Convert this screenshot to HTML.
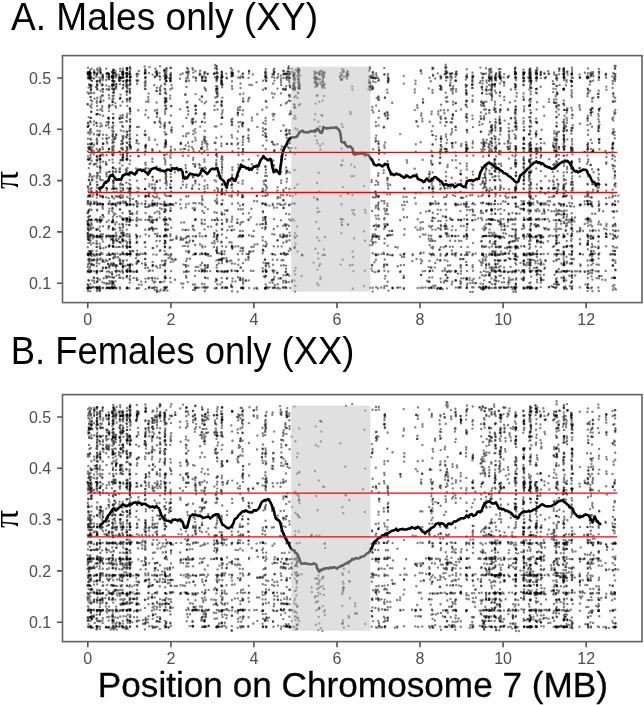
<!DOCTYPE html><html><head><meta charset="utf-8"><title>Pi along chromosome 7</title><style>html,body{margin:0;padding:0;background:#fff;width:644px;height:705px;overflow:hidden}
svg{display:block;filter:blur(.3px)}
.d{filter:blur(0.35px)}
.d path{stroke:#000;stroke-opacity:0.5;stroke-width:2.4;stroke-linecap:round;fill:none}
.ln{fill:none;stroke:#000;stroke-width:2.6;stroke-linejoin:round}
.red{stroke:#f00;stroke-width:1.3;fill:none}
.bd{fill:none;stroke:#636363;stroke-width:1.6}
.tk{stroke:#555;stroke-width:1.6;fill:none}
.tl{font-family:"Liberation Sans",sans-serif;font-size:16px;fill:#4d4d4d}
.tt{font-family:"Liberation Sans",sans-serif;font-size:38px;fill:#000}
.xt{font-family:"Liberation Sans",sans-serif;font-size:35.8px;fill:#000;stroke:#000;stroke-width:.3px}
.pi{font-family:"Liberation Serif",serif;font-size:36px;fill:#000}
</style></head><body><svg width="644" height="705" viewBox="0 0 644 705"><g class="d"><path d="M88.1 67.7h0m3.5 1h0m-1.5 3.8h0m-1.6 1.6h0m1.2 2h0m-1.8 1.6h0m2.1 1.9h0m2 1.4h0m-2.9 3.8h0m2 1.9h0m-2.6 .9h0m2.4 1.3h0m-3.2 3.6h0m3.9 .6h0m-1.3 4h0m1.8 4h0m-.4 3.1h0m-3.9 .1h0m2.5 1.7h0m.9 5.5h0m-.6 6.5h0m-.5 3.3h0m-2 1.9h0m.3 2.9h0m1.7 3.8h0m1.3 2.3h0m-3.3 .5h0m1.6 1.6h0m-1.7 4.4h0m3 .9h0m.7 3.5h0m-3.8 1.2h0m4.6 2.9h0m-3.6 1.4h0m2.5 .9h0m-3.6 1.8h0m3.9 1h0m-1.2 2.6h0m-2.4 1.5h0m1.2 2.3h0m2.3 2h0m-2.1 3.4h0m-.7 4h0m1.5 6.8h0m1.3 2h0m-2.8 3.1h0m3.4 0h0m-1.8 2.1h0m-.3 2.6h0m-2 2h0m3.6 1.4h0m-3.2 .7h0m0 2.2h0m3 .3h0m-.1 2.3h0m-1.4 2.2h0m2.5 .7h0m-4.5 .3h0m-.3 4.5h0m3.1 .3h0m-3.1 2.5h0m2.5 1.3h0m1.3 4.4h0m-2.9 2h0m1.6 4.1h0m-2.2 1.2h0m3.4 3h0m-3.6 .9h0m3.3 1.7h0m-2.9 2h0m2.6 1h0m.5 2.2h0m-3.6 .2h0m1.2 2.4h0m-1.1 2.8h0m2 1.1h0m2.7 .7h0m-4 1.5h0m1.9 1.4h0m-1.2 2h0m.8 2.5h0m-2.2 4.7h0m4.6 3.6h0m-3.6 .2h0m2.4 2.3h0m-3.1 1h0m3.4 1.7h0m-3.3 3.3h0m3.6 1.1h0m-2 2.4h0m-1.8 1.8h0m3.2 .5h0m-1.2 1.9h0m-2.3 0h0m2.8 3.7h0m-2.8 1h0m4.3 8.7h0m-3.1 .1h0m1.5 3.6h0m-2.8 .3h0m1.3 2h0m2.4 1.1h0m-3.9 1h0m.6 2.4h0m2.2 .4h0m7.3-221.2h0m-3.3 .4h0m3.6 2h0m-3.6 .2h0m.1 2.4h0m2 1.8h0m-2.3 1.6h0m3 2.5h0m0 3.2h0m-.8 2.7h0m1.1 2.4h0m-3.2 3.6h0m3.1 4.8h0m-2.7 .9h0m2.3 4.2h0m.2 3.1h0m.3 4.1h0m-.5 4.1h0m-2.8 7.3h0m2.5 1.6h0m-2.7 1.6h0m3.1 1.3h0m.5 4.8h0m-3.5 3.5h0m3.3 .6h0m-.2 3.6h0m.3 3.1h0m-.1 2.4h0m-3.1 .8h0m2.7 4.3h0m-3.1 1.9h0m4.3 .4h0m-4.3 3h0m3.6 2.7h0m0 3.8h0m-1 2.7h0m-2 1h0m2.9 2h0m.5 6.7h0m.1 2.3h0m-4.1 .7h0m3.2 1.8h0m-.1 3.8h0m.5 3.1h0m-.5 2.6h0m.2 4.5h0m-3.4 2.6h0m3.5 .2h0m-.4 2.8h0m-2.7 4.1h0m2.5 0h0m.7 2.1h0m-3.3 .3h0m3 5.5h0m-.8 9.4h0m1.3 2.8h0m-.6 7.9h0m-2.6 7.1h0m2.2 .1h0m.2 4h0m-3.2 2.1h0m3.6 .5h0m.1 3.5h0m-.5 3.9h0m-3 3h0m3.1 .4h0m.6 4.5h0m-3 .7h0m2.5 3.7h0m-3 2h0m3 .9h0m-2.8 5.1h0m3.3 .4h0m-3.5 5.9h0m4 1.1h0m-.4 2.2h0m-3.2 1.9h0m-.4 4.7h0m3.7 .3h0m-.6 3.4h0m2.7-223.4h0m.8 2.8h0m-.1 2.3h0m2.2 2.9h0m-3 1.7h0m3.2 2.7h0m-3.1 1.1h0m2.4 4.2h0m.7 3.5h0m-2.1 1.8h0m2.3 1h0m-.5 3.7h0m-1.7 1.4h0m0 2.4h0m2.7 1.5h0m-3.2 1.3h0m2.1 3.9h0m-.3 2.3h0m-1.8 1.6h0m2.1 1.1h0m-2.2 3.8h0m3 1h0m-2.5 7.8h0m-.3 3.1h0m-.4 4.3h0m-.4 2.9h0m3.5 1h0m-.3 3.8h0m.1 5.3h0m-.2 3.4h0m-2.8 2.2h0m2.6 4.5h0m-1.8 1.5h0m-.6 3.1h0m3 3.1h0m-2.8 .8h0m0 3.1h0m.2 2.3h0m-.2 4.3h0m-.2 4.2h0m0 2.3h0m2.6 1.5h0m-2.2 8h0m-.5 3h0m0 4.3h0m2.5 .9h0m-2.2 6.8h0m2.7 .7h0m-.4 3h0m.2 8.1h0m-2.3 2.2h0m.2 3.2h0m2.4 5.9h0m-3.2 .3h0m.2 4.5h0m3 3.2h0m-.5 2.3h0m-2.2 .6h0m1.8 1.8h0m.7 2.4h0m-3.1 2.2h0m.1 2.6h0m.6 2.1h0m3 0h0m-.9 5.5h0m-3.4 .7h0m1.5 3.9h0m2.3 2.6h0m-3.6 2.6h0m3.7 4.6h0m-2.8 3.1h0m3.5 6.9h0m-3.9 1.6h0m2.6 2.4h0m2.1 .9h0m-1.6 4.5h0m-2.8 .1h0m-.4 3.3h0m6.5-222.4h0m2.1 4.9h0m.9 3.2h0m-2.4 .1h0m1.7 2.3h0m-2.4 .9h0m.2 5.5h0m2.9 1h0m-2.6 2.7h0m2.2 .6h0m.1 5.4h0m.3 3h0m.1 7.8h0m-.4 5.1h0m-.2 8.1h0m-.2 2.9h0m-.4 2.6h0m-2.1 1.1h0m3 1.8h0m-2.5 7.3h0m2.5 2.7h0m-2.2 1.1h0m.5 4.7h0m1.7 5.6h0m-2.2 3.3h0m-.1 2.9h0m2.6 4.9h0m-3.3 3.9h0m2.9 8.1h0m-2.4 .6h0m.1 3.7h0m-.7 4.5h0m2.8 .2h0m-1.6 7.7h0m-.8 8.4h0m2.5 .9h0m.8 3.1h0m-.9 2.5h0m.8 4.9h0m-.5 2.5h0m-.2 2.2h0m-.1 7.1h0m-2.1 1.5h0m2.5 4.2h0m-.6 2.4h0m-.2 7.8h0m2.4 .5h0m-4.4 .5h0m2.7 8.6h0m-3.1 1.3h0m3.3 7.5h0m-2.3 .2h0m3 4.2h0m-2.7 1.9h0m1 3h0m2.6 .4h0m-1.6 1.8h0m-3 1.6h0m.6 3.7h0m3 .9h0m0 4.6h0m-2.8 .1h0m2.5 3.9h0m-.4 2.7h0m-2.5 .6h0m0 3.6h0m3.4 .4h0m3.5-218.9h0m1.8 1.5h0m-.1 2.4h0m-2.2 .6h0m-1.1 2.6h0m3.7 1.1h0m-2.5 .8h0m-.3 2.5h0m-.5 3.2h0m3.9 .1h0m-3.5 2.3h0m3.2 .5h0m-1.8 1.8h0m-.2 3.3h0m-1.3 3.9h0m-.1 3.2h0m.1 2.3h0m2.7 1.6h0m-2.9 1.8h0m3 1.3h0m-2.1 7.7h0m-.2 4.3h0m-.1 4.6h0m-.7 4.2h0m1.3 4.5h0m-.8 2.2h0m3.3 1h0m-3.6 1.3h0m2.8 .9h0m-.2 2.2h0m-2.6 .6h0m0 3.4h0m-.4 4.1h0m.1 2.3h0m-.4 2.7h0m1.4 3.2h0m-.6 4h0m.2 3.2h0m.5 5.1h0m2.2 1.2h0m-2.6 2.1h0m2.7 .9h0m-3.1 3.6h0m1 5h0m.1 2.4h0m-.2 2.3h0m.4 3.2h0m2.9 .6h0m-3.1 2.9h0m3 0h0m-4.6 4.1h0m4.9 .9h0m-3 1.5h0m1.3 5.3h0m-2.4 .3h0m3.4 2h0m-3.7 2.3h0m-.5 2.5h0m1.5 1.8h0m1.8 1.3h0m-2.4 3.2h0m.2 2.9h0m.5 2.2h0m2.9 0h0m-1.3 2.2h0m-.2 4.8h0m-2.2 .2h0m3.3 3.4h0m-.3 2.5h0m-2.2 .9h0m-1.2 2.8h0m3.2 1.3h0m-2.7 2.8h0m.5 3.7h0m2.8 .3h0m-3.1 6.6h0m1.8 2.1h0m-1.4 1.6h0m-.2 5.9h0m2.7 1.9h0m-.1 2.2h0m.8 3h0m-4.5 3.8h0m4.2 1.4h0m-4.3 1.7h0m3.3 4h0m-2.7 .2h0m.1 2.5h0m2.2 3h0m-2.6 1.3h0m7.7-219.7h0m2.7 .1h0m-2.7 2.4h0m2.5 .9h0m-.1 2.6h0m-3.3 0h0m.2 2.3h0m2.9 .9h0m-2.8 3h0m.4 3.4h0m.7 10.4h0m0 3h0m1.9 4.1h0m-2 4.1h0m2.3 9.1h0m-2.3 .8h0m2.2 2.1h0m-3.2 .8h0m2.8 3.5h0m.6 4.7h0m-2.1 3.7h0m1.6 5.8h0m-.2 5h0m.3 2.4h0m-1.4 4.6h0m1.8 1.4h0m-3.1 1.9h0m.7 2.9h0m2.5 .1h0m-.3 5.6h0m-2.3 0h0m-.8 2.9h0m2.8 2.3h0m-2.9 4h0m.1 2.6h0m1.1 11.2h0m1.9 1.4h0m-2.1 3.2h0m2.4 .6h0m-2.4 2.2h0m2.3 5.1h0m-3.3 1.2h0m3.5 4.5h0m-5.2 2h0m2.4 0h0m-.2 6.1h0m2.5 3.5h0m-2.6 3.2h0m-2.9 .4h0m5.8 2.7h0m-3.3 5h0m-.1 3.3h0m3.1 2.8h0m-2.4 0h0m2.6 2.4h0m-2.6 4.3h0m-1.5 1.8h0m3.9 0h0m.3 2.5h0m-3.1 .5h0m0 5h0m2.9 5.3h0m-5 1.4h0m3.2 .7h0m-2.8 2.9h0m4.6 3.6h0m-2.5 0h0m2.8 2.4h0m-2.7 .6h0m2.7 4h0m-.7 2.7h0m-3.2 .4h0m.1 4.1h0m1.3 2.8h0m-.3 10.9h0m6.9-218.8h0m-.4 2.8h0m.4 3.2h0m.2 4.8h0m-3.9 .6h0m2.9 1.7h0m-2.7 1.6h0m2.8 1.6h0m-3.1 1.4h0m3.9 1h0m-.4 3.5h0m.1 2.7h0m.1 4.7h0m.4 6.4h0m-.4 9.8h0m-.3 5.9h0m-3.1 9.7h0m3.6 .4h0m.3 2.8h0m-1.2 2.4h0m-3.1 1.6h0m3.8 3.9h0m.3 5.1h0m-.1 2.3h0m.5 2.6h0m-.5 4h0m-3.8 .5h0m3.1 2h0m-.4 10.7h0m0 2.9h0m-2.9 3.9h0m3.3 6.3h0m.9 5.5h0m0 8.8h0m-1.9 4.6h0m1.7 2.4h0m0 14.4h0m-2.3 .1h0m1.8 3.3h0m-.1 2.8h0m-3.3 1.3h0m3.6 3.7h0m.3 4.4h0m-4.1 2.2h0m3.9 .2h0m.2 5.5h0m-4.1 3.7h0m3.6 .7h0m-1.4 8h0m2.1 0h0m-.5 5.9h0m1 4.5h0m-2.7 1.3h0m2.5 3.1h0m0 2.3h0m-4.6 1.3h0m3.9 3.5h0m-3.7 2.1h0m3.7 10h0m3.2-220.4h0m-.1 3.3h0m0 3.4h0m0 2.7h0m0 2.9h0m.3 2.6h0m-1 2.4h0m.2 4h0m.4 4.1h0m.4 4.3h0m-.8 2h0m.6 9.1h0m.3 2.9h0m-.4 2.2h0m.2 5.1h0m0 3.1h0m0 4.5h0m-.2 4.5h0m-.3 5.1h0m-.3 3h0m.4 2.5h0m-.1 3h0m.7 2.7h0m0 8.8h0m-.2 4.4h0m-.6 3.6h0m.2 8.6h0m0 2.8h0m0 4.5h0m-.6 3.6h0m.3 5.5h0m.7 3h0m.1 3.4h0m-.7 2.6h0m3.3 .8h0m-2.9 2.4h0m0 2.7h0m3.9 1h0m-4.6 6.3h0m.9 2.3h0m2.3 .6h0m-2.9 3h0m.1 2.4h0m3.1 .5h0m-3.6 1.7h0m.3 3.2h0m-.1 9.3h0m-.3 2.3h0m.7 2.7h0m.3 2.4h0m-.2 5.1h0m-.1 4.1h0m2.6 .1h0m-2.2 2.8h0m0 10.1h0m2.1 .8h0m-2.5 2.5h0m0 3.6h0m3.2 .9h0m-3 4.3h0m3.7 1.9h0m-4.1 .6h0m.1 4.1h0m-.4 5.7h0m9.5-217.3h0m-.4 3.2h0m-1.3 2.4h0m-.5 3.6h0m.5 3.6h0m1.2 26.4h0m-1.3 16.7h0m0 8.2h0m-.4 5.3h0m-.1 2.7h0m.9 7.5h0m1.1 5.3h0m-2.5 12.5h0m1 4.6h0m-.1 7.7h0m.6 6.9h0m-.9 4.8h0m2 3.6h0m-2 5.2h0m1.8 2.3h0m-1.3 3h0m-.4 7.1h0m2.1 6h0m-2.3 .2h0m.1 6.2h0m-.6 8.5h0m4.1 1.9h0m-3 .1h0m0 5.1h0m0 9h0m3.3 3.2h0m-3.7 .3h0m-.7 4.2h0m2.3 2.5h0m-1.9 2.7h0m.2 8.3h0m0 6.2h0m.2 2.1h0m2 4.5h0m-1.6 3.3h0m7.5-221.4h0m.4 3.5h0m0 2.4h0m.8 4.9h0m-.4 3.3h0m.1 4.3h0m-.7 4h0m1.2 12.7h0m0 8.7h0m-.8 4.4h0m-.3 16.3h0m.5 3.8h0m.5 9.8h0m-.7 2.7h0m-.2 4.5h0m-.3 2.6h0m.5 8.4h0m.9 5.4h0m-.9 3.9h0m-.1 6.8h0m0 10h0m.1 8h0m.3 4.2h0m-3.9 2.6h0m3.7 0h0m.3 3.4h0m-.2 5.8h0m-.1 6.9h0m-4.3 0h0m4.2 9.9h0m.3 4.7h0m-.5 7.9h0m.3 4.7h0m-.3 6h0m-2.3 .9h0m2.1 5h0m.4 4.3h0m-3.2 .2h0m3.1 4.6h0m.3 10.6h0m-4.3 3h0m4.5 .3h0m-4.1 2.8h0m4 4.4h0m3.8-222.2h0m-.5 6.1h0m3.7 1.6h0m-4 19h0m-.4 3.5h0m.2 2.5h0m-.1 2.3h0m0 15.6h0m.7 20.1h0m.2 2.3h0m3.6 9.9h0m-.4 9h0m0 3h0m-3.6 6.8h0m-.2 2.3h0m4 5.7h0m.4 3.7h0m-3.6 3.8h0m2.6 .4h0m-2.8 1.8h0m3.1 1.5h0m-3.4 4.9h0m3.9 3.2h0m-4.2 0h0m4 4.7h0m-.5 2.7h0m-2.9 1.2h0m3.4 1.5h0m-4.6 1h0m1.6 9.8h0m2.1 .5h0m-3.7 2.6h0m4.1 .7h0m-1.6 1.5h0m1.3 5.4h0m-2.9 1.3h0m4 1.7h0m-3.9 5.5h0m3.6 12.1h0m0 13.8h0m.1 3.4h0m-4.8 2.4h0m4.7 3.1h0m-3.9 .3h0m3.3 6.9h0m-3.8 .6h0m4.4 1.9h0m-3.5 6.6h0m2.7 .8h0m3.6-219.2h0m1.3 3.1h0m.2 2.3h0m-1.9 2.4h0m-.8 8.6h0m2.7 2.7h0m-.3 3.2h0m0 11.5h0m.5 7.3h0m-2.3 .7h0m2.3 3.6h0m-.2 2.7h0m-2.1 5.4h0m.3 17.6h0m2 4.8h0m-.5 22h0m.3 14.1h0m-2.1 3.7h0m.6 4h0m-.7 4.4h0m2.3 .7h0m.3 2.9h0m.2 7h0m-2.9 .3h0m2.3 7.9h0m-2.2 1.4h0m2.2 6.3h0m-.3 9.5h0m.8 4.8h0m-2.4 .4h0m1.9 2.4h0m-.5 4.5h0m.5 5.3h0m-3.5 8.2h0m3.2 .3h0m.6 12.8h0m-2.1 10.8h0m2.6 .3h0m-3.8 3.9h0m3.1 5.1h0m-2.9 .5h0m3 3.5h0m3-225.3h0m4 4.4h0m.6 2.1h0m-5.1 .1h0m.5 4.2h0m-.1 2.5h0m4.5 4h0m-4.4 4.2h0m4.6 .9h0m-4.4 2.1h0m-.1 2.8h0m4.8 9.4h0m-5.1 15.5h0m-.1 3.2h0m1 1.9h0m3.6 2.2h0m-4.1 .9h0m4.3 1.5h0m.2 3.9h0m-.2 15.3h0m-4.9 3.9h0m4.4 3.5h0m.2 3.4h0m-4.5 10.3h0m.2 3.1h0m-.1 8.6h0m.3 7.9h0m4.5 6.1h0m-5.3 4.3h0m5 3.1h0m-4.2 2.4h0m4.1 .2h0m.5 4.7h0m-3 .2h0m-2.5 2.5h0m5.6 .5h0m-5.3 1.7h0m5.4 3.5h0m-5.4 .3h0m3.8 2h0m1.2 15.9h0m-4.4 .8h0m-.4 4.6h0m4.8 5.6h0m0 4.4h0m-4.8 .1h0m2.1 9.7h0m2.7 .1h0m-1.7 4.1h0m-2.6 .2h0m-.2 2.4h0m4.9 10.7h0m-.6 3.2h0m-4.4 .9h0m4.6 5h0m.1 3h0m-5.1 1.1h0m11-223.5h0m-4.1 .7h0m.1 2.2h0m4.3 2.2h0m-4.6 2.6h0m4.4 2.2h0m-5.2 .4h0m5.2 2.5h0m-4.3 .4h0m3.9 8.2h0m-4.1 4.7h0m3.9 1.6h0m-3.7 2.8h0m3.8 .1h0m-4 2.2h0m-.1 4.9h0m0 3.1h0m-1 2.9h0m0 2.2h0m5.8 1.7h0m-5.8 7.1h0m4.6 .1h0m-3.3 11.6h0m-.3 8h0m4.9 7.5h0m-4.2 4.3h0m3.3 1.4h0m.5 2.3h0m-5.3 4.1h0m0 2.3h0m5.5 .7h0m-5.1 8.6h0m4.9 .6h0m-4.3 2.5h0m4.4 .3h0m-4.7 3.3h0m.7 2.6h0m3.6 1.6h0m-3.6 .7h0m3.7 2.5h0m-4.3 .8h0m-.2 7.6h0m2.3 .1h0m2.8 0h0m-2.3 9.3h0m-2.4 .1h0m4.3 2.7h0m0 2.5h0m-5.1 8.9h0m5.2 .1h0m-4.6 3.8h0m2.1 6h0m-3 .1h0m5.2 4.6h0m-3.2 2h0m3.4 3.9h0m-4.8 2.5h0m3.9 5.1h0m-3.5 6.7h0m4.7 .1h0m-2.5 .5h0m1.9 1.8h0m-1.9 1.4h0m2.2 3.9h0m-5.2 1.6h0m-.2 6.8h0m5.8 .6h0m-5.8 4.9h0m5 1.9h0m.4 4.3h0m-3.7 4.7h0m.5 3.6h0m4.2-205.5h0m-.4 21.1h0m.6 21.4h0m-.1 2.8h0m-.7 16.4h0m3.9 2.8h0m-3.7 3.5h0m-.1 14.8h0m3.6 1.8h0m.1 2.7h0m-3.5 8.7h0m-.2 10.5h0m4.7 11.4h0m-4.7 2h0m2.3 .1h0m-2.1 22.7h0m5.3 8.6h0m-.2 2.3h0m-3.5 1.2h0m-.4 19.7h0m2.8 .2h0m-1.9 1.9h0m1.6 18.2h0m7.7-206.3h0m-2.2 .9h0m-.5 4.3h0m.2 30.5h0m2.7 17.1h0m-2.2 16.4h0m-.1 6.7h0m2.2 6.4h0m0 25.6h0m0 3.3h0m-1.8 3.2h0m-.3 11.7h0m-.5 4.5h0m.9 4.2h0m.2 14.3h0m1.4 7.1h0m-1.5 9.1h0m1.6 7.3h0m0 41.4h0m4.3-219.5h0m1.3 4h0m-.6 3.9h0m-1.6 2.7h0m2.7 2.1h0m-2.7 .4h0m.3 5.9h0m-.9 7.4h0m2 7.2h0m.3 5.8h0m.3 3.6h0m-.1 3.5h0m-1.6 3.4h0m2 15.3h0m-5.3 2.9h0m2.9 .2h0m1.9 6.5h0m-2.4 2.7h0m3.3 .9h0m-5.3 2.5h0m4.9 1.2h0m-5.4 2.4h0m5.3 3.3h0m-2.8 9.4h0m.2 3h0m.3 4.2h0m-.5 4.5h0m1 7.7h0m-.3 2.6h0m2.1 9.1h0m-2.3 .2h0m2.6 7.1h0m-2.6 .9h0m-.4 2.9h0m-1.6 15h0m4.3 7.5h0m-2.8 0h0m3.4 6.7h0m-2.5 .2h0m-2.7 1.8h0m2.7 3.8h0m2.3 .1h0m-3.7 3.4h0m2.8 .4h0m-1.6 4.8h0m2.3 1.3h0m-1.6 6.4h0m-.8 2.3h0m-2.8 3.5h0m2.5 .5h0m2.4 .5h0m.5 5.8h0m-2.6 .2h0m-2.3 .4h0m2.5 5.7h0m1.3 4.4h0m-4.4 1.7h0m9.8-214.2h0m.1 3h0m.1 4.4h0m-1.2 42h0m-.6 2.7h0m.9 2.2h0m1 6.9h0m-.2 3.3h0m-.7 7.6h0m-.5 5.6h0m1.3 1.9h0m.4 2.4h0m-.4 6h0m-.2 2.1h0m.1 4.2h0m.1 13.5h0m-.5 8.1h0m-.7 3h0m1.3 14.5h0m-.7 5.1h0m2.2 .1h0m-1.6 17.5h0m-.3 3.6h0m-.1 6.9h0m-2.9 4.3h0m3.2 .6h0m0 13.5h0m-3.3 4.1h0m5 17.4h0m-2 8.4h0m7.2-213.8h0m-4.6 .5h0m4.7 3h0m-4.4 3.5h0m.2 2.9h0m-.4 13.5h0m4.1 5.4h0m-3.8 6.5h0m0 3.5h0m-.3 4.4h0m.1 7.9h0m4.5 4.8h0m-5 2.5h0m.2 3.3h0m-.2 5.2h0m.5 2.6h0m3.6 10.9h0m-3.9 13h0m4.4 1h0m-4.6 1.7h0m4.4 .9h0m-4.4 12.9h0m.2 2.8h0m3.9 1.2h0m-.3 4.3h0m-3.4 14.4h0m3.7 0h0m-4.3 16.7h0m4.7 13.2h0m0 2.9h0m-3.8 .4h0m4.1 7.8h0m-4.8 .7h0m4.7 9.2h0m-4.5 0h0m5.1 11h0m-4.6 1.7h0m2.3 .2h0m-2.7 3.7h0m3.5 .1h0m-3.9 13.6h0m4.2 3.1h0m-3.7 .3h0m-.5 2.2h0m10-217.7h0m-3.2 4h0m3.7 1.2h0m-3.6 3.1h0m2.5 0h0m0 7.1h0m1.3 2.8h0m-3.9 6.2h0m-.2 4.8h0m4.5 0h0m-1.6 1.6h0m0 12.1h0m-.2 2.8h0m-2.2 3.8h0m2.9 .5h0m-.3 8.5h0m-.7 5.7h0m.1 2.2h0m-1.9 2.9h0m2.4 .9h0m-2.7 1.7h0m.4 2.8h0m2 3.8h0m-2.3 2.4h0m2.2 6.1h0m.2 2.4h0m.4 5.6h0m-2.3 .6h0m3.7 5.3h0m-4.2 2.9h0m2.7 4.4h0m-.3 5.6h0m0 2.7h0m0 3.5h0m-2.5 3.7h0m.3 2.4h0m.1 6.2h0m2.8 2.4h0m-2.8 3.9h0m1.7 2h0m-2.4 6.8h0m3.1 .1h0m-3.2 2.8h0m3.2 1.2h0m-.2 5.5h0m1 6.6h0m-3.2 .4h0m2.8 10.2h0m-2.6 .8h0m2.8 6h0m-3.4 .2h0m0 9.4h0m2.6 2.2h0m-3.1 4.1h0m3.1 1.2h0m2.4 .8h0m-5.3 .3h0m3.6 6.1h0m-3.3 6.1h0m2.5 .4h0m-2.1 3.2h0m3 .9h0m-.5 2.8h0m2.8-217.4h0m-.1 70.5h0m-.5 2.4h0m.3 2.8h0m.6 5.7h0m-.6 30h0m.2 2.9h0m.2 21.1h0m4.3 10.8h0m-.9 6.7h0m-3.1 .1h0m4.1 16.3h0m-4.2 10.9h0m2.7 2h0m-2.6 9.2h0m-.6 2.2h0m2.6 3.8h0m-2.4 7.1h0m0 9h0m7.5-222.3h0m1.5 1.7h0m-1.7 1.5h0m2 1h0m-2.8 4.3h0m3.3 0h0m.1 3.2h0m-1.1 1.9h0m.1 2.6h0m.8 5.4h0m-.3 2.6h0m-1.1 2.1h0m1.7 1.9h0m0 2.7h0m-2.4 1.7h0m2.3 4.4h0m-3.1 3.9h0m3 3.6h0m-2.9 .5h0m1.9 16.5h0m-.2 11.3h0m-1.7 5.1h0m1.5 6.9h0m.8 3.5h0m.1 3.3h0m-.6 3.5h0m-.2 4.3h0m-.1 3.7h0m.8 7.8h0m-2.4 4.3h0m1.7 1.3h0m1.8 7.8h0m-3.5 1.4h0m2.5 4.6h0m-.3 3.5h0m.5 2.7h0m-.1 2.2h0m-2.6 8.7h0m2.4 .4h0m.9 7.2h0m-3.2 .2h0m2.2 3.5h0m-.2 7.2h0m-2.1 2.6h0m-.6 3.5h0m3.4 .1h0m-.3 2.1h0m-2.6 1.8h0m3.2 .4h0m-3 2h0m-.7 3.8h0m3.1 1.7h0m-.1 2.2h0m-.5 9.4h0m2.5 2.8h0m-2 1.7h0m-.3 2.6h0m.6 3.5h0m-.3 9h0m-1.4 1.6h0m1.8 2.7h0m-2.7 4.1h0m7.3-216h0m0 2.4h0m-.4 4h0m.2 2.9h0m-.1 2.4h0m.5 3.1h0m.3 10.4h0m-.6 3.8h0m-.1 3h0m.7 7.8h0m-.8 2h0m.3 3h0m-.6 6.9h0m.1 12.7h0m0 6.7h0m.1 2.5h0m.4 10.2h0m-.5 2.6h0m.4 3.1h0m.2 2.4h0m.2 3.4h0m-.2 2.3h0m-.1 2.8h0m-.5 3.1h0m1.1 8.3h0m-.3 5.1h0m-.5 2.1h0m.5 2.3h0m2.6 .5h0m-2.3 6.1h0m-.8 4.1h0m.3 9.8h0m2.4 .1h0m-2.7 5.6h0m.1 3.9h0m0 5.6h0m.2 5.1h0m-.4 7.3h0m.5 4.5h0m2.5 5h0m-3.1 1.2h0m-2.5 .9h0m5.3 .7h0m-2.1 4.2h0m-2.8 1.7h0m2.6 3.2h0m-.4 8.3h0m2.5 .5h0m-2.5 5.9h0m.5 4.4h0m-1.8 2.1h0m4.3 3.3h0m-2.7 .3h0m4.4-214.4h0m.6 4.6h0m.1 65.5h0m-.7 46.9h0m3 5h0m-1.9 14.7h0m-2.4 .1h0m1.5 8.9h0m.3 2.5h0m2.7 4.9h0m-2 3.6h0m-1.1 7.5h0m-.3 8.9h0m.2 11.6h0m.7 2.5h0m2.6 .2h0m-2.9 10.6h0m.4 6.7h0m-.3 9.4h0m5.5-218.1h0m.5 3.4h0m-1.5 3.3h0m.7 5h0m-.1 4.9h0m.4 2.5h0m.1 30h0m-.2 3.3h0m-.2 2.5h0m-.3 10.6h0m.4 2.3h0m-.2 6.9h0m.6 7h0m-.1 16.1h0m0 2.6h0m-.2 4.7h0m-.5 6.8h0m.7 2.8h0m-.6 3.4h0m.8 3.2h0m-.9 5.9h0m.4 6.9h0m0 13.1h0m.1 2.4h0m-.7 2.5h0m.7 4.6h0m1.9 3.3h0m-2.8 .5h0m.3 12.3h0m3.8 4h0m-3.6 .3h0m.5 2.2h0m-.4 14.6h0m2.8 .2h0m.2 7h0m-3.2 .4h0m.9 7.3h0m-.3 3h0m3.2 0h0m-4.1 5h0m.6 4.8h0m6.6-219.7h0m4 2.8h0m-2 2.2h0m2.3 .4h0m-4.7 .5h0m2.3 6.1h0m.1 4.4h0m-.5 6.4h0m0 12.7h0m-2.3 3h0m0 2.7h0m4.8 1.8h0m-4.7 .7h0m.6 7h0m3.4 2.3h0m-3.1 2h0m-.9 5h0m-.7 7.1h0m5.5 3.6h0m-4.5 1.1h0m4.4 1.7h0m-4.1 3.5h0m4.4 .7h0m-4.5 3.5h0m4.3 1.4h0m-4 1h0m4.1 5.4h0m-4.4 4.3h0m-.1 3h0m.1 8.3h0m4.3 4.7h0m-4.4 1.9h0m4.3 1h0m-4.4 7.5h0m-.5 4.1h0m.4 8h0m1.8 2.3h0m2.9 3.5h0m-4.4 .1h0m-1 10.2h0m5.4 2.6h0m-5.4 .9h0m2.8 1.6h0m2.5 6.4h0m-2.6 .1h0m1.9 4.6h0m-2.2 .5h0m-1.6 10.2h0m4.4 2.4h0m-2.2 2.2h0m2 2.9h0m-4.5 .4h0m.7 5.5h0m4.4 3.4h0m-4.8 1.7h0m2.7 2.8h0m2.1 3.1h0m-5.4 .3h0m.4 6.2h0m2.3 2.7h0m2.4 7.6h0m-5.1 4.2h0m11.4-218.4h0m-.4 4.6h0m-5.2 15.7h0m-.2 4.9h0m5.4 .2h0m-.4 2.4h0m-5 .1h0m-.1 9h0m5.4 18.9h0m0 6h0m-5.4 1.4h0m5.5 2.3h0m-5.5 .8h0m5.7 1.6h0m-5.7 10.3h0m5.8 7.9h0m-.1 8.2h0m-5.6 29h0m-.2 8.5h0m5.9 8h0m-5.9 .6h0m5.6 5.7h0m-5.6 31.5h0m5.8 3.2h0m-.4 3.2h0m0 2.5h0m-2.7 0h0m-2.6 18.7h0m5.7 1.9h0m-3 .5h0m-2.7 1.1h0m6-211h0m3.7 3.4h0m-3.3 10.3h0m2.2 .2h0m.2 32.9h0m0 2.6h0m.1 43.8h0m-.1 24.3h0m2.3 12.5h0m-2.8 7.7h0m-.7 8.5h0m3.1 13.7h0m-4.8 4.4h0m2.7 .7h0m3 8.4h0m-1.1 2.4h0m-2.2 .2h0m1.9 4.3h0m-2.4 .3h0m.1 19.1h0m2.4 .2h0m-4.3 17.2h0m5.3 .3h0m2.1-206.2h0m.8 32.1h0m.1 12.6h0m.4 28.7h0m-.9 11.8h0m.3 5.5h0m-.4 22.9h0m.4 5.4h0m-.4 23.2h0m3.2 .1h0m-2.6 19.8h0m-.2 44.4h0m8.6-219.5h0m-.5 2.5h0m.2 2.4h0m-.5 2.6h0m-2 4h0m3.3 .2h0m-.5 7.8h0m-2.8 1h0m3.3 12.1h0m.3 5.4h0m-4.2 2.6h0m3.1 8.1h0m.1 2.9h0m-2.4 2.2h0m2.4 1h0m-2.6 4.2h0m2.5 1.4h0m-2.3 1.7h0m2.7 2.6h0m-3.1 1.2h0m3.7 1.9h0m.1 3.4h0m-3.6 5.2h0m2.7 3.7h0m-.3 16.9h0m.5 3.5h0m-.2 3.1h0m-.6 3.1h0m.6 4.9h0m-.1 4.3h0m1.3 3.2h0m-4 .4h0m2.6 1.7h0m-2.5 1h0m-.4 4.5h0m3 .2h0m-3.2 7.5h0m2.8 .4h0m-2.3 7.2h0m2.6 5.7h0m-2.4 .7h0m2.2 1.7h0m-2.3 .8h0m2.9 2h0m-3.2 1.8h0m2.7 3.6h0m-3.1 .4h0m.4 9.1h0m0 3.4h0m2.9 1.3h0m1.1 2.2h0m-3.3 1.8h0m2.1 .7h0m-2.5 3.4h0m-.3 3.4h0m2.4 6.3h0m-1.7 3.1h0m2.9 .6h0m-.3 3h0m-3.3 2.1h0m3.4 2.9h0m-3.4 .1h0m3.3 4.8h0m-2.2 .4h0m1.9 7.9h0m1.2 2.5h0m-1.6 1.7h0m7.2-214.4h0m-.4 2.7h0m-.1 16.4h0m0 48.7h0m-4.9 51h0m.7 2h0m4.9 8.8h0m-3.2 1.8h0m2.8 28.5h0m-.4 19.8h0m.8 5.9h0m-4.2 4h0m.6 2.7h0m3.8 4.3h0m-.9 9.5h0m-2.3 2.3h0m3 .1h0m-3.1 4.4h0m3 .5h0m1-217.4h0m.3 2.4h0m4.3 1.4h0m-3.8 3.8h0m3 .3h0m-3 2.5h0m-1.2 2.9h0m4.3 5.1h0m-3 5.4h0m-1.5 3.4h0m1.5 16.6h0m-1.1 2.1h0m0 3.5h0m-.3 24.6h0m4.4 0h0m-3.4 7.6h0m-.7 8.8h0m.5 4.6h0m.4 3.3h0m3.3 18.6h0m-.3 3.4h0m.7 6.5h0m-.5 6.7h0m-.5 3.9h0m-2.9 .1h0m0 11.4h0m3.4 7.2h0m-3.7 2.7h0m.7 5.4h0m3.2 5.9h0m-3.9 6h0m4 .1h0m-2.5 8.3h0m2 5.1h0m-4.2 4.9h0m4.1 8h0m-2.8 4.3h0m3.3 7.2h0m-2.9 .7h0m0 2.4h0m3.4 .3h0m5-216.9h0m.3 3.7h0m-2.5 1.2h0m2.5 2.2h0m-2.5 .6h0m0 4.2h0m.2 2.3h0m2 4.1h0m-2.2 4.4h0m0 11.7h0m2.6 20.3h0m-2.7 5.5h0m.8 15.5h0m2 1.1h0m-2.6 1.9h0m2.8 .9h0m-2.9 6.1h0m0 3.5h0m.1 11.9h0m.1 8.7h0m0 2.6h0m2.2 6.7h0m-2.4 5h0m2.3 .5h0m-3 2.1h0m3.3 2.9h0m-3.8 3.7h0m3.7 1h0m0 2.9h0m-2.5 12.4h0m2.2 5.5h0m.7 9.6h0m-3.7 1.2h0m2.4 .6h0m.8 5.6h0m-1.7 3.6h0m2.2 6.5h0m-3 1h0m.7 6.3h0m2.3 5h0m-2.7 .2h0m2.3 9.9h0m-2.8 2.9h0m2.7 4.2h0m-.4 4.8h0m5.8-221h0m-.5 2.3h0m-.9 2.9h0m2.7 2.3h0m-2.4 .6h0m1.5 2.5h0m-3.2 1.3h0m3.5 4.3h0m.1 2.9h0m-3.4 .9h0m4.1 1.2h0m-4.3 1.8h0m3.7 7.7h0m.6 4.1h0m-4.4 2.4h0m4.8 7.7h0m-1.1 3.3h0m-3.1 15.1h0m3.3 1.1h0m.2 3.2h0m-3.5 .2h0m.2 3.8h0m3.3 2.7h0m-.2 2.8h0m-3.4 .6h0m3 4.5h0m.8 2.7h0m-4.2 4.1h0m-.9 3.9h0m1.1 8.3h0m1.2 3.2h0m2.2 1.9h0m-3.5 .7h0m.9 5.5h0m-.3 2.9h0m-.6 6.3h0m3.4 1.1h0m-.2 3.4h0m-2.2 2.6h0m2.8 .6h0m-4.5 8.2h0m3.9 .9h0m-3.2 9.1h0m3.2 .4h0m0 5.3h0m-.3 6.4h0m-3.1 .1h0m1.1 3h0m2.5 3.6h0m-2.4 3.2h0m2.8 0h0m-.4 4.5h0m-2.9 1.8h0m3.3 6.3h0m-1.1 2.5h0m-2.2 3.3h0m-.5 11.4h0m-.1 3.1h0m-.4 3.2h0m1.8 2.7h0m1.9 1.1h0m-.1 6.4h0m-3 .5h0m-.7 4.7h0m4.7 .6h0m1.4-219h0m-.2 3h0m2.1 2.5h0m.3 2.2h0m1.4 1.7h0m-.7 4.6h0m-1.6 2.8h0m-.2 3.2h0m2 1h0m1.1 6h0m-1.1 8.8h0m-.5 2.3h0m.7 8.7h0m.7 2.8h0m-.3 10h0m-3.8 19.4h0m4 .2h0m-.8 5.6h0m0 16.3h0m-.1 17.9h0m1 6.3h0m-3 1.9h0m2.3 7.5h0m-3.2 .1h0m.7 15.2h0m1.8 1.6h0m.9 12.8h0m1.8 2.7h0m-2.3 .4h0m1 7h0m-1.1 4.4h0m1.1 19.8h0m-1 3.2h0m.6 3.5h0m-.7 6.1h0m-2.5 1.3h0m3.3 4.2h0m-.3 5.6h0m3-223.3h0m1.5 2.1h0m-2.3 .2h0m1.2 3h0m1.8 1.9h0m-3 .3h0m1.3 3.8h0m.7 2.3h0m-.5 4.1h0m1 2.5h0m-1.9 4.4h0m-.3 5.1h0m2.8 6.1h0m-2.9 25.5h0m0 55h0m-.4 41.9h0m.5 25.1h0m5.1 3.7h0m-1 20.8h0m13.1-202.5h0m-.3 4.8h0m.2 3.5h0m-.1 37.8h0m.1 12.5h0m-.5 65.3h0m-.5 65.2h0m6.6-190.3h0m-3.1 .5h0m2.1 1.7h0m-1.7 3.3h0m2 1.5h0m-3.3 .3h0m.5 2.8h0m3.9 1.1h0m-2.2 .3h0m-3.2 3h0m1.5 9h0m2.7 5.9h0m-3.8 1.9h0m-.4 10.5h0m3.1 7.5h0m1.5 4.9h0m-2.5 1.9h0m-2.2 7.5h0m1.8 4.5h0m.7 3.1h0m2.5 2.2h0m.4 3.8h0m-1.9 23.3h0m-1.5 10.1h0m2.2 8.7h0m-2.3 7.3h0m.6 9.4h0m1.9 3.3h0m-3.2 10.3h0m2.7 6.9h0m-1.7 8.7h0m2 3.1h0m-3.8 8.1h0m2.5 4.5h0m.3 5.4h0m.8 7.2h0m-1.6 3.8h0m2.9 7.3h0m.1 2.2h0m-3.4 4.1h0m1.5 2.1h0m3.5-214.5h0m1.6 2.8h0m-1.4 2h0m1.7 1.3h0m-1 3.1h0m-.1 2.4h0m.1 2.6h0m-.8 2.4h0m2.4 .6h0m-.6 7.9h0m-1.3 4.7h0m-1.4 14.5h0m1.1 15.6h0m.3 13.1h0m2.3 93.2h0m-1 12.4h0m.4 5.3h0m-2.1 .4h0m19.8-185.9h0m1.5 2.2h0m-3.3 2h0m1.4 1.6h0m-1.7 1.8h0m3.9 .2h0m-2.6 1.9h0m.5 45.4h0m.9 2.6h0m-.7 14.8h0m-.5 7.1h0m1 11.7h0m-.5 4.4h0m.9 22.2h0m-2.3 8.9h0m.9 8.2h0m-.7 14.8h0m2.4 .4h0m-1.6 2.8h0m.3 2.4h0m-.5 8.5h0m1.2 26.7h0m-1.8 4.8h0m7.2-192.3h0m.3 2.5h0m-1.4 2.3h0m3.7 36.9h0m-2.8 79.5h0m.3 31h0m1.9 40.8h0m2.2-178.9h0m.1 3.1h0m2.3 62.7h0m-3.4 12.4h0m3.4 2.4h0m-.7 8.9h0m-2.2 .3h0m.7 18.8h0m1.5 15.1h0m-1 3h0m1.6 1.6h0m-.4 23.7h0m-1.3 13h0m.4 5.6h0m-.7 7.9h0m.9 6.2h0m-.6 17.7h0m15.7-199.6h0m-3.5 67h0m-1 29.9h0m1 23.9h0m.6 2.7h0m-1.6 18.5h0m1 9.6h0m-.2 30h0m-.7 15.2h0m5.9-217.8h0m-.7 2.5h0m3.7 1.2h0m-1 3.5h0m-2.2 .9h0m3.8 1.2h0m-.5 4h0m-3.9 .5h0m.9 4.4h0m1.9 2.6h0m.3 18h0m-.1 3.1h0m1.1 2.2h0m-.1 37h0m-1.5 30.8h0m1.2 17.1h0m-.8 13.8h0m1.7 14.9h0m-1 8.4h0m1.8 2.2h0m-2.3 0h0m-.3 2.2h0m.9 4h0m-.7 2.4h0m-2.4 .2h0m2.8 8h0m1.8 8.9h0m-2.6 2.8h0m-.4 3.6h0m1 2.4h0m2.5 1.1h0m-4.9 15.7h0m2.7 0h0m0 3.8h0m3.5-218.5h0m1.8 4.8h0m.4 3h0m-2.8 1.2h0m2.9 14.4h0m-1.8 1.4h0m2.1 2h0m-2.7 5.7h0m2.9 5.3h0m-.3 6.8h0m-2.9 4.6h0m2.8 3.1h0m-2.6 .6h0m.3 9.6h0m-.7 2.6h0m.4 2.5h0m2.5 2.6h0m.2 4.2h0m.3 3h0m0 3.5h0m0 5.6h0m-.6 13.7h0m-.3 2.5h0m-1.8 4.9h0m1.8 1.7h0m.1 2.2h0m-2.7 .3h0m-.1 6.6h0m.3 2.4h0m.6 2.9h0m2.3 .3h0m-.5 7h0m-2.1 1.6h0m2.7 3.8h0m-.5 5.9h0m-2.6 .2h0m.8 3h0m2.5 .4h0m-.2 6.2h0m-1.8 1.3h0m-1.2 3h0m2.6 6.8h0m.7 2.6h0m-3.4 3.4h0m2.9 12.2h0m-2.6 .7h0m0 4.6h0m1.7 11.8h0m-1.4 15.6h0m8.1-219.3h0m0 6.7h0m.6 22.8h0m-.1 16h0m-.8 13.9h0m1.2 15.2h0m-.9 2.9h0m.3 2.4h0m-.1 5.6h0m-.7 16.8h0m-.2 2.9h0m.7 19.5h0m-2.6 8.4h0m2.5 0h0m.2 2.4h0m-.1 5.4h0m2.6 1.6h0m-1.4 3.4h0m-1 4.2h0m2.2 6.1h0m-2.3 0h0m.8 2.7h0m-1 2.1h0m.5 9.8h0m-.2 4.6h0m-.8 9.4h0m-1.9 1.4h0m3 5.4h0m-.4 5h0m-.5 2.6h0m.5 3.7h0m1 5.1h0m-.6 2.7h0m2.1 7.3h0m-5.7 1.6h0m3 .5h0m3.7-211.9h0m.7 4.3h0m-.6 2.1h0m-.9 7.1h0m.4 3.2h0m4.7 10h0m-4.6 9.6h0m-.2 3.2h0m.4 2.3h0m-.2 43.3h0m.3 2.9h0m.2 2.6h0m-.4 11.8h0m-.1 4.9h0m2.6 1.3h0m-2.2 .9h0m.1 2.9h0m1.9 5.8h0m-2.7 .1h0m.1 9.2h0m0 2.3h0m.4 8.1h0m4.4 16.9h0m-2.7 .1h0m.9 4.3h0m-3 .3h0m.2 10h0m.1 8.8h0m4.6 .6h0m-2.3 .1h0m-2.8 9.6h0m1 6.7h0m-.6 10.4h0m5 6.2h0m-4.1 2.6h0m6.9-43.7h0m2.2 .6h0m.2 18.7h0m0 21.4h0m6-211.5h0m0 7.5h0m-3.6 50.5h0m4.4 55h0m-1 7.7h0m.6 5h0m.4 3.3h0m-2.5 0h0m1.2 4.4h0m.7 7.7h0m-3.8 3.1h0m4.4 8.8h0m-.3 5.6h0m-.6 19.7h0m-3.3 .4h0m1.5 2h0m2.2 .1h0m-.1 8h0m-3.2 .3h0m-.8 6.6h0m3.8 3.8h0m-.2 2.3h0m-3.5 9.5h0m3.6 .9h0m3-128.1h0m.4 2.3h0m-.2 14.1h0m-.4 20.3h0m.6 4.9h0m0 15.5h0m8.4-136.7h0m0 3.1h0m-.7 5.7h0m0 3h0m0 17.7h0m1.8 11.6h0m-.8 22.6h0m-.2 7.3h0m-.9 17.2h0m1.7 5.7h0m-.5 18.7h0m-1.1 4.5h0m1 5.8h0m-.2 23.9h0m-2.8 26.7h0m3.8 4.9h0m-4.2 2h0m8.1-190.3h0m.9 2.7h0m1.6 28.7h0m-5.8 3.1h0m.3 2.5h0m3.8 5.7h0m-.1 2.4h0m1.1 2.8h0m.1 2.6h0m-4.6 5h0m2.8 16h0m2 17.6h0m-.3 21.2h0m.4 7.3h0m-2.1 4.5h0m-.1 20.3h0m-2.8 6.1h0m5.1 2.7h0m-2.3 .6h0m.1 5.2h0m-3 2.1h0m2.7 0h0m2.6 4.6h0m-2.9 2.2h0m.7 16.2h0m1.4 8.1h0m-1 2.4h0m1.6 8h0m-1.6 3.6h0m-.4 12.8h0m-3 .3h0m11.1-199.6h0m-5.8 10.9h0m3.2 112.2h0m-3.1 17.3h0m2.2 5.7h0m3.5 1h0m-.1 3.2h0m-5.1 14.1h0m5.1 14.1h0m-3.5 4.1h0m1.8 9.8h0m2 .9h0m-3.6 5.7h0m3.1 .2h0m4-218.6h0m.5 6.8h0m-3.4 1.9h0m1.1 3.5h0m1.7 8.8h0m.2 2.8h0m-.9 18.8h0m-.2 2.5h0m-1.8 7.7h0m3.2 4.3h0m-1.2 5.1h0m1.1 3.9h0m-.2 9.3h0m-1.1 6.5h0m1.2 5.4h0m-1.5 6.6h0m1.1 2h0m-2.8 6.8h0m3.2 .7h0m-3.6 1.8h0m0 2.9h0m3.9 2.1h0m-.9 2.2h0m-.3 2.3h0m.6 2.2h0m-3.4 2.3h0m3.8 .8h0m.3 2.7h0m-.3 4.9h0m.5 7h0m-2.6 1h0m-1.6 6.5h0m3.7 1.7h0m-.3 4.8h0m2.4 .5h0m-2.3 2.6h0m-1.7 6.5h0m1.4 2.4h0m-1.1 6.1h0m.1 3h0m1.5 2h0m-3.2 .3h0m0 4.1h0m3.2 3.5h0m-3.1 5.1h0m2.8 .4h0m-3.1 6.8h0m5.4 6.5h0m-3.3 0h0m1.3 3.4h0m-2.8 .3h0m2.3 6.3h0m-3 .1h0m5 10.4h0m-2.8 .1h0m6.2-214.6h0m3 3.2h0m-5.5 1.9h0m5 7.3h0m.2 3.1h0m.3 21.3h0m-2.5 1.3h0m.1 2.8h0m2.3 3.5h0m-.2 4.7h0m-4.4 13.6h0m-.1 3.3h0m5.1 2.2h0m-.1 3.5h0m-1.2 6.5h0m.6 2.4h0m0 3.5h0m-.4 5.7h0m0 18.5h0m.3 2.8h0m.1 4.8h0m-4.9 12.2h0m2.9 2.1h0m-2.4 .2h0m1.7 5.8h0m3 .3h0m-2.9 4.2h0m.6 6.9h0m2.3 .1h0m-2.6 7.1h0m-2.6 1.4h0m5.5 .1h0m-.1 6.7h0m-5.7 4.5h0m5.7 6.2h0m-1.2 2.3h0m.9 6.2h0m-3.1 4.1h0m2.7 1h0m-4.8 2.2h0m5.3 15.6h0m.3 3.5h0m-5.5 3.8h0m2.2 2.2h0m3 .5h0m5.1-221.5h0m-.3 7.1h0m.8 6.5h0m-.5 12h0m.4 8.8h0m-5 3.3h0m2.9 5.5h0m.4 3h0m1.2 5.2h0m.9 3.6h0m-1.3 3.8h0m.8 8.7h0m-4.9 1.9h0m4.9 .3h0m-4.7 1.9h0m5.3 4.4h0m-1.9 5.7h0m2.2 .5h0m-5.5 .4h0m3.9 2.3h0m.6 20.1h0m.2 4.4h0m-.3 4.2h0m-1 7.6h0m1.4 8.7h0m-.6 6.7h0m.6 6h0m-3.4 6.7h0m2.8 .2h0m.9 4.1h0m-1.1 3.5h0m.8 2.2h0m-5.1 0h0m4.2 2.6h0m.4 4.4h0m-.1 12.8h0m-1.9 1.1h0m.9 12.9h0m.4 8.3h0m-.2 2.3h0m-2.4 .3h0m3.5 4.1h0m.1 5.3h0m-2 2.1h0m2.9 5.9h0m-4.1 .7h0m4.3-217.1h0m5 1.2h0m-1.2 2.5h0m-3.8 .9h0m4.8 1.2h0m-1.2 2.1h0m-.3 2.9h0m-.3 2.4h0m.6 4.3h0m1.8 1.7h0m.3 2.3h0m-5.6 3.6h0m5.8 4.7h0m-5.1 8.5h0m5 5.2h0m-.4 2.9h0m-1.9 4h0m1.3 6.9h0m.1 2.9h0m-1.1 2.3h0m-3.8 5.1h0m4.7 3.6h0m.6 4.3h0m-5 4.1h0m4.9 8.6h0m-4.7 4.4h0m-.1 2.4h0m4.3 10.7h0m-1.4 7.5h0m0 2.7h0m-2.9 .4h0m5.5 6.8h0m-2.8 23.2h0m1.9 1.4h0m.4 6.5h0m-5 2.5h0m4.2 1.4h0m-4 4.3h0m4.2 1.4h0m-2.6 .4h0m.7 4.5h0m-.1 6h0m2.9 .1h0m-1 3.8h0m-4.8 3.9h0m5.4 0h0m-5 6.5h0m2.7 4.2h0m-2.2 .3h0m-.5 6.2h0m2.4 .1h0m-2.4 6h0m4.9 4h0m-.5 2.4h0m4.2-212.1h0m.2 2.2h0m-.7 2.5h0m.3 3.9h0m-2.6 5.5h0m-.1 2.7h0m3 .4h0m0 2.3h0m-.4 11.6h0m-2.6 1.4h0m3 6.3h0m-.6 15.9h0m.3 3.3h0m-.2 12.4h0m-.3 9.9h0m.6 3.3h0m0 4.4h0m.4 7.6h0m-1 15.6h0m.2 9.4h0m-.3 3.4h0m3.2 8.7h0m-2.5 .8h0m2.6 14.4h0m-2.7 10.1h0m2.6 5.8h0m-2.7 .4h0m3.3 4.4h0m-3.8 .2h0m-.4 13.6h0m.4 17.2h0m2.7 2h0m-2.1 6.8h0m0 7h0m2.7 0h0m2.5-178.1h0m.1 36.6h0m-.9 17.5h0m.5 7.1h0m-.5 3.4h0m.7 6.5h0m-.1 3.6h0m-.3 7.6h0m.7 6.1h0m2.9 6.4h0m-3.2 .2h0m-.5 6.7h0m3.8 8h0m-3 .8h0m-.3 6.1h0m2.8 0h0m.3 10.7h0m-2.7 4.2h0m-.2 6h0m-.2 7.8h0m-.5 4.2h0m2.8 .1h0m-2.7 6.5h0m.2 2.4h0m.3 3.1h0m-.2 2.6h0m2.7 4.6h0m-2.4 .2h0m-.8 2.8h0m.3 2.8h0m0 3.6h0m6.1-218.4h0m.4 5.3h0m-.2 2.2h0m-1 2.8h0m-.3 5.2h0m.3 2.3h0m.4 3.7h0m-.2 2.7h0m.7 7.4h0m-.7 3.8h0m.8 2.3h0m-.3 7.7h0m.4 3.4h0m-.2 3.3h0m0 8.9h0m-.6 12h0m.3 4.3h0m1.2 2.1h0m-1.6 2.9h0m.7 4.3h0m0 7.7h0m-.1 2.8h0m.1 3.2h0m-.1 8.2h0m-.5 9.7h0m3.9 7.8h0m-3.6 1h0m0 5.7h0m-.1 2.4h0m-.1 2.4h0m.7 3.2h0m2.8 .1h0m-3.1 5.2h0m.2 4.5h0m0 4.5h0m0 3.2h0m-.4 2.8h0m.5 3.9h0m.1 2.6h0m-.4 2.1h0m.9 8.1h0m-1 5.2h0m2.7 .1h0m-2.4 2.5h0m-.6 7.2h0m.3 3.2h0m.5 5.9h0m2.4 6.9h0m-2.8 1.8h0m3.7 3.6h0m-3 .1h0m-.7 4.4h0m3.5 4.1h0m2.3-219.2h0m0 2.9h0m-.1 2.3h0m.1 2.5h0m0 4.3h0m.1 3.2h0m.1 7.9h0m-.2 6.1h0m-.1 13.7h0m.2 3.3h0m.4 8.2h0m-.2 16.4h0m-.2 4h0m.8 8h0m-.7 16.1h0m.3 3h0m.1 10.6h0m-.5 3.2h0m-.2 6.6h0m.6 7.9h0m1.6 1.5h0m-2.2 5h0m.8 2.4h0m-.4 3.2h0m2.1 .3h0m.4 4.5h0m-2.7 .4h0m.8 9.6h0m-.4 13.3h0m2.6 10.4h0m-3.1 1.7h0m.1 10h0m.4 5.5h0m.7 8h0m-1.4 1.7h0m.7 2.3h0m2.3 .5h0m-1.7 4.2h0m-.9 4.5h0m7.7-224.3h0m.9 5.5h0m1.7 4.4h0m-.2 3.1h0m-3 2.3h0m2.8 .7h0m-.8 3h0m.6 3.1h0m-.4 3.3h0m-.4 8.1h0m-.7 4.1h0m2 .9h0m-1.8 6.3h0m-.5 3.7h0m.3 2.6h0m-1.5 3.1h0m3 2.2h0m-2.9 1h0m1.6 6.8h0m.4 11h0m1.4 6.4h0m-1.3 18.1h0m-.8 5.3h0m-.1 11.8h0m2 8h0m-1.1 3.7h0m-3.2 .2h0m4.4 6.9h0m-1.6 7.4h0m-.4 2.5h0m-2.5 5.3h0m3.9 1.3h0m.6 8.9h0m-.4 8h0m-.5 4.3h0m.3 5h0m0 8.5h0m.5 4.8h0m-3.2 1.4h0m1.5 1.9h0m.5 2.8h0m-.8 6.9h0m1.3 3.1h0m-2.4 2.4h0m.9 5.9h0m.1 4.5h0m5.5-219.8h0m-.1 5.3h0m-2.6 .5h0m3.1 6.3h0m.1 2.2h0m.2 4.1h0m-.3 4h0m.1 3.2h0m-.2 7.9h0m-2.9 2.1h0m.7 5.5h0m1.7 4.3h0m-1.8 4.6h0m4.7 16.2h0m-2.1 5.2h0m-3.1 1.8h0m2.8 1.5h0m-1.9 3.2h0m-1.5 5.5h0m5.9 4.1h0m-5.8 .6h0m3.2 9.6h0m.1 2.9h0m-1.1 3.9h0m-.1 2.3h0m-.2 2.4h0m.9 3.4h0m-2.6 1.5h0m.9 2.4h0m2.4 3.4h0m-3.4 0h0m3.1 2.6h0m2.7 1.7h0m-.2 3.4h0m-2.4 7.7h0m.3 6.5h0m-3.7 3h0m3.6 6.9h0m2.1 3.7h0m-2.6 .5h0m-.1 3.8h0m-1.6 2.3h0m4.6 2.4h0m-2.9 3h0m-1.5 10.7h0m1.5 8.2h0m-2.3 2h0m2.6 .3h0m-.9 2.3h0m.6 4.9h0m-.2 4h0m-2 3h0m2.3 .6h0m2.2 .2h0m-2.4 3.3h0m2.9 0h0m-4.6 5.2h0m-1.2 3.6h0m3.5 3.2h0m-3.3 1.2h0m7.8-219.6h0m-1.8 3h0m2.1 .9h0m-1.9 2.9h0m2.5 .8h0m-2.2 1.4h0m1.9 1.4h0m-2.2 .9h0m2.3 3.8h0m3.1 .3h0m-5.7 .7h0m5.7 1.6h0m-2.9 .2h0m-.5 2.8h0m-2.2 .4h0m2.4 2.9h0m-2.2 1h0m2.2 1.5h0m.3 2.4h0m-.3 2.4h0m-2.2 10h0m-.2 2.8h0m.6 9.1h0m1.4 4.9h0m1 2h0m-2.6 2.6h0m1.7 1.8h0m2.9 2.7h0m-2.5 2.5h0m3 .5h0m-4.7 2.7h0m1.9 1.6h0m-2.5 1.4h0m2.4 1.2h0m-2.8 1.6h0m5.5 1h0m-3.3 .5h0m.4 2.3h0m-2.7 1.3h0m5.7 7.2h0m-5.6 2h0m5.2 .4h0m-3.1 2h0m.7 3.7h0m-2.4 2.7h0m0 2.9h0m2.3 .5h0m.7 3.2h0m1.8 3h0m-4.4 0h0m.1 7.9h0m2 1.8h0m-2.7 .3h0m-.1 13.3h0m5.3 .4h0m-3.2 .6h0m3.6 4.5h0m-3 .4h0m-.4 4.6h0m1.1 5.2h0m-3.1 .1h0m5.5 .8h0m-4 4.4h0m-1.4 4.9h0m4.6 3.3h0m-2.9 .1h0m1.7 1.9h0m-3.5 1.5h0m.3 6.3h0m2.8 1.4h0m-.7 2.5h0m-2.6 1h0m3 3.7h0m2.2 .4h0m-3.3 2.7h0m-2 .8h0m-.2 8.8h0m4.8 3.7h0m-2.1 .4h0m.4 3.5h0m-.6 7h0m-2.2 3.7h0m2.6 2h0m3 .1h0m-5.7 3.3h0m2.4 .5h0m8.9-219.1h0m-.3 3.1h0m-4 1.3h0m3.8 1.9h0m-4.5 1.9h0m4.4 .4h0m-3.8 2.9h0m3.8 3.2h0m-4.9 7.2h0m4.9 1.7h0m-3.8 .4h0m3.7 3h0m-4.8 5.8h0m.1 2.7h0m5.5 .7h0m-5 3.8h0m4.8 .5h0m-5 2.4h0m4.4 .3h0m-.1 4.7h0m-4.2 2.4h0m4.2 .9h0m-3.8 2.3h0m4 1.1h0m-4.7 1.5h0m.2 3.2h0m5.1 0h0m-5.2 2.4h0m5.1 .4h0m-.2 3.4h0m-1.2 5h0m-3.5 3.1h0m3.9 1.3h0m-3.2 1.7h0m3 5.8h0m-3.8 .5h0m3.4 2.2h0m-2.8 2.2h0m4.9 7.4h0m-4.8 3.1h0m-.4 2.2h0m-.5 2.8h0m4 .6h0m-.4 3.9h0m-3.2 .1h0m4.9 4.3h0m0 4.8h0m-5.4 1.2h0m5.4 1.5h0m-5.2 .8h0m.4 4.3h0m4.4 2.6h0m-4.8 .6h0m-.3 4.6h0m5.9 2.8h0m-2.9 .3h0m2.5 4.8h0m-2.4 .7h0m-2.9 4.2h0m5.5 .1h0m0 5.3h0m-2.9 1.2h0m2.8 1.4h0m-1.5 14.3h0m-3.5 .1h0m-.1 5h0m-.1 3.3h0m5.1 1.6h0m-4.4 1.1h0m4.9 4.4h0m-.8 2.5h0m-5.2 1h0m2.8 0h0m.2 5.2h0m2.5 .1h0m-5.2 .2h0m2.7 3.1h0m-2.6 .1h0m5.1 2.4h0m-4.4 1.1h0m1.9 3.8h0m-2.9 .1h0m5.9 .4h0m-4.9 5.5h0m-.3 3.4h0m2.8 .7h0m-3.1 6h0m4.1 .8h0m4.5-213.9h0m-.4 3.3h0m-2.3 3.7h0m2.8 1.8h0m0 2.5h0m.1 11.5h0m0 3.2h0m.4 20.5h0m-.2 23h0m-3.3 22.4h0m2.6 22.7h0m2.2 4.6h0m.4 4.5h0m-3.2 3.5h0m2.3 .5h0m-1.1 8.4h0m-1 8.8h0m.6 4.9h0m-2.9 .2h0m3.3 2.1h0m-3 .3h0m3.5 3h0m-3.4 .2h0m1.9 3.4h0m2.5 .6h0m-4.5 3.6h0m3 .5h0m.6 10.1h0m-.2 5.6h0m-2.4 .2h0m2.1 7.1h0m-.4 6.7h0m1.1 4h0m-4.1 4.1h0m2.7 2.7h0m.3 3.8h0m-2.3 .3h0m2.7 5.4h0m3.7-210.7h0m2.7 12.4h0m-1 12.9h0m-1.7 7.2h0m2.5 8.7h0m-2 5.6h0m-.1 4.1h0m3.9 2.7h0m-3.2 .7h0m-.5 3.3h0m.5 4.1h0m-.8 2.4h0m1.9 2.1h0m-2.4 .1h0m2 2.8h0m-2.4 .9h0m.5 2.2h0m2.1 2.6h0m2.3 3.6h0m-3.5 3.1h0m1.9 9.7h0m-3.3 5.6h0m1.3 15.3h0m.1 3.8h0m3.4 4h0m-3.8 .4h0m-.4 6.6h0m4.2 8.9h0m-3.8 .7h0m-.7 6.1h0m2.7 .2h0m-2.6 2.2h0m4.6 2.1h0m-4.9 1.9h0m4.6 3h0m-3 6.7h0m3 .4h0m.5 5.2h0m-3.8 1.8h0m.3 3.6h0m2.2 .5h0m-4.3 .9h0m2.8 2.7h0m-1.4 2.5h0m4.4 .2h0m-4.5 4.5h0m2 8.8h0m2.2 4.5h0m-2.6 .2h0m-1 6.1h0m3.8 1.8h0m-4.1 .5h0m-.8 2.2h0m.6 2.1h0m2.4 2.8h0m-3.2 .1h0m4.7 1.9h0m2.4-220.5h0m.1 2.7h0m0 2.6h0m.6 3.4h0m.3 2.8h0m-.4 5h0m0 4.5h0m1.3 3.4h0m-.2 3.4h0m-1.4 4.5h0m.7 5.7h0m-.5 3.3h0m-.6 2.6h0m.1 5.8h0m.5 4.9h0m.8 3.6h0m.5 2.3h0m-.8 7h0m-.8 2.2h0m.3 7.9h0m-.2 3h0m.4 3.4h0m.3 2.3h0m-.5 5.9h0m-.3 3.3h0m.6 2.4h0m.3 5.9h0m-.3 3.6h0m.5 9.2h0m-.9 2.1h0m-.4 2.6h0m.4 7.4h0m.1 6.1h0m.6 3.3h0m-.1 6.7h0m-.5 5h0m-2.3 1.2h0m2 4.6h0m.8 5.7h0m-.5 4.5h0m-.1 2.5h0m3.4 1.4h0m-2.2 .5h0m-1.3 2h0m2.6 0h0m-1.7 6.6h0m2.2 .7h0m-2.8 7.6h0m2 1.1h0m-3.6 2.1h0m2.2 .8h0m.1 4.9h0m2.5 5.8h0m-3.5 1.1h0m.7 8h0m-.1 5.3h0m-.8 2.6h0m0 2.2h0m-1.6 2.2h0m2.5 0h0m7.5-222.2h0m1.1 3h0m-1.3 3.2h0m.4 2.2h0m.1 2.8h0m-.1 3.9h0m0 8.7h0m-.2 3.3h0m.1 3.2h0m.7 6.5h0m-.1 2.7h0m-.1 2.2h0m-.5 6.8h0m.2 3.2h0m-.2 2.3h0m.6 3.4h0m-.4 3.2h0m.4 8.3h0m.3 5.4h0m0 4.4h0m-.6 2.8h0m-.1 6.1h0m0 2.8h0m.5 3.3h0m-.5 3.9h0m.4 2.2h0m-.2 4.1h0m-.2 3.2h0m.3 3.6h0m0 3.3h0m-.2 5.2h0m.1 12.1h0m-2.4 .2h0m2.4 2.6h0m-2.6 .9h0m-.9 4h0m2.9 .3h0m-3.7 4.7h0m4.6 6.2h0m-.7 4.3h0m.7 4.2h0m-2.2 .6h0m1.7 7h0m.3 2.7h0m-2.8 7.6h0m2.9 .1h0m-.3 8.4h0m0 6.1h0m-3.3 2.1h0m3 .2h0m-.7 7.7h0m1.5 1.6h0m-.7 5.4h0m-.2 2.3h0m.3 7.4h0m6.2-218.4h0m.2 4.8h0m-1.7 3.3h0m1.8 1.8h0m0 2.1h0m.1 4.1h0m-.4 2.1h0m.9 4.1h0m-.2 2.8h0m-.2 4.8h0m0 2.7h0m-.9 3.6h0m.7 4.7h0m.8 2.6h0m-1.7 4.7h0m1.6 5.5h0m-.8 7.7h0m-1 4.1h0m1.9 3.9h0m-1.2 5.2h0m.7 3.6h0m-.3 2.3h0m.2 6.2h0m-.6 4.5h0m.6 2.6h0m-1.1 10.5h0m.2 2.9h0m.8 3h0m.2 3h0m.1 2.8h0m-1.4 4h0m-.2 3h0m0 2.1h0m1.1 2.6h0m-.7 4.5h0m-1.6 2h0m2.3 .1h0m-.7 2.5h0m-.9 3.7h0m1.8 1.6h0m-1 2.4h0m0 4.9h0m1.1 7.7h0m0 4h0m-2.9 4.1h0m2.2 1.8h0m-3.2 .5h0m4.2 3.9h0m-1.6 3.9h0m.9 2.8h0m-.4 6.3h0m-3 2.1h0m1.5 3.9h0m2.3 .9h0m-3.4 2.3h0m2.2 .1h0m1.1 2.1h0m-4.3 .3h0m3.5 3.1h0m.3 2.7h0m.6 11.4h0m-.7 5.6h0m-2.2 .4h0m9.1-214.6h0m.2 4.5h0m-.4 2.5h0m-.2 8.1h0m-.2 3.6h0m.7 16.9h0m-.5 9.1h0m-.3 3.3h0m-4.6 4.6h0m5.2 4.7h0m-.1 3.1h0m-.5 2.2h0m.7 7.7h0m-1 7.3h0m-4.4 1h0m5 5.1h0m0 11h0m-5 3.6h0m5.7 12.4h0m-5.5 3.9h0m5.4 .1h0m-1 7.6h0m-2.8 2.7h0m.3 5.6h0m2.2 5.8h0m.8 9h0m-4.9 .3h0m-.2 4.3h0m3.1 .8h0m1.7 1.7h0m.4 10.7h0m-3.2 .3h0m2.5 9.1h0m-3 8.4h0m4.2 2h0m-3.7 3.2h0m2.4 3.3h0m.6 4.1h0m-.6 3.2h0m-3.2 .2h0m4.2 4.5h0m-5.5 1.3h0m1.7 11.4h0m3.8 0h0m.5-220h0m.3 2.3h0m3.6 1.8h0m-.6 2.5h0m.4 3.5h0m-.1 8.6h0m-3.6 15.5h0m4.5 27.5h0m-.8 9.2h0m.2 4.2h0m-.2 5.7h0m-3.7 .5h0m.1 4h0m3.9 2.3h0m.1 8.1h0m-.3 7.4h0m-.1 9.9h0m.4 7.4h0m-.8 3.6h0m-2.6 10.9h0m2.9 1.5h0m-3.1 4.6h0m1.7 2h0m2.9 2.6h0m-3.3 5h0m3.4 .6h0m-4 6h0m.3 10.1h0m2.3 .6h0m.2 2.2h0m-3.8 2.6h0m2.3 1.2h0m1.2 5h0m-3.7 4h0m0 3h0m3.8 .2h0m-.5 5.7h0m-2.9 1h0m3.7 2.7h0m-2.8 .1h0m.2 7h0m2.6 .6h0m-.9 3.8h0m.9 4.7h0m-4.1 .1h0m0 2.5h0m3.7 .2h0m-.1 4.6h0m7.5-215.9h0m.8 2.5h0m-4.4 .2h0m.2 4.3h0m4 23.7h0m-5.2 4.9h0m.7 9h0m0 27.4h0m1.1 33.1h0m3.3 11.9h0m-.3 4h0m-3.1 1.2h0m2.5 7.8h0m-1.4 3.1h0m-2.3 .3h0m4.8 .6h0m-5 4.3h0m4.4 .6h0m-3.7 3.5h0m3.1 5.3h0m-3.1 .6h0m-.5 8.5h0m4.9 1.2h0m-.2 7.1h0m-5.5 .9h0m4.5 4h0m-4.6 1.5h0m4.7 11.1h0m-4.2 .2h0m1.7 6.3h0m-1.7 4.1h0m.7 4.4h0m-.5 6h0m-.4 5.2h0m10.6-205.6h0m-1.2 6.7h0m1.3 3h0m-.9 4.5h0m-.1 3.5h0m-4.1 7h0m5 .3h0m-.1 2.9h0m.5 28.8h0m.1 8.3h0m-1.1 3.9h0m.5 3.9h0m.2 3.1h0m-5 9h0m4.1 5.4h0m-.5 7.1h0m1.1 4.7h0m-.9 4h0m-3.6 .3h0m4.3 3.9h0m-.7 4.2h0m1.3 7.6h0m-5.1 .6h0m.8 4.2h0m4.7 3.2h0m-3.1 6.7h0m2.7 0h0m-.5 8.9h0m-4.5 1.2h0m5.4 8h0m-1.4 6.6h0m1.1 10.4h0m0 7.9h0m-.7 7h0m.9 13.6h0m-.6 9.3h0m-2.4 2.1h0m-2.5 .8h0m10.5-218.2h0m-.5 2.1h0m0 3.3h0m-2.6 1.8h0m.4 4.1h0m2.7 4.8h0m-3 1h0m-.9 3.2h0m1.2 3.2h0m-1.2 4h0m.7 3.1h0m0 3.4h0m2.4 2.3h0m-2.8 1.3h0m2.7 3.2h0m-2.4 2.1h0m2.6 2.9h0m-2.3 2.3h0m.1 5.8h0m-.4 3.6h0m2.7 5.5h0m-2.3 2h0m.1 2.2h0m0 3.9h0m-.4 3.4h0m-.3 2.5h0m2.7 1.1h0m.1 2.2h0m-2.6 .4h0m.5 2.4h0m2.1 3.2h0m-2.5 .4h0m2.3 3.6h0m-1.6 3h0m-.2 3.4h0m-1 2.2h0m1.7 3.5h0m-.5 8.5h0m1.5 4.8h0m-.7 2.1h0m-2.1 1.5h0m1.5 2.6h0m-.3 2.1h0m1.9 10.6h0m-2.6 6.1h0m4.6 1.4h0m-2.4 .3h0m.9 2.8h0m-3.5 1.2h0m3.3 4.9h0m-2.7 0h0m-.1 3.7h0m-.2 2.7h0m2.7 2.2h0m-2.7 2.7h0m2.8 3.7h0m-3 0h0m.9 3.2h0m-.7 2.2h0m2.9 2.3h0m-2.4 .1h0m.1 7.4h0m0 3.8h0m2.2 4.9h0m-2.2 .4h0m2 9.6h0m-.1 3h0m-2.4 .2h0m.3 6h0m.2 4h0m1.9 2.2h0m-2.1 .2h0m0 2.3h0m6.9-217.2h0m.8 2.2h0m-.2 2.6h0m-.4 2.8h0m2.8 2.6h0m-2.4 .1h0m1.8 5.2h0m-2.8 3.7h0m.7 11.5h0m-.5 3.3h0m.9 6.2h0m2.7 .4h0m-.3 2.5h0m-2.1 2.9h0m2.1 2.3h0m-2.6 1.5h0m2.9 .8h0m-3.1 1.7h0m3 .9h0m-1.5 2.9h0m-1.5 2.4h0m3 2.5h0m-3.4 .6h0m.3 3.4h0m.1 4.1h0m.1 2.8h0m-.3 2.3h0m.5 2.9h0m0 2.3h0m.2 6.7h0m.4 4h0m-.6 3.8h0m-.2 2.4h0m3.1 6.2h0m-3.3 .2h0m.1 3.4h0m.2 3.1h0m2.1 4.6h0m-2.6 .9h0m.6 2.9h0m-.3 2.2h0m2 1.5h0m-1.9 2.2h0m3 2.2h0m-3.6 1.4h0m.9 7.5h0m-3.1 .1h0m5.8 1.5h0m-2.6 4.6h0m2.3 .1h0m-2.3 3.2h0m-2.7 .9h0m5.2 2.1h0m-3.4 1.1h0m3.1 1.9h0m-2.7 3.1h0m-2.8 .9h0m6 1.6h0m-5.9 3.5h0m4.5 1.6h0m-1.9 5.6h0m3 4.9h0m-2.7 5.6h0m0 6.8h0m-2.8 .9h0m2.4 1.5h0m2.9 .9h0m-3 1.7h0m.4 4.6h0m2.7 .3h0m-5.2 .2h0m2 1.6h0m.7 6.1h0m-3 .7h0m2.9 4.8h0m-2.6 1.1h0m4.8 2.7h0m-2.2 .3h0m1.3 5.7h0m-1.2 2.5h0m2.6 0h0m5.2-221.4h0m.2 2.2h0m-.2 2.2h0m-4.7 .3h0m4.7 2.2h0m-4.4 0h0m4.2 3h0m-.1 3.8h0m-.1 4.4h0m0 4.5h0m.4 2.6h0m-.4 2.2h0m-.1 12.8h0m-4 .3h0m4.8 2.3h0m.5 4.8h0m-.6 2.9h0m.7 7.2h0m-1 2.9h0m-.4 2.2h0m0 3.4h0m.6 5.3h0m-4.7 .3h0m4.6 2h0m.2 2.9h0m-.9 3.2h0m1.6 1.5h0m-1.8 1.8h0m1.5 3.6h0m-5.5 .8h0m4.7 6.7h0m.3 2.4h0m-.5 3.7h0m-4.4 1h0m5.2 3.1h0m-.2 4h0m0 2.6h0m-.7 3h0m-.4 2.8h0m1.6 3.7h0m-1.1 2.3h0m-.1 5.6h0m.6 2.2h0m-2.6 4.5h0m2.7 .4h0m-.8 3.2h0m.4 6.9h0m-4.6 1.1h0m4.8 3.1h0m-2.7 2.3h0m2.3 .2h0m-.7 2.3h0m1 2.4h0m-.1 4.1h0m-4.2 5.1h0m4.6 1.5h0m-.9 5.5h0m-1.2 5h0m-2.9 .1h0m5.2 .1h0m-.2 5h0m-2.8 3.2h0m2.5 .1h0m.4 5h0m-.3 3.6h0m-2.1 .5h0m-.4 7.4h0m-2.2 0h0m4.9 .6h0m-.4 4.1h0m-2.4 .1h0m2.8 2.4h0m-.9 4.6h0m-1.3 3.3h0m1.8 2.2h0m2.4-81.6h0m.9 10.9h0m-.6 3.9h0m2.7 10.1h0m-1.9 39.7h0m-.1 4.3h0m9.8-202.8h0m-5.4 1.7h0m.4 3.2h0m-.5 27.5h0m.2 2.2h0m.4 2.4h0m.1 14.1h0m4.5 28.1h0m-5.1 7.4h0m.1 2.3h0m-.2 6.7h0m.6 2.7h0m-.3 5.4h0m4.9 24.8h0m.2 3h0m-5.1 .9h0m5.1 18.8h0m-4.8 4h0m-.2 2.9h0m3.2 .2h0m-3.1 8.2h0m.4 5.1h0m-.4 9.5h0m2.9 .6h0m-2.3 11.4h0m-.3 5.5h0m4.6 .4h0m-5 15.7h0m8.1-218.9h0m.1 4.7h0m-.1 4.5h0m2.6 3.8h0m-.8 3.1h0m-1.5 5.8h0m.3 2.4h0m-1 3.4h0m3.4 13.5h0m-.1 2.9h0m-3 3.1h0m.2 2.5h0m-.3 2.5h0m2.6 3.1h0m-2.7 1.1h0m.6 5.3h0m-.1 4.5h0m2.7 5h0m-3.6 5.3h0m.5 3.9h0m3.2 0h0m-3.3 3.3h0m-.1 3.4h0m.7 3.8h0m-.1 2.3h0m-1 2h0m3.6 1.3h0m-2.5 11.4h0m-.4 8.2h0m2.8 8h0m-3.1 1.1h0m-2.3 2.8h0m3.7 .1h0m1.1 4.3h0m-2.4 .4h0m.1 2.3h0m-.4 15.1h0m2.9 .6h0m-2.6 3.4h0m2.9 2.1h0m-2.4 1h0m1.9 4.8h0m-2.5 5.6h0m.4 4.9h0m-.6 3.6h0m.6 4.6h0m2.7 5.1h0m-3.1 6.1h0m2.7 0h0m-2.1 4.9h0m-.2 5.5h0m1.9 2.2h0m-2 4.9h0m.3 6.2h0m-2.6 .2h0m2.5 3.6h0m2.6 .2h0m-3 2.9h0m4-218.7h0m1.5 1.7h0m-2 1.1h0m1.9 5.6h0m-.9 17.7h0m.1 2.9h0m.4 7h0m-1.6 6.8h0m1 11.5h0m0 16.4h0m.7 8.7h0m-.7 17.5h0m1.6 3h0m-.8 11.9h0m.3 5.6h0m0 2.4h0m-1.6 5h0m.1 5.1h0m.4 2.3h0m3.2 9.1h0m-3 .1h0m-1 7.7h0m.9 4.8h0m1.1 3.7h0m2.4 .6h0m-4.5 5.5h0m2 2.1h0m-2.1 .7h0m1 5.2h0m.7 2.3h0m2.7 .6h0m-4.2 3.9h0m2.5 0h0m1.4 2.5h0m-2.4 .5h0m-.6 2.1h0m-.3 2.8h0m.7 2.1h0m.5 2.5h0m3.6 1.1h0m-5.2 .4h0m1.2 5.6h0m3.2 .8h0m-3.8 1.7h0m-.5 3.4h0m5 1.7h0m-4.1 1.5h0m0 11.6h0m6.4-222.2h0m0 3h0m.3 2.2h0m-.2 3.3h0m-.2 2.6h0m.1 10.5h0m-.1 3.1h0m-.6 3.5h0m.8 12.3h0m-.6 4.4h0m.4 2.3h0m-.3 3.1h0m.7 2.5h0m-.7 4.4h0m.1 4.7h0m.8 8.3h0m-.1 3.2h0m.2 6.9h0m-1.2 20.5h0m.7 4.4h0m-.6 3.8h0m.5 2.1h0m-.3 3.1h0m-1 4.8h0m.3 3h0m.9 10.4h0m.5 2.3h0m-.5 2.3h0m.3 4.8h0m-.1 11h0m-.5 2.5h0m2.5 .2h0m-2 5.9h0m-.4 5.8h0m0 5.2h0m.1 6.5h0m.7 5.4h0m-.7 5.2h0m.2 6.3h0m-.6 6.5h0m3.3 4.6h0m-2.2 .3h0m-.6 2.2h0m3.5 1.2h0m-3.9 7.9h0m.5 3.5h0m7.2-217.3h0m.1 4h0m.2 8.9h0m.1 3.2h0m-.9 61.2h0m1.2 2.4h0m-.3 3.5h0m-.2 6.9h0m-.3 20.8h0m.3 6h0m-.2 7.5h0m.5 5.9h0m-3.4 7.3h0m3.4 12.7h0m-2.3 4.8h0m2.3 .6h0m-.5 4.5h0m.3 2.9h0m-.1 9.5h0m-.5 24.6h0m-.3 9.1h0m9-206.1h0m-2 2.6h0m1.9 1.7h0m-1.7 2.8h0m2.2 .1h0m-2 2.6h0m-.2 4.2h0m.8 5.2h0m.2 3.3h0m-.7 5.1h0m-.8 17.1h0m1.3 10.5h0m-.1 2.3h0m-.5 2.1h0m1.8 1.5h0m.2 3.3h0m-1.7 5h0m-.6 5.1h0m.1 3.4h0m.3 3.3h0m1.8 1.5h0m-2.4 2.4h0m1 6.7h0m-.2 2.9h0m1.6 3.3h0m-.2 6.2h0m-.2 7.1h0m-1.6 4.4h0m-.3 3.4h0m0 4.3h0m-3.1 .2h0m3.5 6.3h0m-.4 7.4h0m1.3 6.4h0m-1 8.6h0m.3 4.1h0m-2.6 3.7h0m2.6 .4h0m1.7 1.7h0m-1.6 2.7h0m-.3 7.5h0m1.8 1.3h0m.2 3.4h0m-3.8 3.3h0m2.1 5.4h0m-.6 5.7h0m1.6 12.3h0m-2.2 .2h0m.9 8.3h0m.1 3.5h0m2.8-223.6h0m-.5 2.6h0m-.1 7.4h0m.1 21.8h0m-.1 3.4h0m.2 8.7h0m.1 3h0m-.3 47.6h0m0 15.3h0m3.3 19.7h0m-3 .1h0m-.4 5.5h0m3.2 .3h0m-3 2.9h0m1.7 6.9h0m-1.4 14.8h0m2.8 4.5h0m-2.5 .2h0m1.9 5.7h0m-.8 11h0m-1.9 7.2h0m.3 6h0m.1 2.2h0m.1 7.3h0m.5 19.4h0"/><path d="M90 70.1h0m.1 3h0m-1.8 1.3h0m2.3 1h0m-1 2.4h0m2.6 .1h0m-1.1 2.2h0m-1.8 4.5h0m.9 2.4h0m1 2.4h0m-.7 3.2h0m.3 4.3h0m0 3.2h0m-3.2 4.1h0m3.8 3.3h0m-.2 4.6h0m-2.5 5h0m2.3 .8h0m-.3 4.3h0m-2.7 .4h0m.7 2.8h0m2.2 3.7h0m-1.3 2.7h0m.7 7h0m1.8 5h0m-1.9 3.4h0m.3 2.3h0m.8 3h0m-1.8 6.8h0m.9 4.1h0m-.7 10.3h0m-.4 2.9h0m2.8 2.9h0m-3 .4h0m1.1 4.1h0m-2.4 2.6h0m3 2.1h0m.1 3h0m-.8 4.9h0m-1.9 4.6h0m1.2 2.5h0m-.9 6.7h0m-.6 2.7h0m1.1 3.4h0m1.9 3.3h0m-3.3 1.2h0m4.3 3.4h0m-3.9 .4h0m2 3.6h0m-1.8 1.4h0m-.2 3.9h0m2 1.8h0m-2.3 .7h0m.6 3.3h0m2.4 1.1h0m-2.5 2.5h0m2.8 1.3h0m-.2 7.3h0m-.6 2.5h0m-2.7 .3h0m4.4 5.9h0m-3.3 .2h0m0 3h0m3.2 .3h0m-2.6 5.2h0m1.5 1.7h0m-1.9 1.1h0m-.4 8.4h0m-.3 4.6h0m1 3h0m8.1-219.1h0m-2.9 3.9h0m2.8 2.3h0m-.3 6.8h0m.7 3.3h0m-.8 2h0m.1 13.7h0m-.4 13.7h0m0 8.5h0m.3 17h0m.1 3.1h0m-.1 13h0m.7 3.4h0m-2.9 4.8h0m2.6 8.7h0m-.5 3h0m.8 8.7h0m-.9 5.9h0m.6 2.9h0m-2.2 9.8h0m2.3 1.4h0m0 5.9h0m-.1 9.4h0m-3.8 7.8h0m3.7 1.9h0m-3.4 6.1h0m3.6 .3h0m-4.1 2.3h0m3.2 5.2h0m.1 3.3h0m.3 7h0m-3.1 1.4h0m.7 4.9h0m2.7 .7h0m-.1 10h0m-.1 2.5h0m-2.6 4.5h0m3 .1h0m-3 2.6h0m2.6 1.5h0m-3.8 4.6h0m4.6 .7h0m2.9-218.1h0m.4 4.2h0m2.1 2.2h0m-.1 2.5h0m-3 2.2h0m.5 2.3h0m2 2.1h0m.5 4.5h0m-.3 6.2h0m-1.7 6.4h0m1 23.9h0m-2.6 9.5h0m3.8 8.1h0m-3.2 5.7h0m3 .2h0m.4 6.1h0m-2.8 .1h0m-.7 2.9h0m.7 9.4h0m-.3 2.5h0m.5 9.8h0m-.7 7.9h0m.5 2.3h0m2.2 5.7h0m-2.2 .4h0m2.2 8h0m-2.8 .1h0m2.9 4.2h0m0 6.4h0m-2.3 5.4h0m.4 13.6h0m1.1 2.3h0m-2.2 .4h0m.5 11.4h0m.1 6.6h0m-.3 4.8h0m2.3 1.9h0m.5 6h0m-.6 3.4h0m-2.5 17.3h0m2.8 .1h0m4.1-215.1h0m2.4 1.4h0m.1 3h0m-.3 11.6h0m.7 17h0m-.8 11.8h0m-2.2 4.3h0m-.1 16h0m.3 3.4h0m2.2 7.7h0m-.3 2.7h0m-2.9 9.8h0m.8 2.6h0m3.1 7.1h0m-3.2 2.8h0m.4 13.7h0m-.2 2.5h0m1.9 13.2h0m.1 23h0m-2.1 9.1h0m3.9 .1h0m.3 3.5h0m-1.3 5.7h0m-.7 8h0m1.2 1.8h0m-.5 4.2h0m-3.7 .8h0m2.2 3.9h0m-2.3 3.8h0m3.5 .1h0m-.6 3.6h0m-.1 4.8h0m-1.9 1.9h0m3.8 4.7h0m-3.4 .3h0m1.5 4.4h0m4.7-217.6h0m.2 2.3h0m1.9 1.1h0m.4 2.2h0m-3.6 .8h0m1.1 4.6h0m.3 2.9h0m3 .3h0m-4.4 1.4h0m4.1 1h0m-4.2 1.9h0m4 .4h0m-2.1 1.4h0m-.4 2.4h0m.2 3h0m-.3 2.8h0m-.7 3.7h0m3.4 5.5h0m-2.8 10.6h0m-.3 4.6h0m.4 2.8h0m-.7 2.7h0m-.3 2.7h0m.5 3.7h0m3.3 .1h0m-3.2 2.2h0m1 2.1h0m-.1 2.9h0m-.5 3.7h0m-.3 3.7h0m-.8 5h0m.7 13.3h0m3.1 3.7h0m-3.1 3h0m.4 6.2h0m-.1 6h0m1 2.4h0m-2.4 0h0m3.8 7h0m-3.4 1.3h0m3.1 7.4h0m-3.7 .4h0m.9 3.2h0m1.2 7h0m-.8 4.4h0m-.7 2.1h0m.7 8.2h0m3.6 6.1h0m-3.4 1.1h0m2.8 1.2h0m-3 2.3h0m.4 2.5h0m-.4 3.3h0m2.2 7.2h0m-2.7 .1h0m3 3.5h0m-4.3 6.2h0m2.6 .3h0m2.4 1.6h0m-3.7 .3h0m4.3 5.3h0m-4.8 3.1h0m2.1 3.5h0m-1.4 5.2h0m1.6 1.9h0m-.4 3.3h0m-2.7 .1h0m5.3 0h0m6.5-215.3h0m0 4.2h0m-2 .9h0m-2.2 .6h0m.2 2.2h0m3.5 7.8h0m-2.5 10.4h0m2 18.9h0m-2.3 .4h0m.6 4h0m2 3.8h0m.6 12.5h0m-1.4 2.3h0m-.5 3.5h0m1.3 4.8h0m-2.9 2.6h0m3.5 3h0m-.4 3.4h0m-1.6 2h0m-.9 8.1h0m-.1 3.7h0m3.1 3.2h0m-2.9 9.5h0m2.4 .3h0m.5 3.6h0m-2.1 3.5h0m-.3 3.2h0m-2.1 .8h0m4.3 1.4h0m-5.4 5h0m3.1 1h0m-.4 6.1h0m2.6 9.8h0m-.2 5.1h0m-2 3.7h0m1.5 4.8h0m-1.2 3.6h0m1.7 3.5h0m-5.2 1h0m2.3 1.1h0m-1.1 4.8h0m4.2 .1h0m-2.7 7.6h0m-.5 6h0m1.3 3.1h0m2.2 2.5h0m-.1 5.4h0m-2.7 .1h0m-.8 6.1h0m.5 9.4h0m7.1-218.7h0m.7 5.5h0m-1 3.1h0m-.1 3.7h0m-3.4 .3h0m3.6 3.4h0m-3.7 .6h0m4.2 1.9h0m-.6 4.3h0m.2 7.7h0m.1 2.4h0m.4 12.2h0m-.6 3.8h0m-.2 3.5h0m.1 10.7h0m.3 3.3h0m-3.5 1.4h0m3.2 1.1h0m.3 5.7h0m-.2 4h0m-.8 4h0m1.6 2h0m-.8 2.3h0m.3 4.4h0m-.6 10h0m-.6 32.4h0m-2.5 .9h0m3.5 1.9h0m-.1 15.4h0m-3.7 7.2h0m.2 7.2h0m2.1 5.8h0m1.6 3.2h0m-.4 2.4h0m-3.6 7.4h0m5.2 .5h0m-4.7 6.6h0m4.1 4.6h0m-.4 5.5h0m-.3 5.1h0m.1 11.8h0m2.9-220.7h0m-.3 5.3h0m.7 2.2h0m-.1 3.1h0m0 2.5h0m-.2 4.2h0m.1 4.3h0m-.4 3.2h0m.2 6.6h0m-.1 3h0m.1 6.8h0m.2 2.9h0m-.2 8.9h0m.1 5.8h0m-.3 2.6h0m-.2 2.3h0m.5 3.4h0m.2 4.5h0m-.4 3.9h0m-.4 2.7h0m1.5 1.9h0m-1.5 25.3h0m1 12.6h0m-.6 3.2h0m.5 2.3h0m-.1 2.2h0m-.1 6.6h0m3 5h0m-2.3 .4h0m-.6 6.5h0m2 2h0m-2.2 .7h0m.2 4.8h0m0 2.8h0m-1.1 3.4h0m.9 11.3h0m-.3 5.4h0m-.3 5.3h0m3.9 4.4h0m-2.9 .2h0m0 2.4h0m-.6 11h0m.1 2.3h0m0 3.9h0m4.4 .5h0m-4.2 8.3h0m6.8-206.1h0m1.3 6.7h0m.6 46.4h0m-1.9 13.8h0m1.7 2.9h0m-.4 5.9h0m.4 6.9h0m-2.4 15.2h0m2.5 17.2h0m-.3 3.2h0m-2.2 9.4h0m.6 2.3h0m.5 2.6h0m-.2 5.3h0m-.2 6.1h0m-.1 3.4h0m-.4 3.6h0m.2 11.4h0m0 2.2h0m0 4.3h0m.5 12.9h0m1.5 6.2h0m-1.7 1.9h0m-.2 8.1h0m.7 8.1h0m1.5 8.5h0m-2.3 .4h0m8.6-219.2h0m-.3 3.1h0m.2 5.5h0m.4 4.2h0m-.7 4h0m.8 2.8h0m-1 45.4h0m1.3 11.8h0m-.3 2.3h0m.2 2.9h0m-.2 13.3h0m-.4 3.9h0m0 20.3h0m.4 6.7h0m-.6 8.4h0m.3 2.6h0m-.8 35.8h0m1 11.5h0m-.1 5h0m.5 6.1h0m6.1-115.6h0m.5 2.4h0m0 25.2h0m.1 11.1h0m-3.3 5.5h0m-1.2 2h0m4.2 8.7h0m-1.8 1.3h0m-1 11.1h0m2.9 3.1h0m-2.5 .6h0m2.7 1.8h0m-.7 5.7h0m-2.8 1.8h0m.8 40.7h0m-.9 7.4h0m3.3 .1h0m-3.1 9.4h0m3.5 .4h0m3.9-216.9h0m.4 2.5h0m-.3 2.5h0m-2 1.4h0m1.9 13.6h0m.6 21.8h0m-2.5 9.9h0m1.8 59.3h0m-1.5 5.9h0m-.4 2.5h0m1.7 7.1h0m1 6.2h0m-2.6 .4h0m1.8 15.8h0m-2 8.9h0m2.9 7h0m-4.3 12.2h0m-.1 17.1h0m2.9 .9h0m-.6 15.9h0m-.4 5.2h0m-.2 3h0m2.2 1.7h0m8-220.5h0m-5.4 4.8h0m1.5 9.8h0m-1 3.9h0m4.9 3.2h0m-4.9 1h0m4.9 7.7h0m.1 4.1h0m-5.4 15.7h0m5.2 4.9h0m0 28.8h0m-.2 47.8h0m-2.9 1.3h0m3 1.3h0m-4.7 2.6h0m4.4 3.7h0m.3 9.7h0m.2 3h0m-5.1 11.7h0m4.9 7.4h0m-4.3 6.5h0m4.2 4.4h0m.3 10.7h0m0 6.3h0m-4.7 10.5h0m.5 7.8h0m2.7 .6h0m7.4-222.7h0m-4.3 .5h0m-.1 4.9h0m-.2 2.1h0m4.6 .6h0m-1.4 2.3h0m-3.7 0h0m4.6 2.8h0m-3.7 .2h0m-1.4 3.4h0m.2 5h0m.6 9.3h0m-.9 10.8h0m4.4 12.9h0m-4.1 11.9h0m.2 5.9h0m-.6 3.6h0m.6 2.7h0m4.9 4.6h0m-5.3 8.9h0m1 11.6h0m-.2 3.7h0m-.2 3.4h0m5.2 2h0m-4.7 .3h0m-1 2h0m5.4 4.4h0m-.4 8.5h0m.1 7.9h0m-2.8 .6h0m-2.3 5.2h0m5.2 1.2h0m-.9 7.7h0m-3.8 .9h0m2.1 5.2h0m-.7 5.3h0m-1 6h0m4.3 .3h0m.3 3.8h0m-5.5 1.2h0m4.9 5.9h0m-5.1 0h0m.7 13.6h0m-.7 17.3h0m1 9.4h0m6.1-199.2h0m-1 17.8h0m0 23.9h0m.4 2.3h0m1.1 71.9h0m3.7 34.1h0m-5.2 16.2h0m.2 4.4h0m4.2 .3h0m5-115.2h0m.1 93.5h0m2.1 2.3h0m-2.2 .2h0m.7 43.4h0m6.8-214.2h0m-1.1 3.7h0m.7 5.1h0m-1.5 3.2h0m-1 13.5h0m1.4 7.8h0m.5 4.8h0m-.7 26.3h0m-1.4 15.3h0m1.6 23.1h0m-1.6 4.8h0m.6 53.2h0m2.3 6h0m-1.9 2.1h0m.3 4.3h0m2.4 9.7h0m-3.4 13.2h0m1.4 6.6h0m-.7 4.1h0m6.5-207.7h0m.8 50.5h0m-.5 3.6h0m2 43.5h0m-2 10.8h0m-.7 11.7h0m2.8 21.5h0m-2.4 16.4h0m1.9 4h0m-1.3 10.4h0m1.7 13.3h0m.2 34.4h0m-2 1.5h0m6.7-216.5h0m-3.8 4.8h0m-.3 27.3h0m.2 4.6h0m.1 2.9h0m3.2 51.1h0m-3.7 17.1h0m.3 38.5h0m-.1 16.6h0m1.5 51.6h0m7.2-214.2h0m-.1 2.6h0m1.9 1.3h0m-4.1 .4h0m3.2 3h0m.3 8.2h0m-3.6 7.2h0m2.5 17.5h0m-2.5 7.8h0m3.5 15.5h0m-.5 3.2h0m1.5 3.2h0m-4.5 5.3h0m3.9 19.8h0m-.7 23.4h0m-2.6 8.2h0m-.9 3.2h0m.6 20.4h0m3.6 12.1h0m-3.8 9.7h0m-.4 7.7h0m3.8 .6h0m-.4 11.4h0m.5 2.3h0m-3.1 3.2h0m2.5 0h0m.1 6.7h0m-.1 9.5h0m2.7-213h0m.7 181.6h0m-.8 9.7h0m9-199.5h0m.2 2.6h0m-.6 4.5h0m-2.1 .7h0m.9 3.4h0m2.9 .5h0m-1.1 2.4h0m-.6 6.3h0m1.3 2.5h0m-.1 2.5h0m-.2 2.7h0m-.1 2.9h0m-.5 5.3h0m-1.7 24.2h0m.7 16.6h0m.9 11.5h0m-.1 8.1h0m0 2.8h0m.5 22.5h0m1.3 3.4h0m-3 9.6h0m1.4 1.9h0m.3 15.3h0m-1.9 2h0m1.7 4.6h0m-2.4 8.3h0m3.4 2h0m-3.4 .3h0m2.4 3.6h0m.3 8.4h0m-.7 3.3h0m.9 2.2h0m1.6 7.1h0m-1.8 11h0m-.5 9.2h0m.1 8h0m5.3-216.5h0m.1 2.5h0m.2 3h0m-.4 3.5h0m0 2.2h0m.3 2.2h0m-.3 16.3h0m-.5 4h0m1.4 4.8h0m-.9 7.8h0m.7 39.4h0m.1 2.5h0m-.6 6.9h0m.3 18.4h0m-.4 4.2h0m0 4.3h0m.2 10.5h0m-.3 10.3h0m.6 9.4h0m0 5.5h0m-1 13.1h0m.4 8.8h0m.1 3h0m2.1 4.2h0m-2.8 .9h0m.2 12h0m3.5 0h0m-2.5 16h0m8.6-219.3h0m-4.4 9.7h0m.5 66.2h0m.1 66.8h0m.2 9.6h0m2.3 21.9h0m-3 18.6h0m.9 10.2h0m-.7 7.5h0m.4 9.3h0m5.4-215.1h0m.6 2.6h0m-1.8 44.7h0m.5 5.1h0m-.5 18.4h0m.7 33.2h0m-.5 8.1h0m.1 10.4h0m.2 35h0m-.1 16.1h0m-.4 14.2h0m0 9.8h0m-.1 16.1h0m11.7-213h0m-2.9 4.7h0m-1.9 29.8h0m1.8 2.2h0m-2.1 3.3h0m2.6 8.7h0m2.3 .7h0m-.3 3.7h0m-5 17.9h0m5.3 7.3h0m-4.6 41.6h0m3.9 3.8h0m-1.3 12.3h0m.2 13h0m-3.6 .4h0m5.4 13.2h0m-2.9 .1h0m.9 11.8h0m-.3 19.5h0m-3.2 3.9h0m2.9 6.5h0m-.1 2.3h0m2.7 0h0m6.2-209.1h0m-6 6.5h0m.1 24.1h0m5.4 28.9h0m-5.5 6.6h0m5.2 .7h0m-5.1 11.3h0m0 55h0m5.4 16h0m-5.4 27.6h0m5.4 6.5h0m0 3.2h0m-2.7 22.8h0m-2.7 3.5h0m0 4.4h0m6.3-190.5h0m4.1 138.9h0m-4.3 15h0m8.4-82h0m-.8 26.5h0m-.2 91.7h0m8.6-214.9h0m.7 2.5h0m.8 2.6h0m-.6 2.9h0m-.6 7.3h0m.2 12.8h0m-.1 28.2h0m-.4 4h0m.6 3.1h0m-.3 30.8h0m1.3 8.9h0m-1.1 4.4h0m-2.1 .9h0m.5 2.9h0m2.1 2.1h0m-3.8 5.2h0m3 4h0m-3.1 8.2h0m2.8 1h0m-2 7.7h0m2.2 5h0m-.1 2.5h0m.6 2.3h0m-3.3 2h0m3.1 3.2h0m.5 18.7h0m-3.2 3.9h0m1.9 9.9h0m.9 5.8h0m-.1 3.8h0m-2.5 2h0m3.2 .3h0m-.8 4h0m.1 12.8h0m7.1-174.5h0m-.3 27.9h0m-.5 22.8h0m.9 40.6h0m-4.6 58h0m4.4 7.1h0m-.8 9.8h0m-3.6 7.9h0m6-219.3h0m.3 3.1h0m-.6 2.6h0m4.3 2.1h0m-3.5 68.1h0m-.3 6h0m3.1 47.6h0m-.1 42.1h0m-4.3 13.7h0m.5 18.3h0m3.8 .6h0m-2.9 14.9h0m2.7 .5h0m6.7-217.3h0m-.1 2.6h0m-2.7 6.8h0m2.1 8.9h0m-2 70.4h0m2.4 32h0m-.3 8.5h0m-2.4 4.6h0m2.7 3.1h0m-.3 26.3h0m-3 .6h0m2.3 2.1h0m-1.8 16.8h0m2.7 .4h0m-.2 6h0m-2.5 18.2h0m2.5 2.2h0m-3.5 8h0m8.8-220.4h0m.5 3.4h0m-1.7 2.1h0m-.5 3.6h0m2.1 .9h0m-2 1.3h0m2 .9h0m.9 6.1h0m-4.5 3.4h0m3.7 5.3h0m-.2 5.3h0m-1.8 1.7h0m3.2 11.2h0m-1.1 17.1h0m-3.1 .3h0m2.5 2.4h0m-2.9 1.6h0m1.7 9.2h0m.7 3.3h0m-1.1 24.7h0m2.3 33.3h0m-4 19.2h0m2.1 .1h0m-1 10.8h0m.2 5.3h0m4.4 8.8h0m-3.2 4.4h0m-2.1 1.2h0m.2 16.6h0m1.5 2.5h0m-.9 7.9h0m-1.1 5.4h0m10.3-217.5h0m-2.2 2.3h0m.5 2.6h0m.2 2.2h0m.9 3.3h0m-1.2 4.3h0m.9 4h0m-.3 8.5h0m-.6 7.2h0m.8 3.1h0m-.8 10.9h0m.2 85.1h0m-2.8 17.2h0m3.8 17.2h0m-.6 10.1h0m-2.6 32.5h0m6.8-211.3h0m-.5 2.2h0m.4 4.2h0m-.2 2.6h0m.5 2.9h0m.2 3.1h0m-.2 2.4h0m-.6 6.7h0m.7 12h0m3.2 149.5h0m12.2-183.3h0m.2 3.3h0m.2 4.6h0m5.6-8.3h0m-4.3 2.1h0m3.1 .1h0m-3.1 3.6h0m1.7 2.1h0m-2.2 4.3h0m2 2.1h0m.1 10h0m-.1 103.7h0m0 13.2h0m2.6 51.7h0m3-191h0m-1.1 1.9h0m.4 2.5h0m-.4 4.6h0m2.4 2.8h0m-2.9 .6h0m1.1 1.8h0m-.4 28.6h0m2.3 139.1h0m18.9-183.1h0m-1.4 3.5h0m-2.1 1.2h0m.9 2.3h0m.2 86.5h0m.3 54h0m.6 5.6h0m4.4-152h0m.9 2.1h0m-.3 3.8h0m3.4 33.2h0m-2.3 81.3h0m-.1 31.3h0m4-14.5h0m16.9-127.2h0m.8-13.7h0m2.9 3.5h0m1 1.9h0m-3.4 3.2h0m2.7 .4h0m-3.7 1.8h0m-.2 6.5h0m3.1 .7h0m-1.7 2.8h0m1.1 92.1h0m3.4 15.3h0m-.5 28.3h0m-1.4 11.1h0m-1.6 3.9h0m1.7 1.8h0m-.9 23h0m4.2-190.3h0m-1.1 3h0m3.6 1.6h0m-.6 19.5h0m0 42h0m-2.8 .3h0m3 2.7h0m.7 5.7h0m0 2.7h0m-3.8 39.5h0m2.5 4.1h0m.7 6.2h0m-.5 3.5h0m-2.4 1.7h0m.5 16.9h0m2.2 1.4h0m-3.3 8.5h0m4.2 2.1h0m-3.1 .4h0m.3 17.6h0m2.4 16.6h0m-.9 17.2h0m6.6-214.3h0m.3 23.8h0m2 14.5h0m-1.6 3.3h0m-1.6 11.5h0m3 81.8h0m-1.5 2.1h0m-.9 8.3h0m1 7h0m-1.3 27.7h0m2.9 10.7h0m-2.8 .4h0m.4 20.8h0m3.6-212h0m0 4.4h0m-.3 2.7h0m.4 33.5h0m-.7 4.2h0m.7 45.1h0m-.8 14h0m-.1 2.4h0m.1 44.5h0m4.5 6.1h0m.4 3.8h0m-2.4 .2h0m-2.2 .5h0m-.3 18.8h0m5.1 1h0m-.1 32.8h0m5-.4h0m6.7-99.3h0m.1 66h0m-3.5 17.2h0m3.2 5.9h0m.1 11.4h0m12.4-167.6h0m.2 53.2h0m-4 80.8h0m8.5-184.7h0m-.8 183.2h0m.4 5.7h0m.4 15.5h0m1.7 12.8h0m.3-184.9h0m5.5 179h0m4.6-213.5h0m-.1 6.4h0m-.7 60.4h0m.2 9.3h0m-.7 11.1h0m-.8 5.3h0m1.5 3.3h0m-2.9 10.2h0m1.5 6h0m2.2 7.4h0m-4.2 .1h0m3.3 5h0m-2.1 11.7h0m-.8 6.3h0m3.2 7.2h0m-1.1 2.9h0m.6 5h0m-3.1 .1h0m2.4 14.8h0m1.5 6h0m1 8.3h0m-2.4 .1h0m-.8 12.4h0m-.9 3h0m3.3 15.1h0m-2.3 1.5h0m9.6-210.9h0m0 2.3h0m-.1 37.8h0m.4 22.7h0m-.2 6.1h0m-.2 4.1h0m-.2 3h0m-.2 5.3h0m-.2 5.4h0m.9 25.1h0m-2.3 15.4h0m2.3 21.5h0m-.7 3.6h0m.7 7.9h0m-1.3 13.4h0m1.1 4.1h0m-.2 5.9h0m-1.8 28h0m7-223.1h0m-.2 3.1h0m0 3.5h0m-.8 2.9h0m-3.4 13.1h0m4.6 10.2h0m-.4 20.6h0m-4.3 .9h0m5.3 3h0m-.8 27.2h0m.5 3.1h0m-.4 28.5h0m-1.3 7.3h0m2.5 6.9h0m-2.8 2.2h0m1.2 7.2h0m.8 12.8h0m.2 9h0m-.9 2.2h0m.8 5.6h0m.8 2.2h0m-1 9.9h0m-.2 8.8h0m0 19.7h0m-1.2 6.1h0m-3.4 7.3h0m6.1-215.3h0m2.8 1h0m.3 3.2h0m-2.8 .4h0m2.5 8h0m2.1 3h0m-4.7 13.3h0m5.4 13.2h0m-.9 3.8h0m-.1 3.6h0m.4 20.7h0m.1 2.7h0m.1 74.2h0m-.4 16.1h0m0 17.7h0m-3.1 17.1h0m2.4 .4h0m-3.9 6.5h0m-.3 3.3h0m9.5-209.4h0m-1.1 2.4h0m-.1 6.6h0m.2 22.5h0m0 24h0m-.3 77.1h0m2.7 15.4h0m-3.1 16.4h0m.2 17.6h0m.5 17.9h0m.2 8.9h0m5.6-136.4h0m-.7 29.8h0m.2 10.1h0m.5 13.9h0m2.2 5.8h0m-3 16.6h0m3.2 15.8h0m-2.5 18.6h0m3.5 .4h0m-1.5 4.1h0m-2.8 .2h0m.4 6.2h0m0 17h0m-.5 4.8h0m6.3-210.5h0m-.3 8.7h0m-.4 4.4h0m.5 4.9h0m.1 5.8h0m-1 4.4h0m1.1 9.3h0m-.4 2.9h0m.5 12.8h0m.4 2.2h0m-.6 12.6h0m.7 3.8h0m-1 2.7h0m.1 36.8h0m.1 15.6h0m-.9 2.6h0m2.7 .6h0m-1.1 12.5h0m-.1 4.9h0m0 11.7h0m-.5 17.8h0m-.1 11.1h0m.3 14.1h0m2.7 1.1h0m-2.7 5.2h0m-.2 2.7h0m6.5-211.8h0m-.9 4h0m0 4.3h0m-.2 3.4h0m.4 12h0m.4 41.5h0m-1.2 42.9h0m.7 19.8h0m.4 6.3h0m-.6 9.8h0m.6 33.7h0m-.1 13.3h0m3.3 15.7h0m-3.9 4.4h0m10.3-209.3h0m-1.8 3.2h0m1.1 6.5h0m.4 5.5h0m-1 9.1h0m.3 16.3h0m-.7 13h0m2.2 12.3h0m0 3.1h0m-1.6 2.6h0m0 2.6h0m1.6 25.7h0m-.4 4.8h0m.3 12.2h0m-1.7 8h0m0 8.2h0m.1 6.9h0m1.5 18.4h0m-1.7 5h0m1.1 13h0m.4 8.7h0m-2 24.2h0m2.5 0h0m-.1 2.2h0m1.3-215.9h0m4.8 7.4h0m-2.8 8.6h0m-3 13.4h0m1.2 3h0m1.5 3.5h0m-1.9 6.7h0m-.1 3.2h0m-.8 20.1h0m1.5 2.6h0m4.2 2h0m-.4 2.8h0m-3.7 2.6h0m4.2 5.9h0m-2.6 9.6h0m-.5 2.9h0m.1 2.5h0m-1.5 4h0m.7 2.7h0m.4 6.5h0m-.4 2.8h0m1.7 3.7h0m2.2 6.1h0m-.5 8.4h0m-2.3 6h0m2.3 8.5h0m.3 4.9h0m-4.3 2.4h0m.5 2.3h0m1.6 7.4h0m-.4 10.4h0m-2.1 .6h0m1.6 13.5h0m.5 4.8h0m-1.8 10.3h0m1.7 11.9h0m2.8 .8h0m.6-218.5h0m1.8 1.4h0m-1.9 2.7h0m.2 4.5h0m2.1 2.5h0m-.5 4.6h0m.2 3.7h0m-.1 5.2h0m3.2 12.9h0m0 2.4h0m-5.3 .4h0m1.8 16.9h0m.5 3.7h0m0 7.5h0m.1 4.7h0m3.4 4.1h0m-5.5 2.6h0m2.1 1.5h0m2.8 8.3h0m.6 3.9h0m-4.1 .8h0m4 2.3h0m-.5 4.2h0m-3 3.6h0m3.3 1.9h0m-5.3 16.1h0m1.9 11.3h0m3.5 .6h0m-3.1 5.5h0m-.6 9.9h0m2.3 .3h0m-4.4 15.8h0m2.4 .1h0m3.2 .1h0m-4.7 5.1h0m3 11.3h0m-3.2 1.2h0m2 1h0m3 5.5h0m-5.5 4.9h0m2.6 2.6h0m2.1 2.5h0m-2.4 0h0m-1.5 3h0m-.3 2.6h0m4.6 4.5h0m-4.3 2.2h0m4.3 5.7h0m4.6-219h0m.4 5.2h0m-3.7 .8h0m4.5 2.4h0m-5 .7h0m-.1 6h0m5 8.3h0m.1 17.4h0m-4.2 2.1h0m3.6 8.2h0m-4 1.8h0m4.2 1.6h0m-4.4 3.4h0m5.2 1.1h0m.1 2.3h0m-5.1 6.8h0m-.1 2.3h0m3.9 4h0m-3.4 5.9h0m4.6 1.6h0m-5.1 .8h0m5.1 2.7h0m-1.6 9.5h0m.5 15.6h0m-4 .8h0m5.2 6.9h0m-5.4 .6h0m4.7 2.1h0m-4.2 4.3h0m-.7 6.6h0m.2 12.8h0m4.3 8.1h0m-2.7 14.4h0m3.3 1.1h0m-4.9 4.2h0m-.1 2.4h0m.5 3.1h0m3.7 .6h0m-3.7 4.2h0m2 2.5h0m2.8 .3h0m-5.4 1h0m2.8 5.1h0m-2.3 3.5h0m3.3 3.2h0m-3.1 .3h0m4.1 3.1h0m-4 1.5h0m3.7 3.5h0m-4.1 .5h0m.9 5h0m-.9 2.8h0m3.7 3.4h0m4.9-205.4h0m1.3 114h0m-4.1 28.2h0m3.5 1.8h0m-.5 3.9h0m-1 6.7h0m1.6 17.2h0m.8 6.2h0m-1.8 11.9h0m2.3 15.7h0m-2.2 0h0m3.7-210.2h0m.4 32h0m3.2 8.8h0m-2.4 12.9h0m.2 5.6h0m-1.1 4.6h0m0 5.7h0m2.1 1.5h0m2.8 49.2h0m-4.6 6h0m.9 10.6h0m1.8 4.7h0m-2.6 1.1h0m3.2 16h0m.9 5.1h0m-2.1 .5h0m-.7 5.3h0m-2.2 0h0m1.6 6.5h0m1 5.5h0m2.5 12.4h0m-4.3 .5h0m2.8 7.9h0m-1.7 2.1h0m3 5.3h0m-3.9 0h0m6.7-218.4h0m.6 3.5h0m-.7 2.1h0m.6 2.5h0m-.7 7.2h0m.2 3.1h0m.5 19.4h0m.4 3.3h0m-.5 4.5h0m-.2 3h0m.7 2.8h0m.3 3.3h0m.2 3.2h0m-.8 3.1h0m-1.1 4.6h0m1.2 4.1h0m0 8.5h0m.1 2.2h0m.2 2.5h0m-1 4.9h0m.4 3.1h0m-.1 3.4h0m.2 3.1h0m.5 6.2h0m0 3.2h0m-.2 13h0m-.6 2.4h0m.4 6.2h0m.2 7h0m0 2.2h0m2.3 .4h0m-1.4 6.9h0m-1.3 6h0m-2 9.7h0m2.3 .1h0m0 2.5h0m-.4 4.3h0m-.8 4.6h0m1.6 5.4h0m-.6 2.5h0m.1 4.9h0m-.3 2.7h0m1.2 3.5h0m-1.2 3h0m.1 8.2h0m.9 7.1h0m-.5 5.4h0m.3 3.4h0m-1.3 1.8h0m9.4-216.1h0m-1 5.6h0m.1 3.2h0m.1 3.7h0m.5 14h0m0 31.1h0m0 7.4h0m-.2 5.8h0m-.1 5.5h0m.2 11.6h0m-.2 3.6h0m-.1 3.1h0m.1 5h0m.3 4.6h0m-.5 3.7h0m.1 3.6h0m0 4.4h0m-.1 14.9h0m.1 5.1h0m-2.1 .5h0m2.6 10.8h0m-.8 6h0m-.1 9.8h0m1.3 10.7h0m-.5 7.3h0m-.5 7h0m.4 4.4h0m-1.4 5.3h0m-1.3 1.8h0m3 0h0m-.4 5.6h0m-.5 2.4h0m.4 7.7h0m6.7-219.5h0m-.6 3.5h0m-.7 2.4h0m.8 2.9h0m.7 4.1h0m.4 6.4h0m-1.6 1.7h0m-.1 10.8h0m.8 4.6h0m.6 8.5h0m-.3 4h0m-.2 3.5h0m-.8 5.7h0m.9 5.1h0m-.1 2.7h0m.2 8.1h0m-1.6 1.9h0m.3 2.5h0m.7 2.4h0m1.1 6.1h0m-1.4 5.4h0m1.1 4.2h0m.2 7.7h0m-1.2 2h0m-.7 3.5h0m0 2.4h0m1.9 2.4h0m-1.8 2.4h0m.9 2.2h0m.2 3.4h0m.7 4.7h0m-.2 3.2h0m-2.5 4.2h0m2 1.3h0m-1.8 6.8h0m2.2 0h0m.1 6.5h0m-1.7 2.4h0m1.8 4h0m.1 6.4h0m-1.1 3.7h0m-.6 2.2h0m1.1 2.7h0m-1 2.2h0m.9 2.9h0m-.8 4.8h0m-1.6 4.6h0m-1.7 1.5h0m4.3 .4h0m.5 4.4h0m0 2.8h0m-.5 2.6h0m.4 5.8h0m-1.3 12.1h0m1.3 3.4h0m-2.8 .5h0m-1.9 1h0m10.2-217.7h0m.6 2.3h0m-.7 16.5h0m.6 4.3h0m-.2 29.2h0m-.2 12.1h0m-5.2 10.4h0m4.6 3.5h0m-4.6 3h0m5.2 2.5h0m-5.1 4.7h0m0 11.6h0m1.8 32.2h0m3.5 8.7h0m.1 8.3h0m-1 4.7h0m.8 2h0m0 10.1h0m-4.8 0h0m2.4 17.7h0m1.1 6.9h0m-.9 6.9h0m6.6-196h0m.1 3h0m-3.9 2h0m3.5 62.2h0m.4 9.4h0m-2.9 .2h0m2.7 2h0m-2.9 .5h0m3.3 4.1h0m-.4 2.2h0m.1 7.2h0m.7 23.9h0m-1.2 3.9h0m-3.1 8.8h0m3.5 1.9h0m2.2 .2h0m-3.3 16.3h0m-.9 6.5h0m2.9 9.2h0m-1 2.6h0m-2.9 3h0m2.9 1.8h0m-3.4 10.9h0m3.5 .4h0m0 9.6h0m-3.4 4.1h0m2.3 2.4h0m-2.3 .5h0m0 3.2h0m3.4 3.9h0m.5 2.2h0m-4.1 7.9h0m7.2-214.8h0m4.4 1h0m-2.8 3h0m2.5 111.3h0m-3.1 4.7h0m-.2 10.2h0m-.7 8.4h0m.4 7.5h0m1.4 9h0m1.7 1.4h0m-2.3 31.4h0m-.6 6.8h0m3.9 19.5h0m5.2-214.9h0m-1.1 11.5h0m1.2 49.3h0m.4 4.5h0m-.2 2.6h0m-1.2 5.1h0m1.1 2.2h0m.5 17.9h0m-1.1 16.5h0m.9 6h0m-.7 7.5h0m-1.7 1.5h0m1.4 7.7h0m-3.2 30.8h0m2.5 11.3h0m.6 40.1h0m5.6-218.1h0m-2.8 6.2h0m-.1 3.4h0m.5 7.7h0m.3 8.3h0m-1.4 8.5h0m.9 2.7h0m-.1 11.7h0m.4 8.9h0m-.3 7.7h0m-.1 5.5h0m-.1 4.7h0m2.8 3.2h0m-2.6 .3h0m-.5 3.6h0m.6 3.4h0m-.8 2h0m.6 4.7h0m.1 2.7h0m.3 2.4h0m-1.7 2.3h0m2.8 15.2h0m.1 5.2h0m-1.1 3.2h0m2.4 11.3h0m1.4 2.1h0m-1.7 4.2h0m-2.2 1.7h0m-.2 2.7h0m2.9 5.5h0m-3.6 .4h0m.9 9h0m-.1 7.1h0m-.1 4.2h0m-.3 2.8h0m2.4 7.1h0m0 3.5h0m-2.3 .3h0m-.1 6.3h0m.2 10.7h0m-.4 8.4h0m.9 2.1h0m-.6 2.3h0m2.1 .6h0m-2.9 3.3h0m8-219.5h0m-.1 2.5h0m-.4 3.1h0m1.4 3.8h0m2.1 3.9h0m-2.6 7.5h0m-.1 14.6h0m2.5 6h0m-2.2 .1h0m-.2 14.2h0m2.2 2.5h0m-2.3 1.5h0m2.9 2h0m-2.6 .2h0m-.4 5.2h0m.1 3.6h0m.5 2.7h0m.6 4.3h0m-1.1 3.4h0m-.5 6.1h0m2.5 24.3h0m-2.1 .5h0m.8 4.2h0m-1.4 4.4h0m1.1 4.3h0m-.8 3h0m2.5 .1h0m-2.3 8.1h0m-.4 7h0m.9 2.8h0m-.4 2.3h0m2.7 3.1h0m-2.5 1.9h0m1.1 2h0m.9 2.6h0m0 4.2h0m-2.5 4h0m.1 2.8h0m2.7 9.6h0m-2.8 .4h0m.1 4.3h0m.3 2.3h0m.2 7.1h0m2.9 .9h0m-3.1 1.7h0m-1.7 7.5h0m4.1 .9h0m-1.8 6.5h0m-.6 2.8h0m.3 6.4h0m3.2-216.2h0m4.3 2.6h0m1.2 3.9h0m-1.1 3.4h0m.1 5h0m-.1 10.7h0m.3 17.6h0m.7 13.5h0m-1.2 2.6h0m-.5 18.3h0m1.5 2.2h0m-.6 10.6h0m-4.9 5.1h0m4.6 .9h0m0 5.1h0m.5 9h0m.7 2.9h0m-.5 3.3h0m.1 2.3h0m-2.5 15.6h0m1.4 13.8h0m-2.6 2.2h0m2.6 6.7h0m1.1 2h0m-.7 3.6h0m-.2 4.5h0m.2 6.8h0m.4 6.3h0m-.7 2.9h0m-.4 3.9h0m.7 4.7h0m.1 8.2h0m.1 3.6h0m-.7 6.8h0m.9 4.2h0m-.4 2.9h0m2-30.2h0m3.5 12.4h0m2.6-193.7h0m4.7 74.5h0m-4.8 15.8h0m.3 37.4h0m.3 24.1h0m-.8 2.1h0m.2 11.9h0m.2 10.5h0m.4 10.6h0m4.3 7.1h0m-4.5 0h0m6.8-194.1h0m3.4 3.9h0m-2.6 7.2h0m2.4 2h0m-2.6 3.2h0m2.7 15.8h0m.4 3.3h0m-3.5 5.5h0m.7 26.1h0m0 3h0m-.5 2.4h0m3.2 15h0m-3.2 18.9h0m.3 9.3h0m-.6 3.1h0m.5 5.1h0m.8 2.4h0m2.4 0h0m-3.6 14.9h0m1.7 2.5h0m-.9 15h0m2.6 1.6h0m-2.6 2.9h0m-.1 4.3h0m3.1 6.5h0m-1.4 4.2h0m-1.4 15.9h0m-.3 2.5h0m-.3 10.6h0m-.3 2.4h0m5.8-214.9h0m-1.4 2.3h0m1.6 1.8h0m.1 21.5h0m-1.3 10.3h0m.8 41.7h0m-1.7 2.5h0m1.1 31.8h0m-.7 13.4h0m1 9.2h0m0 24.7h0m.6 5.2h0m-1.5 10.7h0m0 6.7h0m1.6 5.9h0m-.8 10.2h0m-.5 17.5h0m7.2-215.5h0m-.3 5.3h0m-1 16.6h0m.5 3.1h0m.5 12.3h0m.5 15.7h0m-1.1 3.9h0m.9 10.6h0m-.1 3.4h0m-.6 26.6h0m.2 17.8h0m-1.2 3.8h0m1.3 13.9h0m.5 4.3h0m-1 27.1h0m-.1 11.8h0m.5 6.4h0m-.1 16.8h0m.6 4.7h0m6.6-200.7h0m.5 86.8h0m-.1 22.5h0m.1 19.3h0m.1 22h0m.2 8.2h0m-.4 2.7h0m8.5-171.1h0m0 2.3h0m-1.4 4.9h0m1.2 5.8h0m-1.3 15.1h0m.1 7.8h0m1.2 12.5h0m-1.2 3.2h0m-.1 2.9h0m1.3 11.6h0m-1.9 1.2h0m.4 10.2h0m-.5 5.6h0m-.1 6.7h0m0 9.7h0m2.4 1h0m.1 4.7h0m-.1 3.9h0m-1.9 20.9h0m-.2 8.2h0m1.5 7.5h0m.8 12.5h0m-1.9 1.2h0m1.7 10.2h0m-1.4 3h0m1.5 12.5h0m.1 3.4h0m-2.3 0h0m-2.5 .1h0m2.4 6h0m.4 5h0m1.3 12.2h0m0 7.3h0m.4 3.3h0m.7-214.1h0m-.1 2.7h0m.4 106.8h0m-.2 3h0m-.4 18.5h0m0 25.9h0m1.2 7h0m-1 31.8h0"/><path d="M87.9 72.3h0m1.2 2h0m.1 3.9h0m1.4 6.6h0m.2 5.5h0m-1.9 3.4h0m-1.1 33h0m3.6 17.8h0m-1.5 2.7h0m1.7 2.8h0m-1 7.5h0m-1.7 2.4h0m.2 35.5h0m-1.3 7.4h0m2.9 .6h0m-1.9 7.3h0m-1.2 2.2h0m3.1 7.1h0m-2.9 3.9h0m.5 2.6h0m0 2.5h0m2.7 .6h0m-3.4 3.8h0m3.2 2.5h0m-3 .1h0m5.2 .3h0m-4 3.5h0m1.2 11.6h0m.5 3.1h0m-2.6 .4h0m1.2 3.8h0m2 5.8h0m-3.3 6.5h0m1.9 1.3h0m-.9 15.2h0m5.4-214.7h0m2.5 1.2h0m.6 7h0m-.4 4h0m.1 4.2h0m.1 24.9h0m1.6 21.2h0m-1.9 20.9h0m-.4 3.8h0m.2 34.7h0m-2.9 8.7h0m3.7 1h0m-2.6 15.7h0m3.5 9h0m-2.2 .2h0m.9 7.4h0m-.1 18.6h0m-2.2 .2h0m2.8 4.2h0m-4.5 0h0m.2 5h0m3.4 6.6h0m.5 10.6h0m-.9 5.9h0m4.2-215.5h0m2.2 2.3h0m-.5 2.8h0m-1.9 2.1h0m2.1 5.2h0m-2.2 16.7h0m3.1 42.4h0m-4 7.4h0m.3 4.5h0m.3 3.9h0m-.3 7.5h0m.6 20.6h0m2.3 9.2h0m-1.3 7.2h0m2.2 12.9h0m-4.2 2.6h0m2.9 .2h0m-1.4 1.6h0m-1.1 14.6h0m.4 18.3h0m2.6 5.4h0m1.7 2.2h0m-2.5 8.8h0m-2.4 15.8h0m.3 3.1h0m6.8-215.9h0m2.4 .5h0m-.2 2.2h0m.5 2.9h0m-.1 25.6h0m-.4 3.1h0m-.4 9.9h0m.2 4.6h0m.3 26.4h0m-2.9 39h0m.4 47.8h0m3.3 .8h0m-.6 10.1h0m-.4 7.8h0m2.2 .2h0m-1.4 11.2h0m-3.1 2h0m-.5 8.4h0m2.4 11.4h0m5.2-217.5h0m0 2.7h0m3.2 1.8h0m-4.4 2.8h0m-.1 3.3h0m2.6 .5h0m-1 4.1h0m-1.2 4h0m.7 3.4h0m-.7 8.9h0m.6 16.1h0m2.2 19.9h0m-2.7 4.4h0m.9 5.3h0m-.1 3.5h0m-.9 4.3h0m.1 12.7h0m.2 4.7h0m.5 8.4h0m2.5 7.2h0m-2.8 .3h0m-.3 15.8h0m2.7 .3h0m-2.6 17.1h0m.1 6.9h0m.3 7.4h0m-1.2 2.8h0m4.7 1.9h0m-2.9 1h0m-1.2 4.5h0m.8 8.1h0m0 4h0m1.7 7.5h0m.9 6.3h0m-4 .1h0m1.3 5.3h0m-.7 5.1h0m.2 4.7h0m3.1 1.1h0m6.8-217.1h0m.1 2.6h0m-1.8 4.2h0m-.8 2.5h0m-.2 17.7h0m-.1 20.3h0m2.8 24.7h0m-.3 4.4h0m.4 7h0m.1 2.9h0m-.1 2.6h0m.1 30.4h0m-2.9 6.9h0m.1 4.6h0m2.4 22h0m-1.5 9.3h0m-1.3 3.5h0m3.1 3.8h0m-2.4 2.1h0m-.8 16.3h0m.7 4.3h0m2.4 3.6h0m4.5-198.7h0m-.6 5.2h0m-.1 3.9h0m-3.2 .4h0m3.5 2.5h0m.2 4.2h0m-.2 7.1h0m.4 57.4h0m-.4 4.7h0m-.3 5.7h0m.9 8.7h0m-.6 3.6h0m1.9 19.6h0m-3.4 12.1h0m1.2 1.9h0m-3.4 14.2h0m3.8 .2h0m-3.1 13.6h0m-.7 2.4h0m3.9 12.3h0m-4.1 5.9h0m3.5 .1h0m.2 16.7h0m-.1 6.8h0m.7 10.4h0m3.1-218.7h0m-.7 5.1h0m.7 3h0m-.8 3.5h0m.7 3.8h0m-.4 6.8h0m-.2 7.5h0m.1 10.4h0m.2 17.5h0m.1 11.9h0m.3 7.3h0m.1 3h0m-1.1 40.1h0m.3 4.2h0m.2 10.9h0m.1 15.9h0m.1 23.1h0m-.4 3.7h0m-.1 7.1h0m0 11.2h0m.2 4.2h0m.3 2.3h0m6.5-196.8h0m.5 6.1h0m-.1 155.4h0m-.2 6.4h0m.7 11.1h0m.7 7.4h0m-1.4 10.5h0m8.4-199h0m0 4.6h0m-.4 5.7h0m.6 52.2h0m.1 10.5h0m-.5 43.2h0m.5 6.7h0m-.1 58.1h0m-.1 11.3h0m4-68.5h0m3.5 8h0m-3.9 1.7h0m.3 13h0m3.2 3.4h0m.1 5.9h0m-2.4 .3h0m2.4 37.4h0m-3.6 21.9h0m6.6-216h0m1.7 2.3h0m-.4 38.2h0m0 69.1h0m-2.6 15.5h0m.4 6.2h0m2.6 2.1h0m-3.2 14.4h0m2.8 .4h0m.2 69.7h0m7.5-220.1h0m-.2 6.1h0m.5 23.2h0m-.3 25.1h0m.2 80.3h0m-.1 6.8h0m-.5 8.1h0m.4 16.9h0m.4 4.3h0m-.3 2.5h0m.4 3.6h0m-.7 18.4h0m-2.5 16.9h0m8.5-207.3h0m.3 2.7h0m-4.2 .2h0m-.3 3.2h0m4.3 .4h0m-4.8 10.8h0m.7 9.6h0m-.1 6.6h0m-.3 32.5h0m.2 3.6h0m-.2 29.7h0m-.3 3.5h0m5.4 10.3h0m-.7 7.8h0m-.8 22.9h0m-3.1 1.2h0m-.9 4.7h0m.2 5.8h0m.2 4.4h0m.4 18.9h0m-1.1 17.6h0m.8 6.5h0m0 10.2h0m5.1-83.8h0m9.9-60.6h0m7.4-71.7h0m0 2.2h0m-2 97.6h0m2.5 79.4h0m-2.8 15.9h0m.4 3.8h0m6-150.4h0m1.8 89.7h0m.6 77.4h0m4.7-212.4h0m-4.6 31.1h0m.6 112.9h0m-.3 34.8h0m1.8 33.6h0m7.5-215.1h0m-2.1 4.9h0m-.3 3h0m3.2 .4h0m-.8 32.7h0m-.3 26.4h0m2 1.7h0m-5.1 7.4h0m3.8 104.9h0m-2.4 .4h0m1.9 15.3h0m-2 1.2h0m2.1 1.1h0m-.4 15.6h0m2.5 .2h0m1.2-33.4h0m-.2 13.5h0m9.5-194.7h0m-2.8 1h0m2.4 2.6h0m0 2.2h0m-.2 10.1h0m.1 4.3h0m-.6 61.9h0m1.4 64.9h0m-.9 16.9h0m.2 13.9h0m.3 2.3h0m1.5 6.7h0m-1.4 11.6h0m-1.1 7.7h0m.3 9h0m5.3-216h0m-.3 3.3h0m-.2 2.2h0m0 3h0m-.1 3.2h0m.6 18.5h0m.2 4h0m.5 11.6h0m-.5 66.5h0m-.2 6.6h0m0 3.7h0m0 9.5h0m-.1 8.4h0m-.2 41.1h0m-.5 5.9h0m1.7 12.1h0m4.4-9.7h0m-1.8 9.5h0m2.3 0h0m-1.7 16h0m6.4-213.7h0m-.3 2.2h0m-.3 46.2h0m-.1 62.8h0m.8 62.4h0m4.7 23.7h0m-5.8 13.7h0m1.1 2.5h0m5.7-174.2h0m4.6 12.1h0m-.3 72.1h0m-2.3 37.9h0m-1.5 1.7h0m3.2 .3h0m-1.4 41.4h0m.7 9.5h0m2.1-165h0m3.6 131h0m-3.3 33.7h0m6.1-35.6h0m16.6-179.7h0m-.7 3.8h0m.1 3.1h0m0 57h0m-3.2 55.4h0m.8 11.7h0m3.4 1.9h0m-1.2 12.1h0m.3 6.6h0m-.4 5.3h0m-1.8 21.6h0m2.2 12.6h0m1.1 7.6h0m-1.6 6.2h0m1.3 10.6h0m6.3-33.6h0m1.3-182.3h0m-.6 2.2h0m.9 75.9h0m-.8 15.5h0m1.1 105h0m4.1 7.9h0m-5.2 .8h0m-.2 8.7h0m11.7-199.2h0m-.9 147.5h0m-.8 51.4h0m4.7-215.9h0m-2.4 1.8h0m3.6 .8h0m-2.2 2.3h0m2.9 1.2h0m-.2 17.4h0m-3.7 35.6h0m1 3.9h0m-.7 36h0m-1.2 53.7h0m1.4 12.2h0m-.9 17.1h0m2.1 20.5h0m-2.1 6.5h0m.8 7.2h0m8.3-215h0m-1.5 1.9h0m.6 4.8h0m.3 3h0m-.7 2.6h0m1.5 3.8h0m.5 18.8h0m-4.3 5.6h0m3.8 133.2h0m4.3-175.8h0m-.2 2.4h0m-.3 3.4h0m.3 2.4h0m-.6 3.6h0m.8 3.1h0m-1.2 2h0m3.9 167.4h0m12.6-178.1h0m5.3-5.3h0m-4.1 .1h0m4.3 2.7h0m-4.1 4.6h0m4 .3h0m-3.8 2.3h0m4.3 .6h0m-3.9 2.1h0m1 115.5h0m7.2-127h0m-2.6 .4h0m2.1 2.8h0m-1.3 2.3h0m0 2.6h0m1.5 2.3h0m-1.8 1.7h0m20.9-15.3h0m-1.2 2.4h0m-1.2 7.5h0m6.3-8.7h0m.4 3.3h0m-.2 2.2h0m22.1-9.3h0m-.3 9.5h0m2.9 .9h0m-2.4 5.6h0m1.6 2.3h0m1.6 1.8h0m-3.1 0h0m3.1 148.6h0m2.3-157.7h0m3.2 19.2h0m-2.2 97.7h0m2.6 .8h0m-.7 12.2h0m.8 18.4h0m-2.1 10h0m-.7 18.5h0m2.8 15.6h0m5.7-156.7h0m-.1 112.4h0m3.7-147.5h0m-.2 2.6h0m-.4 143.3h0m-.1 10.7h0m5.1 52.6h0m11.6-34.4h0m28.1-186h0m-1 113.3h0m-2.3 6h0m3.2 1.7h0m-1.5 14.6h0m.4 44.2h0m1.8 6.4h0m-3.6 17.5h0m.3 10.3h0m1.8 6.1h0m-2.4 .5h0m11.7-149.7h0m.1 13.1h0m-1.5 85h0m-2.5 52.4h0m9.3-221.5h0m-.3 3.1h0m.2 3h0m-.1 3.7h0m-4.9 .4h0m0 9.3h0m.3 2.5h0m.1 57.5h0m4.2 2h0m.9 2.7h0m-1.1 65.2h0m-1.3 9.2h0m2.7 7h0m0 21h0m-1.4 1.7h0m-4.5 31.9h0m9-214h0m2.8 40.6h0m-.3 28.8h0m-2 76.5h0m1.6 16.4h0m-5 35.6h0m9.5-197.4h0m-.8 6.6h0m-.2 123h0m.5 49.4h0m-.6 2.5h0m.1 15.4h0m-.2 9h0m3.3 7.4h0m2.2-113.3h0m-.6 10.2h0m2.9 13.3h0m-2.6 22h0m6.3-142.1h0m-.1 7.8h0m-.7 7.4h0m-.1 8.7h0m-.3 15.1h0m.2 28.3h0m.7 4.2h0m-.4 55.2h0m1.2 19.6h0m-1.1 11.5h0m1.1 19.3h0m-1.1 23.5h0m.7 9.3h0m6-210.3h0m-.7 4.9h0m-.5 2.6h0m10.8-10.6h0m-.6 13h0m.6 16.4h0m.3 77.5h0m-.9 65.7h0m.1 7.7h0m-3.4 32.6h0m4.1 2.2h0m3.5-199.8h0m-2.3 53.9h0m1.7 35.5h0m-.6 4.6h0m-.7 3.8h0m-1.4 15.3h0m5.7 1.5h0m-2.4 7.4h0m-2 24.6h0m-1.4 25.3h0m3.1 3.7h0m-.4 22.1h0m3.8-218.1h0m-.4 7.5h0m2.1 1.1h0m3 6.8h0m-2.1 .4h0m-.5 2.8h0m0 2.9h0m.4 5.5h0m2.1 13.6h0m-2.2 15.9h0m.1 5.3h0m-.6 10.3h0m-2.2 10.3h0m5.5 28.7h0m-5.4 15.4h0m1.9 14h0m-1.9 9.9h0m2.3 .3h0m-1.3 4.4h0m1.4 12h0m2.7 6.2h0m-2.4 12h0m2.4 .3h0m-4.7 12.9h0m2.1 3h0m2.9 1.2h0m-5 3.5h0m-.5 12.3h0m10.7-213.8h0m-4 .7h0m4.9 2h0m-5.5 .1h0m5.2 2.3h0m-5.2 1.2h0m5.1 30.4h0m-.7 8.6h0m-.2 3.3h0m-3.4 25.4h0m-.9 11.8h0m0 4.4h0m0 4.4h0m.1 2.7h0m3 50.1h0m2.3 2h0m-4.2 12.6h0m4 1.7h0m-2.7 9.3h0m3.1 .3h0m-1.6 8h0m.1 5.8h0m-3.6 4.5h0m4.2 5h0m-4.3 7.8h0m5 9.7h0m-4.8 .1h0m8.4-34.3h0m1.2 6.8h0m-1.4 11.4h0m1.7 16.2h0m3.1-212h0m.2 73.1h0m-.8 70.2h0m4.5 .3h0m-3.7 22.9h0m1 5h0m.4 11.4h0m-2.3 13.3h0m4.1 .2h0m3.2-204.9h0m-.5 4.2h0m.6 2.1h0m.7 4.4h0m-.7 6.1h0m.1 3h0m0 22h0m0 3.8h0m.1 9.7h0m-.9 4h0m1.5 21.3h0m-.9 15.6h0m.6 12.1h0m.2 12.9h0m-.8 8.5h0m.2 6.4h0m.3 30.9h0m-.2 3.9h0m0 8.3h0m-.5 8.1h0m0 4.5h0m-.4 11.7h0m1 12.9h0m-1 3.3h0m9.1-213.4h0m.1 4.4h0m.2 2.7h0m-.6 57h0m-.3 5.8h0m.3 4.2h0m-.2 10.7h0m.2 4.9h0m.6 8.8h0m-.1 2.5h0m-.1 5h0m-.3 23.6h0m.1 5.5h0m.5 10.8h0m-.4 6.2h0m-.8 9.5h0m.7 19.6h0m.1 5.9h0m.2 3.1h0m-.3 6.5h0m.1 8.3h0m-.1 9.6h0m5.6-217.7h0m1.5 2.2h0m-.2 2.7h0m-1.8 2.8h0m.3 2.7h0m1.7 2.1h0m-.3 15.6h0m-.7 6h0m.6 16h0m-.6 5.8h0m-.9 7.4h0m1.4 8.7h0m0 2.4h0m-1 14.3h0m-.1 2.5h0m.3 10.3h0m-.4 3.8h0m1.6 8.2h0m-.5 8.5h0m.4 3.9h0m-1.2 7.1h0m.8 7.3h0m-.9 7.5h0m1.3 10.5h0m-.9 7.1h0m-3.3 18.1h0m3.2 .6h0m.2 5.3h0m.1 3.2h0m-1.7 1.6h0m1.8 6h0m-.5 16h0m-2.3 .3h0m8.7-216h0m.9 2.7h0m-.9 4.1h0m-4.6 10h0m5.4 .8h0m-.9 44.4h0m-.1 15.9h0m-4.7 .2h0m.1 2.2h0m5.2 .7h0m-.8 67.4h0m.1 17.6h0m.1 16.4h0m-2.7 .3h0m3.7 17.4h0m-.8 16.5h0m4.7-214.3h0m-3.7 49h0m3.4 24.9h0m1.6 41.2h0m-1.2 14.8h0m-3.1 15.9h0m-.2 5.6h0m2 10.2h0m3.3 1.8h0m-1.6 4.9h0m-4.1 .6h0m4.2 19.5h0m-.7 3.2h0m0 6h0m-3.1 2.8h0m3.6 4.2h0m4.5-200.5h0m-1.4 133.4h0m.5 8.1h0m.3 10.2h0m9.2-126.6h0m-.8 43.1h0m1.2 5.3h0m-.3 12.5h0m.3 25h0m-1.2 98.3h0m3.2-208.5h0m1.1 15.2h0m.7 11.8h0m-1.5 2.3h0m.4 24.5h0m-.5 7.1h0m-.1 12.1h0m.3 41.9h0m3.8 10.9h0m-2.6 9.8h0m.8 6.3h0m-2.7 15.8h0m.1 7.8h0m1.7 6.2h0m-1 4.4h0m-.6 17.2h0m.7 10h0m-1.8 6.2h0m8.5-219.3h0m-.1 5.4h0m.1 2.3h0m0 13h0m.4 16.1h0m-1 16.8h0m.6 3.8h0m.6 2.2h0m-1 2.8h0m.5 4.7h0m-.2 4.4h0m.1 8.5h0m-.2 39.4h0m-.3 4.9h0m.9 3.1h0m-.9 8.4h0m.5 10h0m.2 21.6h0m2.5 10.7h0m-3.1 7.2h0m1 11h0m-.4 6.2h0m2.1 .3h0m-2.5 8.3h0m.1 7.7h0m8-213.6h0m-.3 7.4h0m-4.3 29.1h0m4.6 17.4h0m.4 21.4h0m-.6 12h0m.3 7.6h0m.6 13.4h0m-1 2.2h0m.4 35.9h0m-4.8 3.1h0m4.6 4.7h0m.3 5.5h0m-.7 2.3h0m.7 9.7h0m-.1 5.9h0m-.1 2.7h0m-.3 9.6h0m.2 12.8h0m.3 4.8h0m-.1 6.3h0m8-210.1h0m.8 127.1h0m-.4 49.5h0m10.2-181.1h0m.3 3.2h0m-3.9 1.1h0m1 11.8h0m.2 54.1h0m-.3 3.8h0m.1 2.1h0m-.4 42.5h0m.4 3.3h0m-.6 6h0m3.3 3.4h0m-2.3 .1h0m-.2 13.5h0m-.5 2.2h0m-.1 14.4h0m3.1 1.3h0m-2.3 1.7h0m-.6 5.9h0m2.8 27.1h0m-2.8 17.1h0m3.6-177.8h0m1.3 2.3h0m.7 39.1h0m-.8 79.4h0m.8 7.3h0m-2.1 15.8h0m1 6.2h0m6.9-182.4h0m.9 30.7h0m-.8 2.6h0m-.1 17.1h0m-.7 3.2h0m.3 8.4h0m.4 97.5h0m-.5 9.5h0m-.1 7.8h0m7.4-180.1h0m0 158.9h0m.4 3.8h0m8.1-124.8h0m-1.4 32.7h0m-.8 2.7h0m2.8 36.2h0m-.1 21.2h0m-2.7 .1h0m1.6 6.8h0m1.1 24.5h0m-2.1 14.4h0m.7 3.3h0m-.4 11.6h0m1.7 12.5h0m.4-198.7h0m.1 144.9h0"/><path d="M89.3 73.5h0m.8 4.2h0m.9 7.8h0m-3.2 41.3h0m2.2 17.2h0m-1.5 3.8h0m-.5 11.8h0m1.9 36.1h0m1.2 8h0m-1.5 5.7h0m2.3 10.4h0m-2.8 0h0m-.9 2.8h0m.3 2.2h0m2.8 9.7h0m-1.8 1.7h0m-1.4 1.7h0m2.3 13.3h0m-2.2 3.2h0m2.4 .4h0m-1.3 5.9h0m-1.2 10.3h0m2.7 .7h0m-.2 16h0m-2.4 1.3h0m5.8-216.6h0m2.6 1.3h0m1.2 40.2h0m-.9 106.3h0m-.1 15.9h0m-.4 35.4h0m.9 17h0m2.3-217.9h0m3.3 6.7h0m-2.7 78.7h0m0 3.4h0m0 28.5h0m2.9 9.5h0m-3.9 6.6h0m3.6 .3h0m-1.7 15.9h0m-1 2h0m-.5 13.8h0m1.3 16.8h0m-1.3 37.3h0m9-216.3h0m.3 2.9h0m-.6 41.1h0m2.4 85.9h0m-2 31.8h0m.1 10.8h0m-1.9 41.3h0m3.2 .4h0m3.7-214.9h0m2.6 3h0m-3.5 .7h0m.6 4.8h0m-.4 3.1h0m.7 4.4h0m0 64.3h0m-.6 29.3h0m.3 5.6h0m-.3 15.8h0m-1.1 17.4h0m1 6.5h0m-.4 7.8h0m.3 4.7h0m.4 6.2h0m.1 17.9h0m1.9 6.5h0m-3.7 10h0m.2 3.3h0m.8 3h0m7-210.2h0m3.1 .3h0m-.2 79.4h0m0 2.2h0m-1.7 38.8h0m-1 5.6h0m1.9 14.3h0m1 17.1h0m0 5.9h0m-2.7 22.9h0m2.7 1.7h0m-5.5 .4h0m9.7-197.8h0m-.7 5.1h0m-3.1 .4h0m3.7 2.8h0m.3 4h0m-.6 6h0m.6 72.6h0m-.6 45.4h0m.1 15.1h0m-3.6 .1h0m2.1 15.9h0m2.1 11.9h0m.1 6.6h0m-4.3 .3h0m4.1 17.5h0m-.2 16.4h0m3.1-215h0m.7 3.8h0m-.8 3.9h0m-.1 64h0m.3 2.5h0m0 41.2h0m0 15.9h0m-.2 15.8h0m-.1 23.2h0m.5 3.6h0m-.3 6.7h0m-.5 11.5h0m.6 6.1h0m6.4-17.1h0m2.5 .7h0m-2.2 6.6h0m.1 9.2h0m8.6-199h0m-.2 2.2h0m.1 71.7h0m.7 50.8h0m6.3 25.9h0m.1 7h0m4.1-156.5h0m-3.7 131.2h0m1.9 1.2h0m9.7-135.3h0m-.1 135.6h0m-.2 30.7h0m.5 27.1h0m-.1 13.9h0m-.4 10.4h0m6.3-212.9h0m-5.3 .7h0m.7 3.1h0m4.5 .4h0m-4.8 2.3h0m-.7 16.8h0m1.2 3h0m-.5 42.6h0m-.4 2.2h0m5.1 41.6h0m-.7 16.6h0m-3.6 6.4h0m.2 9.2h0m-.9 10.7h0m-.3 10.6h0m21.2-169h0m0 99.9h0m6.8-49.6h0m7.8 25.7h0m-5.2 106.2h0m6.3-176.3h0m2.5 3.1h0m1.6 174h0m-4 16h0m14.7-199.3h0m.2 5.2h0m0 12h0m.4 146.5h0m1.1 36.1h0m3.5-194.3h0m-.6 5.2h0m1.2 2.2h0m-.9 108.8h0m.1 60.8h0m-.1 5.4h0m6 11.8h0m-2 16.1h0m5.8-215.7h0m.8 4.3h0m-.2 169.6h0m10.8-122.7h0m-.6 72.3h0m.4 40.8h0m-1.4 51.8h0m24.7-211h0m-.2 127h0m.2 20.3h0m-.3 46.7h0m-.2 17.7h0m8.2-9.1h0m10.6-43.2h0m-.6 17.2h0m2-179.5h0m.3 201.4h0m8.7-200.9h0m0 4.4h0m-.8 5.9h0m-.2 3.4h0m4.7-18.8h0m.1 3.4h0m-.7 6.5h0m.1 3.2h0m1.5 3.7h0m.5 2.1h0m15-5.7h0m4-8.7h0m-3.1 4.1h0m1.1 7.1h0m7.3-13h0m-.8 2.8h0m.1 10.9h0m18-5.7h0m5.7-5.7h0m-1.6 1.6h0m25.3 .7h0m2.6 1.2h0m-3.4 4.2h0m-.3 4.5h0m3.2 2.4h0m3.3-11.4h0m-.2 158.6h0m-.8 18h0m13-175.7h0m44.9 101.8h0m-.5 8.3h0m-2.8 14.7h0m2.4 .5h0m-1.3 50.5h0m9.3-168.2h0m.3 3.3h0m-.5 146.6h0m.2 52.7h0m5.6-215.4h0m.4 4.3h0m-1.4 148.5h0m7.2-152.4h0m-5 179.9h0m8-49.2h0m2.3 .2h0m-1.8 66.3h0m10.5-194.7h0m.6 17.2h0m0 56h0m-.4 85h0m.6 44.2h0m5.5-201.7h0m8.9 212h0m3-186.8h0m-.2 43.4h0m4.6 58.4h0m-4.5 32.3h0m-1 18.9h0m3.1 31.9h0m-2.4 1.8h0m5.8-210.8h0m2.9 6.9h0m-1.1 40.7h0m-.2 4.4h0m0 79.7h0m0 10.2h0m.9 34.7h0m2.2 16.3h0m-5.2 3.5h0m10-202h0m-.5 4.1h0m-2.8 1.6h0m4.4 .2h0m.2 44.7h0m-4.6 25.5h0m-.3 16.3h0m3.9 59.8h0m-4.5 12.2h0m5.8 0h0m-3 .3h0m1.5 9.7h0m-4 7.6h0m4 6.3h0m.9 10.6h0m5.6-17.7h0m-2.9 1.1h0m1.4 16.4h0m-3.3 16.3h0m2.7 0h0m5.7-45.2h0m6.1-168.7h0m-.3 4.5h0m.7 8.4h0m-.5 25.1h0m0 10.4h0m.3 4.3h0m.2 20.4h0m.1 2.9h0m0 13.7h0m.2 24.1h0m-.4 3h0m.3 56.4h0m-.8 7.5h0m-.1 5h0m.8 11.7h0m-.2 17.4h0m7.8-213.8h0m.2 3.4h0m.2 62h0m-1 8.3h0m.9 31.3h0m-.6 24.2h0m.6 6.8h0m.3 7.3h0m-.3 2.2h0m-.2 14.6h0m.4 2.2h0m-.2 17.9h0m-.1 16.8h0m-2.1 7.6h0m2.2 9.4h0m6.6-217.5h0m-.5 4.7h0m.7 2.8h0m.1 2.3h0m.1 2.6h0m-1.8 22.6h0m1.2 39.4h0m.2 6.4h0m-1.4 9h0m1.4 1.8h0m-.6 10h0m.1 20.3h0m.4 4.8h0m-.3 6.5h0m.4 5.9h0m-1.1 9.7h0m.4 9.8h0m.4 6.7h0m-.3 17.5h0m.6 5.7h0m-.7 2.8h0m.1 3.2h0m.5 6.2h0m-2.6 15.4h0m2.4 1.5h0m5.8-214.3h0m.7 4.2h0m.2 44.2h0m-1.2 11h0m.5 14.4h0m-5.2 1h0m5.5 1.9h0m-.5 75.5h0m-.3 10.1h0m-2.9 16.3h0m3.6 1.6h0m-.3 17.6h0m-.2 16.9h0m5-101.1h0m.3 16.5h0m-.3 31.3h0m-3.6 5.5h0m3.7 .7h0m.2 38.3h0m12.5-133.2h0m.2 41.3h0m3.3-110.2h0m-.4 15.6h0m-.4 47.4h0m-.4 10.5h0m.7 41.3h0m4.3 28.2h0m-4.9 16.2h0m.3 6.3h0m0 12.2h0m.5 15.3h0m-.6 11h0m7.8-213.3h0m-.2 5.3h0m.3 3.1h0m-.2 11.3h0m.1 39.7h0m-.2 9.3h0m-.4 9.4h0m.8 2.7h0m-.5 36.7h0m1.6 9.7h0m-1.8 10.1h0m.2 7.8h0m0 22.5h0m.1 17.8h0m.1 8.9h0m.4 8.2h0m-1 6.6h0m2.4 10.1h0m6.1-213.8h0m-.2 7.8h0m.5 65.7h0m-.4 3.4h0m-.1 11.2h0m0 6.1h0m1 51.3h0m-.8 8.3h0m-.8 8.2h0m-4 10.1h0m4.7 1.2h0m-4.7 23.6h0m13.2-66.6h0m10.3-130h0m-2.4 3.1h0m2.8 34.6h0m-.3 91.8h0m-2.8 .3h0m.3 14.8h0m-2.5 .2h0m1.9 16.3h0m.1 7.4h0m2.7 11.6h0m-2.8 33.6h0m5.4-136.8h0m-1.2 54.6h0m1.1 32.5h0m-.6 15.1h0m0 6.3h0m6.4-132.9h0m14.4 16h0m0 4.8h0m1.3 130.1h0"/><path d="M88.3 73h0m2.3 .3h0m-.7 2.8h0m.7 2h0m-2.2 .3h0m3 7h0m-.7 58.6h0m-2.3 3.6h0m-.7 11.5h0m.8 36.6h0m.4 23.8h0m-.1 4.9h0m-.9 14.8h0m3.4 14h0m-3 1h0m2.1 5h0m1 12h0m-3 16.5h0m2.6 .3h0m6.6-84.7h0m-.1 34.1h0m-.6 34.8h0m-.2 15.2h0m.7 2.1h0m3-130.1h0m0 29h0m2.1 15.8h0m-2.6 15.6h0m.5 16.4h0m-1.3 51.5h0m9.1-214.5h0m1.4 214.6h0m-3 .4h0m5.4-216h0m.7 3.2h0m.1 2.3h0m.1 2.8h0m-.9 4.6h0m.3 118.8h0m-.3 18.4h0m-1 13.6h0m2.4 .4h0m-.4 3.5h0m-.2 6.1h0m.4 19.3h0m.2 17.1h0m-.4 5.9h0m6.7-210.7h0m2.8 162h0m.3 26.2h0m3.8-196.9h0m-3.5 3.4h0m3.6 .9h0m-3.6 1.5h0m3.7 1.3h0m-.3 5.7h0m.7 77.2h0m.1 45.3h0m-.5 14.2h0m-3.7 1.6h0m3.8 26.7h0m.6 7.4h0m-.4 17.1h0m-.1 17h0m2.9-211h0m.7 111h0m-1.2 17.1h0m.6 14.9h0m.1 26.5h0m.1 7.3h0m-.4 11.3h0m.3 5.9h0m14.7-197.7h0m8 131.1h0m4.2-129.9h0m7.9-.5h0m-.3 145.4h0m.2 69.2h0m1.5-212h0m-1.2 2.1h0m5.2 .7h0m-5.1 21.7h0m.5 41.1h0m4.8 61.9h0m-4.5 1h0m-.6 23.6h0m.5 6.3h0m29.8 18.3h0m10.4-172.9h0m-.3 173.3h0m10.1-164.6h0m1.6 145.8h0m4.7-158.3h0m-.4 4.6h0m.7 111.6h0m-.4 66h0m-.1 2.2h0m9.5-188h0m1.1 174.5h0m10-52.3h0m.3 40.5h0m-.3 52.2h0m23.2-211.2h0m.3 194.9h0m-1.3 16.4h0m21-213.9h0m8 1.4h0m-.3 3.1h0m.5 4.6h0m.5 3.1h0m-.6 3.4h0m4.1-18.8h0m1.2 13.5h0m-.6 3.7h0m16.8-11h0m1.1 6.6h0m.3 2.7h0m6.8-1.4h0m18.7-5.9h0m4.7-4.4h0m24.4 2.8h0m-1.5 10h0m6.9 148.9h0m64 .1h0m-.4 52.1h0m25.8-140.4h0m.3 2.7h0m.3 85h0m-.3 42.7h0m16.3-25.3h0m1.3-109.1h0m2.8 59.3h0m-3.3 32.4h0m2.3 .1h0m-2.9 51.5h0m2.8 .4h0m4-209.8h0m4.9 6.6h0m-3.3 42.8h0m.5 83.2h0m-.4 8.6h0m3.3 17.5h0m-2.8 18.1h0m7.4-178.6h0m-3.9 2h0m5.2 .2h0m-5.3 156h0m2.8 2h0m1.9 1.8h0m-5 15h0m1.2 2h0m2.8 14.7h0m-3.1 1.1h0m19.6-197.9h0m.4 89.9h0m-.9 24.8h0m1.2 59h0m-.7 9.2h0m.5 14.2h0m-2.1 17h0m2.2 .1h0m7.5-213.5h0m-.2 65.2h0m0 65.4h0m.2 5h0m.5 45.6h0m-.6 15h0m6-200.6h0m.4 3.3h0m-.1 3.9h0m-.3 29.1h0m-.2 66.2h0m-.3 24.2h0m1.1 7h0m.2 2.3h0m-.2 13.6h0m-2.7 0h0m1.9 16.6h0m1 18.1h0m.1 18.1h0m.3 15.7h0m5.4-215.2h0m-.1 5.6h0m-4.8 2.9h0m-.1 68.1h0m-.1 2.5h0m5.7 84.4h0m.1 4.8h0m-.1 30.4h0m4.1-83h0m-.5 16.1h0m.1 32.3h0m12.7-48.9h0m3.4 4.8h0m-.8 89.3h0m8-211.2h0m.2 4.2h0m-.2 3h0m-.3 12h0m.6 49.7h0m-.6 7.2h0m.2 39.7h0m-.3 10h0m.2 40.4h0m0 15.2h0m.4 13.1h0m.4 6.2h0m7.4-197h0m-.6 6.5h0m-.2 66.9h0m.3 15.3h0m1 58.4h0m16.4-144h0m-.9 127.1h0m.5 14.9h0m-.6 24.5h0m5.2-92.8h0m.4 103.1h0m-1.6 6.3h0m20.6-116h0m2.6 133.4h0"/><path d="M90.1 72.3h0m-1.9 1.9h0m1.2 3.5h0m-.1 71.3h0m-1.7 74.7h0m1.8 1.5h0m-1.2 28.1h0m.5 2.3h0m-1.1 32.2h0m10-51.1h0m-1.6 50.4h0m6.9-82.9h0m-3.4 16.1h0m1 16.5h0m6.8-162.8h0m1.3 214.1h0m4.7-215.4h0m.3 3.3h0m.3 5.6h0m-1.1 3.3h0m.1 118.7h0m.3 32.3h0m.1 52.1h0m9.2-216.3h0m.2 2.6h0m-3.1 4.9h0m7.6-9.5h0m-.3 3.9h0m-.6 7.1h0m.6 78.9h0m.5 44.6h0m-.2 15.2h0m-.1 34.4h0m-.2 17.8h0m.4 16.3h0m2.7-210.9h0m-.6 142.5h0m.8 36h0m.2 15.4h0m34.1-35h0m1.8-158.8h0m-.5 66.2h0m4.6 61.3h0m-4.4 .2h0m-.2 24.4h0m55.8-151.6h0m-.1 182.1h0m10.2-186h0m11.2 161.8h0m0 53.1h0m22.6-.8h0m18.8-214.1h0m9.6 .4h0m.1 2.2h0m0 11.9h0m5.2-18.4h0m-1.6 2h0m2.2 12.7h0m-.9 3.9h0m15.5-10.9h0m2.1 1.2h0m123.1 209.8h0m27.1-140.6h0m16 106.9h0m6.1-177h0m-3 208.6h0m-2.6 1.4h0m8.1-210.2h0m.2 132.9h0m-.1 8.9h0m3.3 16.9h0m5.6-158.5h0m-5.1 .7h0m3.9 158.7h0m-4 16.5h0m20.2-179.6h0m-.1 89.1h0m.5 24.9h0m.5 59.8h0m-.8 24.4h0m-.3 15.8h0m8.7-214h0m0 129.7h0m.4 50.2h0m.1 16.8h0m5.1-198.2h0m.7 4.2h0m-.4 29h0m1.3 42.7h0m-1.4 3h0m-.3 20.2h0m.9 31.3h0m.4 15.1h0m-3 1.5h0m2.8 16.8h0m.4 18h0m0 17.2h0m4.8-198.4h0m1 3.4h0m-5.5 4.3h0m4.6 155.5h0m1.2 34.4h0m-5.5 17h0m9.9-83.2h0m-.7 31.4h0m-3.2 4.5h0m26.7-167.9h0m0 5.2h0m.2 158.4h0m-.8 28.9h0m7.3-184.5h0m.8 138.9h0m15.9-142h0"/><path d="M90.3 73.7h0m-2.5 .5h0m.7 2.3h0m2.2 .4h0m-1.1 176.8h0m-1.9 34h0m9.1-52.2h0m.6 52.2h0m5.6-82.9h0m5.7 83.3h0m3.8-216.1h0m.1 3.7h0m1.2 9.2h0m-1.8 202h0m2.6 .7h0m7.8-213.8h0m-2.5 4h0m6.4-4.2h0m.4 7.1h0m-.1 138.6h0m.6 34.7h0m-.8 16.7h0m3.8-193.6h0m.3 143h0m-.4 33.6h0m.5 17.5h0m33.9-35.2h0m1.1-158.7h0m56.3-.5h0m10.2-2.9h0m33.5 213.8h0m28.7-212.8h0m-.2 13.2h0m5.2-.3h0m166.9 60.7h0m16.8 106h0m.8 32.3h0m7.1-207.9h0m.9 140.9h0m7.7 16.4h0m15.9-163.5h0m.8 91.3h0m-.4 24.1h0m1.9 58.6h0m-3 0h0m8.8-173.9h0m.2 131.3h0m-.1 49.9h0m6.8-179.1h0m0 3.4h0m-1.1 72.8h0m1.1 53h0m.2 15.8h0m0 16.3h0m-1.5 17.8h0m1.2 33.7h0m6.6-213.9h0m-5.6 180.7h0m9.4-17.9h0m23.7-.4h0m23-160.4h0m.1 2.4h0"/><path d="M87.6 73h0m2.7 .7h0m-1.1 4.1h0m1.1 176.2h0m22.4-182.1h0m.7 4.4h0m-1.3 210.5h0m8.4-209.1h0m3-3.5h0m3.8 .3h0m-.1 180.3h0m3.1-.7h0m35.4-175.8h0m56.6-1.8h0m9.8-2.8h0m61.5 2h0m.8 10.7h0m-.2 2.7h0m4.9-3.5h0m-.3 2.4h0m184.1 166.3h0m1.3 34.6h0m31.7-215.3h0m.5 173.2h0m6.8-174.3h0m7.5 5.3h0m-1.3 71.3h0m1.5 54.2h0m-.5 33.1h0m-.6 17.3h0m1.2 34.5h0m56.7-210.3h0"/><path d="M89 72.6h0m1.3 3.3h0m-1 177.7h0m23.3-176.9h0m10-3.9h0m.3 2.8h0m4.5 178.5h0m167.5-165.7h0m229.1-15.7h0m6.8 131.8h0m-.4 30.3h0m-.4 2.2h0m.7 51h0"/><path d="M88.7 72.5h0m1.5 5.4h0m22.6-.5h0m9.5-4.1h0m172.7 14.5h0m235.7 116.3h0m-1.2 30.5h0m1 52.7h0"/><path d="M88.7 72.5h0m23.5 3.9h0m181.3 12.3h0m236 115.2h0m1.1 32.4h0"/><path d="M90.1 72.6h0m22.7 5.2h0m180.4 10.7h0m236.6 115h0m.9 32.1h0"/><path d="M88.4 72.6h0m205.9 16.5h0m234.9 114.6h0"/><path d="M89.8 72.5h0m204.1 14.6h0m236.2 115.7h0"/><path d="M530.4 204.6h0"/><path d="M530 204.1h0"/></g><path class="ln" d="M98.3 189.2 L99.5 188.1 L100.6 187.6 L101.8 187.7 L102.8 186.6 L103.7 184.7 L105.0 182.4 L106.2 182.7 L107.5 181.2 L108.7 179.8 L109.7 176.3 L110.7 175.3 L111.7 175.7 L112.7 174.8 L113.7 176.4 L114.7 177.8 L116.0 179.5 L117.2 179.8 L118.2 179.3 L119.2 179.3 L120.2 179.8 L121.1 179.8 L122.6 175.8 L124.1 174.9 L125.6 174.3 L127.0 174.0 L128.4 174.5 L129.4 173.6 L130.3 172.6 L131.9 172.5 L133.4 173.7 L135.0 174.5 L136.4 172.5 L137.8 169.8 L139.2 169.8 L140.6 169.6 L141.9 171.0 L143.3 169.8 L144.9 171.4 L146.4 172.6 L148.0 174.5 L149.2 172.7 L150.5 170.5 L151.7 168.9 L153.3 168.4 L154.8 168.1 L156.4 168.0 L157.8 169.8 L159.2 169.4 L160.6 170.1 L162.0 170.7 L163.5 170.9 L165.0 171.4 L166.4 170.0 L167.9 169.6 L169.4 169.8 L170.9 170.8 L172.4 168.3 L173.9 168.5 L175.4 168.7 L176.9 168.0 L178.3 170.2 L179.7 169.3 L181.1 169.4 L182.5 171.7 L183.4 178.2 L184.6 178.6 L185.9 177.9 L187.1 178.2 L188.6 175.6 L190.0 173.5 L191.3 174.1 L192.6 174.3 L193.8 174.7 L195.1 174.9 L196.5 174.7 L198.0 175.6 L199.4 174.9 L200.7 172.7 L202.0 168.9 L203.2 170.2 L204.5 171.5 L205.8 172.5 L207.1 174.0 L208.2 173.0 L209.4 171.5 L210.5 169.8 L211.6 168.9 L212.8 168.9 L213.9 168.9 L215.0 169.2 L216.2 168.3 L217.3 168.1 L218.6 172.6 L219.9 177.5 L221.3 179.0 L222.8 180.3 L224.2 181.7 L225.4 184.7 L226.7 187.7 L227.6 182.8 L228.4 180.0 L229.5 180.4 L230.7 179.0 L231.8 178.3 L233.0 178.7 L234.1 180.6 L235.3 180.9 L236.6 177.2 L237.8 173.2 L238.9 170.4 L240.1 168.1 L241.2 164.7 L242.5 166.8 L243.8 166.4 L245.2 167.3 L246.7 168.4 L248.1 168.1 L249.2 169.9 L250.4 168.7 L251.5 169.8 L252.8 167.8 L254.0 166.4 L255.4 166.8 L256.9 165.5 L258.3 166.4 L259.6 162.8 L260.9 159.5 L262.1 158.5 L263.4 156.1 L264.7 158.0 L266.0 158.7 L267.3 159.9 L268.6 160.4 L269.9 158.9 L271.1 159.5 L272.4 167.2 L273.7 172.3 L275.0 171.4 L276.3 169.8 L277.4 171.6 L278.6 172.9 L279.7 174.0 L280.5 166.7 L281.4 161.2 L282.2 155.3 L283.1 151.0 L284.4 147.8 L285.6 145.9 L286.6 144.8 L287.6 141.6 L288.9 139.4 L290.1 138.2 L291.2 137.8 L292.4 137.5 L293.5 137.3 L294.7 137.3 L295.8 137.0 L297.0 136.5 L298.2 134.5 L299.5 132.2 L301.0 131.5 L302.5 130.5 L304.0 132.3 L305.5 132.2 L306.9 132.2 L308.2 132.5 L309.6 131.6 L310.9 131.1 L312.3 131.3 L313.4 131.5 L314.6 130.4 L315.7 131.3 L316.6 129.5 L317.5 128.8 L318.8 129.9 L320.0 132.2 L320.9 132.8 L321.7 133.0 L322.5 131.2 L323.4 127.1 L324.2 127.9 L325.1 127.9 L326.7 128.5 L328.2 128.0 L329.8 128.1 L331.4 127.7 L332.9 127.7 L334.5 127.9 L335.9 127.1 L337.4 128.4 L338.8 129.6 L339.6 131.0 L340.5 133.9 L341.4 141.6 L342.5 142.3 L343.7 142.5 L344.8 142.4 L345.6 144.8 L346.5 145.9 L347.9 147.0 L349.4 146.3 L350.8 146.7 L351.6 148.1 L352.5 148.4 L353.3 153.6 L354.7 154.7 L356.1 153.6 L357.4 154.2 L358.8 153.5 L360.2 153.6 L361.5 152.9 L362.8 154.1 L364.0 153.7 L365.3 154.4 L366.4 154.8 L367.6 154.7 L368.7 155.3 L369.9 157.6 L371.2 159.5 L372.1 159.6 L373.0 162.1 L374.1 164.4 L375.3 165.1 L376.4 165.5 L377.5 165.0 L378.7 164.5 L379.8 164.7 L381.1 165.6 L382.4 166.4 L383.6 165.5 L384.9 163.8 L386.2 164.5 L387.5 164.7 L388.4 167.6 L389.3 170.1 L390.1 171.2 L391.0 174.4 L392.4 173.8 L393.7 175.1 L395.1 174.5 L396.4 173.6 L397.8 174.4 L398.9 174.5 L400.1 174.7 L401.2 176.1 L402.5 176.4 L403.8 177.8 L405.1 177.2 L406.3 175.3 L407.6 176.0 L408.9 177.0 L410.4 177.4 L412.0 176.7 L413.5 175.6 L415.1 175.9 L416.6 176.1 L417.9 179.1 L419.2 179.5 L420.6 179.9 L422.0 180.6 L423.4 182.1 L424.5 181.7 L425.7 179.9 L426.8 178.7 L428.0 179.5 L429.1 181.2 L430.3 181.2 L431.7 178.8 L433.1 178.6 L434.5 177.0 L435.6 177.2 L436.8 177.9 L437.9 179.5 L439.1 179.6 L440.2 181.3 L441.4 181.2 L442.6 183.3 L443.9 185.5 L445.4 184.3 L446.9 184.5 L448.4 185.8 L449.9 184.7 L451.0 185.5 L452.2 184.6 L453.3 185.5 L454.6 187.3 L455.9 186.4 L457.0 185.6 L458.2 184.6 L459.3 184.7 L460.8 185.0 L462.3 186.1 L463.8 186.9 L465.3 186.4 L466.1 184.4 L467.0 181.2 L468.1 180.7 L469.3 180.4 L470.4 180.4 L471.7 180.0 L473.0 181.2 L474.2 180.3 L475.5 179.5 L476.6 178.9 L477.8 179.1 L478.9 178.7 L479.8 174.5 L480.6 171.8 L481.8 169.8 L482.9 167.9 L484.1 166.7 L485.4 164.8 L486.6 164.2 L487.8 163.1 L489.0 163.3 L490.4 163.4 L491.7 164.0 L493.1 165.3 L494.4 166.7 L495.8 167.4 L497.1 168.4 L498.4 168.3 L499.8 170.0 L501.1 170.4 L502.5 171.6 L503.8 173.2 L505.2 173.4 L506.5 174.3 L507.9 175.3 L509.2 176.4 L510.6 177.0 L511.9 178.5 L513.3 179.5 L514.8 181.3 L516.3 182.5 L517.3 182.1 L518.3 181.5 L519.3 178.3 L520.3 175.4 L521.6 174.7 L522.8 173.5 L524.1 172.5 L525.4 171.4 L526.9 169.4 L528.4 168.4 L529.7 167.1 L531.1 165.1 L532.4 164.3 L533.8 162.8 L535.1 162.4 L536.5 161.3 L538.0 163.0 L539.5 162.3 L541.0 163.4 L542.5 163.3 L544.0 164.8 L545.6 166.3 L546.9 166.5 L548.3 167.5 L549.6 167.3 L550.9 168.4 L552.3 168.7 L553.6 168.4 L555.0 167.3 L556.3 166.4 L557.7 165.3 L559.0 164.1 L560.4 163.1 L561.7 162.3 L563.0 161.5 L564.4 161.5 L565.7 161.3 L567.1 160.8 L568.4 162.0 L569.8 163.3 L571.1 165.9 L572.5 167.5 L573.8 170.4 L575.2 171.4 L576.5 171.0 L577.9 172.4 L579.2 171.5 L580.6 171.3 L581.9 170.4 L583.2 169.5 L584.5 169.8 L585.8 169.9 L587.0 170.8 L588.0 174.2 L589.0 174.8 L590.0 176.4 L591.0 178.8 L592.4 181.7 L593.6 181.8 L594.9 182.7 L595.9 185.7 L597.4 183.7 L598.6 184.1 L599.9 185.2"/><rect x="291.2" y="66.6" width="79.2" height="225.1" fill="rgb(193,193,193)" fill-opacity=".5"/><path class="red" d="M88 152.4H617.3M88 192.5H617.3"/><rect class="bd" x="62.5" y="55.6" width="579.5" height="247" /><path class="tk" d="M57 78.0H62.5M57 129.3H62.5M57 180.6H62.5M57 231.9H62.5M57 283.2H62.5M87.8 302.6V308.2M170.9 302.6V308.2M253.9 302.6V308.2M337.0 302.6V308.2M420.0 302.6V308.2M503.1 302.6V308.2M586.2 302.6V308.2"/><text class="tl" x="51.2" y="83.8" text-anchor="end">0.5</text><text class="tl" x="51.2" y="135.0" text-anchor="end">0.4</text><text class="tl" x="51.2" y="186.4" text-anchor="end">0.3</text><text class="tl" x="51.2" y="237.7" text-anchor="end">0.2</text><text class="tl" x="51.2" y="289.0" text-anchor="end">0.1</text><text class="tl" x="87.8" y="324.7" text-anchor="middle">0</text><text class="tl" x="170.9" y="324.7" text-anchor="middle">2</text><text class="tl" x="253.9" y="324.7" text-anchor="middle">4</text><text class="tl" x="337.0" y="324.7" text-anchor="middle">6</text><text class="tl" x="420.0" y="324.7" text-anchor="middle">8</text><text class="tl" x="503.1" y="324.7" text-anchor="middle">10</text><text class="tl" x="586.2" y="324.7" text-anchor="middle">12</text><text class="pi" transform="translate(18.4 179.8) rotate(-90)" text-anchor="middle">π</text><g class="d"><path d="M89.4 407.8h0m.6 3.8h0m-1.2 2.8h0m1.8 1.6h0m1.2 2.1h0m-2.3 1.1h0m2.3 1.7h0m-2.1 .7h0m-.4 2.6h0m2 1h0m-2.6 2.1h0m3.1 1.6h0m-2.3 1.1h0m-.1 2.9h0m1.9 2.5h0m-2.1 1h0m2.4 1.7h0m-2.6 6.9h0m.4 4h0m.6 4.5h0m-2.1 1h0m1.6 1.8h0m1.9 4.9h0m-3.1 4.7h0m3.2 3.3h0m-.9 4h0m-2.8 .4h0m1.4 1.9h0m2 1.4h0m-2.7 1.2h0m1.8 2h0m-2.5 1.9h0m3.2 .1h0m-3 2.9h0m3 .6h0m.4 3.1h0m-2.6 0h0m2.6 2.1h0m-3.4 2.8h0m2.9 2.6h0m-.2 2.7h0m-2.2 .3h0m-.7 3.6h0m3.8 3.6h0m-2.6 .6h0m-.6 4.1h0m3 .3h0m-1.5 3.9h0m-1.9 2.5h0m2 2.4h0m.8 4h0m-2.9 .3h0m3.7 2.9h0m-3.3 .2h0m2.3 2.3h0m-.3 4.9h0m-2.4 .2h0m1.1 6.8h0m2.6 .6h0m-3.8 1.9h0m2 2.5h0m-1.8 2.6h0m3.1 .8h0m-.8 4.9h0m-2.8 .2h0m.5 3.5h0m2.2 .2h0m2.4 .1h0m-.9 2.1h0m-3 .9h0m-1 2.6h0m1.5 2.7h0m2.1 1h0m-3.9 .5h0m1.8 1.8h0m.6 4.8h0m-1.6 1.7h0m3 2.7h0m-2.9 2h0m1 3.6h0m3.1 4.2h0m-2.3 .2h0m1.4 2.5h0m-2.9 1.8h0m1.6 2.1h0m-2.3 .5h0m0 3.2h0m.8 2.2h0m2.7 1.4h0m-3.4 2.7h0m.3 4h0m3.5 0h0m-1.2 2.2h0m-.6 4.7h0m-2.5 .2h0m4.4 1.6h0m-3.4 1.9h0m0 3.2h0m2.1 2h0m-2.3 .6h0m8.9-219.3h0m-2.9 2.3h0m2.4 2.2h0m-2.8 .5h0m3.1 2.3h0m-2.8 .1h0m2.9 2.9h0m-.4 2.8h0m-2.8 2.8h0m2.7 1.2h0m.5 3.7h0m.1 4.6h0m-3.1 2.6h0m3 1.7h0m0 2.8h0m0 2.6h0m-.1 2.7h0m-.6 3.3h0m.7 4.1h0m-.3 3.1h0m-2.7 .9h0m2.7 1.3h0m-2.7 1.9h0m3.2 1.6h0m-.7 4.1h0m-.2 2.2h0m-1.9 1.3h0m3 .6h0m-.9 2.2h0m.8 2.5h0m-3.3 .2h0m3.2 3.3h0m-3.5 .1h0m3.6 5.2h0m-.7 3.4h0m.2 2.4h0m-2.7 1.1h0m.4 2.8h0m2.7 9.6h0m-.3 6.4h0m.8 6.6h0m-3.8 1.1h0m.1 7h0m3.2 .4h0m-3.4 2.9h0m3.4 .1h0m-2.7 4.6h0m2.2 .4h0m.7 3.2h0m-3.6 9.1h0m2.9 .4h0m.2 4.8h0m-2.7 .7h0m2.6 6.3h0m0 2.3h0m.6 4.7h0m-2.2 .2h0m-1.7 2.6h0m3.2 .4h0m-2.7 1.7h0m1.8 7.3h0m-2.3 .3h0m.4 5.5h0m2.4 0h0m.8 2.8h0m-3.2 .4h0m3.1 5.4h0m-2.3 3.2h0m2.6 .2h0m-.6 6h0m-2.7 .1h0m.1 2.6h0m3 .4h0m-.5 7.5h0m0 4.7h0m-3 1.9h0m3.3 1.8h0m.1 2.5h0m-2.4 2h0m2.1 3.3h0m-3.7 1.4h0m3.5 1.8h0m5.9-221.6h0m-.1 3.3h0m-2.3 0h0m-.4 2.4h0m.6 3.1h0m3 1.4h0m-2.8 1.4h0m2.6 .8h0m-2.8 3.3h0m.1 2.7h0m1.9 1.4h0m.4 8.1h0m-3.3 .3h0m3.5 4.3h0m-3 1.2h0m.3 2.6h0m2.8 .9h0m.6 3.9h0m-3.3 2.7h0m3.1 .2h0m-3.2 2.7h0m-.1 2.4h0m.4 2.5h0m2.3 2.1h0m-2.7 4.3h0m-.1 3.7h0m2.7 .4h0m-2.5 3.9h0m2.2 .4h0m-.1 3.9h0m-1.8 4.5h0m2.4 1.5h0m-2.3 2.3h0m2.4 3.8h0m-3.4 2h0m3.3 .5h0m-2.7 2h0m.6 12.3h0m-.2 2.6h0m2.5 1.4h0m-3.5 2.1h0m3.3 .1h0m.2 3.8h0m-3.1 .3h0m1.8 2.5h0m-1.3 4.1h0m.2 3.6h0m2.5 3.8h0m1.2 2.9h0m-4.6 5.8h0m2.9 2.7h0m-2.6 .6h0m-.1 3.6h0m-.8 2.2h0m3 1.3h0m-1.9 2.5h0m.2 4h0m2.3 1.3h0m-2.1 1.1h0m1.5 1.8h0m-2.1 .6h0m3 1.7h0m-3.4 2.9h0m3.1 2.4h0m-3.3 .1h0m.7 4.5h0m2.3 .1h0m-2.6 4h0m-.1 3.3h0m2.9 1.2h0m.6 3.6h0m-3.7 5h0m2.6 2.8h0m-2.2 .2h0m2.4 6.1h0m-2.5 .1h0m2.7 2.8h0m-2.2 0h0m-.6 4.4h0m2.8 3.1h0m-2.1 .7h0m-.7 4.1h0m3 3.5h0m-.3 2.3h0m-3 .2h0m3.2 2.3h0m-2.6 3.6h0m-.2 2.4h0m8.8-216.6h0m-2.7 3.1h0m2.8 .1h0m.1 2.3h0m-2.2 1h0m2.3 5.3h0m-2.3 5.5h0m2.6 2.4h0m-2.3 .1h0m2.1 2.6h0m-2.5 1h0m-.3 2.6h0m2.1 .6h0m.8 5.8h0m-2.3 1.3h0m1.8 1.4h0m-2 1.4h0m-.5 4.2h0m2.4 3.9h0m-2.1 7.9h0m3 8.6h0m-.5 8.6h0m.2 2.2h0m-2.6 .9h0m-.2 2.8h0m.1 4.8h0m2.4 1.8h0m-.2 4.8h0m.6 2.3h0m-.4 3.2h0m.3 2.3h0m-2.9 1.3h0m.1 9.7h0m2.6 3h0m-2.4 .8h0m.4 3.8h0m-.9 4.3h0m2.8 2h0m-2.4 2.8h0m2.4 .5h0m-2.2 6.8h0m2.3 1.3h0m-2.9 4.8h0m2.7 1.8h0m2 1.8h0m-4 .4h0m-.6 6.5h0m2.4 .1h0m.4 3.7h0m-2.2 .9h0m2.2 4.6h0m-2 1.1h0m1.9 5.3h0m-2.4 .8h0m.5 3.4h0m2.9 .1h0m-1.3 1.8h0m-1.5 4.3h0m3.9 .2h0m-4.6 4.5h0m2.3 1.7h0m1.5 2h0m-3.8 1.5h0m2.6 2.7h0m-3.7 .4h0m1 5.5h0m-.3 2.9h0m3.1 .2h0m1.6 3.7h0m-4.3 .4h0m.7 6.4h0m1.6 3.4h0m.5 6.3h0m-2.5 .1h0m4 2.7h0m2.5-224.6h0m3.5 1.7h0m-3.4 .7h0m2.3 3.1h0m-3.4 1.1h0m3.5 1.6h0m-1.9 2.3h0m1.8 3h0m-1.9 2.5h0m2.9 1.5h0m-4.1 1.1h0m-.1 2.4h0m.3 3.7h0m0 3.2h0m2.2 1.5h0m-1.4 2.3h0m2.3 .1h0m-.2 2.6h0m-3.6 .3h0m3.8 2.3h0m-1.9 2.2h0m1.8 4.4h0m-3.5 .7h0m1.2 3.9h0m2.3 3.1h0m-2.5 1.5h0m3.4 1.8h0m-3.1 1.5h0m-1.3 2.4h0m4.1 .6h0m-.3 2.2h0m-3.1 1.1h0m0 2.4h0m3.2 .1h0m.2 3.8h0m-3.1 .3h0m.3 2.3h0m-.1 3.2h0m2.1 .9h0m-3.3 1.6h0m3.2 1.1h0m-2.6 1.1h0m-.8 4h0m2 3h0m1.4 3.4h0m-2.5 1.1h0m1.6 5.1h0m1.4 1.8h0m-3.2 2.3h0m2.8 3.1h0m-3.2 4.4h0m0 2.5h0m2.7 .1h0m-.1 3.4h0m-2.2 1.2h0m2.4 1.3h0m-2.5 2.2h0m2.8 .3h0m-2.3 1.9h0m3.9 2.1h0m-4.6 .9h0m4.2 1.3h0m-4.9 2.1h0m.8 3.5h0m3.1 .1h0m.6 8.2h0m-2.9 0h0m-1 4h0m4 .2h0m-2.6 2.9h0m-.8 4.6h0m3 3.9h0m-2.9 0h0m-1.3 1.8h0m4.5 2.5h0m-5.1 .3h0m2.5 .9h0m2.5 3.3h0m-3.4 .4h0m2.8 6.9h0m-2.6 .2h0m.3 4.8h0m.2 5.3h0m3.5 .5h0m-1.7 4.6h0m-1.8 1.3h0m-1 2.4h0m.5 4.1h0m2.3 1.2h0m-1.9 3h0m2.9 4h0m-3.3 3.4h0m3.1 .3h0m-3.2 3.2h0m.3 3.2h0m2.2 .7h0m-2.8 3.3h0m.1 2.4h0m2.9 .6h0m-2.4 2h0m3.3 .3h0m-1.2 1.9h0m-1.6 1.7h0m3.2 0h0m3.3-224.5h0m-1.4 7.2h0m3.9 .5h0m-.1 2.9h0m-2.5 .3h0m-.1 3.7h0m3 1.8h0m-2.3 3.5h0m2.1 .6h0m-3.4 1.9h0m1.3 2.4h0m-.5 2.2h0m2.5 .3h0m-1.9 2.2h0m-1.1 3h0m.7 3h0m2.4 4.1h0m-3.3 .2h0m3.6 2.3h0m-2.3 1.7h0m-.3 4.1h0m-1.5 1.8h0m1.7 1.5h0m1.7 8.7h0m-2 1.2h0m2 2.3h0m-2.1 1.3h0m2.6 1.2h0m-.7 3.1h0m-2.1 8.9h0m-.5 4h0m-.3 6.7h0m.3 7.9h0m3.1 .2h0m-3.1 2.7h0m3.1 3.3h0m-2 6.8h0m2.2 .7h0m-2.7 4.9h0m.2 2.6h0m.9 4.8h0m.4 2.2h0m-2.5 3.9h0m3.8 .9h0m-5 1.1h0m2.4 .3h0m-.8 6.9h0m3.2 9.7h0m-2.8 .1h0m0 5.2h0m2.6 1.3h0m-2.2 2h0m2.2 2.6h0m-2.1 .5h0m-1 5h0m2.5 .2h0m0 5h0m-2.5 .3h0m.7 2.1h0m2.6 .1h0m-5.6 2.6h0m2.8 .8h0m2.4 .2h0m-.1 4.6h0m.4 4.7h0m-4.3 .6h0m4.3 2.2h0m-3.8 .4h0m-1.4 2.5h0m2.6 .2h0m.4 3.7h0m.1 4.5h0m-.7 6.8h0m.4 5.7h0m-2.4 1.2h0m5.1 3.2h0m-.1 2.7h0m-3.2 .1h0m3 3.1h0m-3.7 0h0m8.1-218.8h0m0 2.9h0m-.2 4.1h0m.1 2.4h0m-3.1 .7h0m2.9 2.1h0m-.2 3.1h0m.8 3.6h0m-4 1h0m3.7 2.1h0m-.5 4.1h0m-3.1 2.7h0m3.9 1.6h0m.2 2.3h0m-.4 2.5h0m-.1 7.4h0m-3.6 .4h0m3.8 3.3h0m0 3.7h0m-.8 4.3h0m0 7.3h0m-.1 10.8h0m-3.1 2h0m3.8 .7h0m-.4 3.8h0m.7 2.3h0m-.4 10h0m-.5 5.8h0m.4 5.7h0m-3.4 1.7h0m3.5 4.4h0m0 4h0m-3.8 1.7h0m3.9 1h0m-3.4 3.1h0m3.3 .4h0m.1 4.9h0m.5 2.8h0m-.9 4.9h0m-2.6 2.5h0m2.7 1.4h0m-3.6 1h0m-.1 3h0m3.9 1.7h0m.5 4.2h0m-.2 3.4h0m-.2 2.3h0m-1.5 4.5h0m1.3 1.8h0m-2.9 1.9h0m2.7 1.4h0m-2.3 3.7h0m2.1 .1h0m.6 2.4h0m-2.4 .6h0m2.9 4.1h0m-.4 6h0m-.7 8.6h0m-2.9 6.4h0m4 1.7h0m-2.9 1h0m-1 6.4h0m3.2 .5h0m1.1 4.4h0m-4.4 1.6h0m2.7 .3h0m1.2 3.6h0m.3 2.7h0m-1.4 3.5h0m1.3 2.5h0m2.5-222.7h0m.2 4.5h0m-.3 2.2h0m.2 2.5h0m-.9 2.7h0m1.3 3.7h0m-.1 2.4h0m-.4 5.6h0m-.4 5.7h0m.9 5h0m-.9 3h0m1.1 9.6h0m-.1 2.1h0m-.9 2.1h0m1 6.8h0m-1.2 7.3h0m.3 3h0m.1 4.2h0m.1 4.6h0m-.5 2.4h0m.3 4.5h0m-.2 5h0m1.1 2.3h0m-1.5 1.6h0m.6 4h0m.1 3.9h0m0 3.5h0m0 2.7h0m-.1 4.1h0m.1 5.6h0m-.2 3.2h0m-.3 3.8h0m.5 6.2h0m2.3 .1h0m-2.7 3.8h0m2.2 2h0m-1.3 1.8h0m-1.2 6.8h0m1.1 2.6h0m-.5 5.7h0m1.8 3.3h0m-2.1 1.4h0m.3 2.2h0m-.3 2.3h0m0 5.6h0m3.6 2.1h0m-2.9 .9h0m4.2 8.7h0m-4.6 .1h0m2.2 1.3h0m.5 5.9h0m-2.9 .2h0m3.6 6.4h0m-3.1 .4h0m2.1 3.2h0m-2.7 1.2h0m.7 6.2h0m3.8 1.2h0m-3.6 5.8h0m3.6 0h0m-4.2 3.7h0m2.4 1.3h0m-2.4 4.7h0m6.9-221.8h0m1.4 6.9h0m-1.4 4.2h0m-.6 4h0m1.8 7.8h0m.3 4.2h0m0 2.3h0m-1.4 1.8h0m-.7 8.6h0m2.7 1.4h0m-.2 10.9h0m-1.9 1.6h0m.5 4.5h0m-.4 2.3h0m-.6 8.4h0m.3 9h0m.8 3.5h0m1 10.8h0m0 3.4h0m-1.6 3.1h0m-.2 7.3h0m-.4 5.9h0m2.6 2.8h0m-1.8 4h0m-.3 4.2h0m0 6.3h0m2.3 .9h0m-.1 7.6h0m-.7 5.5h0m.1 11.2h0m2.3 10h0m-2.6 5.8h0m-1.7 2.9h0m.3 3.4h0m2.1 .9h0m-1.4 2.9h0m-.2 4.7h0m1.4 3.4h0m-2.2 .1h0m.8 5.9h0m1.9 4.9h0m-2.2 .2h0m-.5 6h0m2.2 0h0m-1.4 6.7h0m.2 3.6h0m-.4 5.1h0m8.4-221.4h0m.5 4.1h0m0 3.4h0m-.4 8.2h0m0 8.3h0m.3 2.9h0m-.3 5.2h0m.1 5.3h0m.3 2.7h0m.1 4h0m.3 4.4h0m-1 3.7h0m-.1 2.4h0m.7 15.4h0m.3 2.2h0m-.4 5.9h0m-4.4 3h0m4.6 .2h0m-.9 3.1h0m.2 2.9h0m-.1 3.4h0m-.2 4.8h0m.9 9.1h0m.1 2.2h0m-.2 9.3h0m-.3 2.6h0m.4 2.4h0m-.1 2.4h0m-.2 3.2h0m-3.5 3.8h0m4.3 .6h0m-3.6 5.2h0m2.4 .2h0m-2.8 4.3h0m2.9 1.6h0m-2.9 1.6h0m2.9 1.3h0m.4 9h0m-3.9 2.3h0m3.9 1.4h0m0 2.4h0m-2.3 .3h0m2.4 4h0m-.1 6.1h0m1 4.6h0m-1.8 1.3h0m.1 18.4h0m0 8.3h0m.5 11.5h0m-2.5 .7h0m3.3 1.8h0m-3.2 1.9h0m1.9 5.6h0m7.5-217.6h0m-.4 6.3h0m.9 2.1h0m-4.4 .4h0m3.7 1.9h0m-3.4 1.3h0m4 2.7h0m-4.4 .9h0m4.1 4.6h0m-3.1 .2h0m-.2 4h0m3 .3h0m-.2 2.3h0m0 2.3h0m.6 7.6h0m-.4 3.6h0m-3.1 .6h0m3.2 3.8h0m-.4 2.6h0m1.1 4.9h0m-3.7 1.5h0m3.4 4.1h0m-3.7 2.6h0m.3 4.2h0m-.6 8.1h0m.5 2.4h0m3.2 1.1h0m.5 2.2h0m-.3 20.4h0m0 6.7h0m.1 2.8h0m.3 4.5h0m-3.9 2.7h0m0 3.1h0m3.7 4.6h0m-3.5 .3h0m3.1 8h0m.6 9.3h0m-.2 5.8h0m-3.6 4.7h0m2.9 11.9h0m-3.8 .1h0m.9 4.6h0m.3 2.7h0m3.1 2.6h0m-2.8 .3h0m-1.1 7.3h0m3.6 1.6h0m-.6 2.9h0m-3 .3h0m-.2 6.6h0m4.1 3.1h0m-.7 3.5h0m1 4h0m-4.3 1.4h0m4 2.7h0m-4.4 .5h0m1 6.8h0m3.6 1.8h0m4.3-219.5h0m-.2 2.9h0m.5 3.9h0m-2.4 .5h0m2.1 5.3h0m-2.1 1.5h0m2 2.4h0m.1 2.7h0m-3.8 1.4h0m1 4.7h0m2.9 3.7h0m-.2 7.7h0m-2.5 5h0m.5 16.4h0m1.7 7.3h0m.6 7.5h0m-2.5 1.7h0m2.6 .7h0m-.6 2h0m-1.9 1.7h0m2.8 .8h0m-3 12.2h0m1.9 2.8h0m.5 12.1h0m.4 8.1h0m-2.4 .3h0m-.1 3h0m2 1h0m-3.9 .1h0m4 3.4h0m-.1 3.7h0m.1 4.9h0m-3.7 0h0m4.1 4.7h0m0 3.9h0m-.3 14.3h0m-2.4 .4h0m.1 5.3h0m3 1.6h0m-3.1 4.6h0m2.4 .7h0m-2.4 4.2h0m2.5 2.3h0m-2.4 11h0m2.2 .5h0m-2.4 4.1h0m2.6 5.8h0m-4.1 .4h0m3.8 3.3h0m-.4 2.4h0m-2.6 .1h0m1.5 4.8h0m1.9 2.8h0m-.8 4.5h0m.7 5.1h0m3.1-221.8h0m4.4 7.5h0m-4.6 .6h0m-.1 3h0m4.8 0h0m-.5 2.2h0m-3.7 2.9h0m4 1h0m-4.6 6.1h0m4.8 3.4h0m-5.4 1.3h0m5.4 4h0m-4.8 1.6h0m4.7 4h0m-4.7 1.4h0m0 4.5h0m4.7 .5h0m-4.5 2h0m3.8 .4h0m-4 1.9h0m.1 6h0m4.5 1.7h0m-5.3 .7h0m5.4 3.2h0m-4.9 4.8h0m0 4h0m.1 2.3h0m4.8 2.4h0m-4 3h0m.1 3h0m4 2.2h0m-4.3 1.2h0m4.4 6.6h0m-4.9 1.1h0m4.4 3.6h0m-5 4h0m4.6 3.8h0m-4.2 3.4h0m4.6 5.2h0m-5.2 .3h0m1.3 3.3h0m4.3 .2h0m-.6 4.3h0m.5 5.6h0m-.1 6.2h0m-5.3 7.5h0m3.5 .7h0m-.4 3h0m-1.9 1.7h0m2.2 4.3h0m-2.8 12.7h0m4.8 3.3h0m-2.6 2.9h0m2.4 .2h0m-2.4 3h0m-2.1 .6h0m-.3 4h0m-.4 2.3h0m3.2 .8h0m-2.8 4h0m.2 12.8h0m2.5 .9h0m2.5 .1h0m-5.3 4.6h0m2.6 0h0m-2.3 2.2h0m-.1 3.2h0m4.7 .2h0m-4.6 6.9h0m-.3 4.7h0m.1 7.1h0m10.8-222.4h0m-4.3 3.5h0m3.5 5.5h0m-.5 3.4h0m1.7 4.1h0m-4.6 .9h0m-1.1 4.5h0m-.1 5.8h0m5.4 4.1h0m-5.4 1.8h0m5.7 .9h0m-4.7 3.7h0m4 .1h0m-5.2 9.4h0m0 4.1h0m5.4 .7h0m.4 3.4h0m-.7 5.7h0m-4.1 5.5h0m3.9 9h0m-4.4 .4h0m.3 5.4h0m5 1.2h0m-5.6 1h0m4.8 1.2h0m.5 2.4h0m.3 5h0m-4.7 3.1h0m4.5 .7h0m.3 4.6h0m-5.6 1.3h0m3.9 .7h0m-.2 2.8h0m-2.7 14h0m-.4 13.3h0m0 3.5h0m5 .6h0m-5.8 2.6h0m5.8 4.1h0m-5 2h0m5.1 .7h0m-4.9 3.2h0m-1.1 2h0m2 .7h0m3.9 4.2h0m-1 4h0m.3 2.1h0m-2.5 .1h0m2.3 5.9h0m-4.2 .5h0m-.7 3.6h0m2.9 .3h0m2.3 .1h0m-5.1 1.7h0m4.6 1.1h0m.6 2.6h0m-5.2 1.8h0m.1 6.2h0m.9 4.6h0m4.5 1.2h0m-2.1 .1h0m-2.6 3.3h0m2.8 1.3h0m1.5 2.5h0m-4.7 .7h0m1.7 3.2h0m2.7 .8h0m.6 3.4h0m-5.5 6.5h0m1 2.3h0m4.3 .2h0m-4.4 3.5h0m2.5 .6h0m2.8-223.5h0m3.9 8.2h0m-.1 2.5h0m-3.9 18.4h0m-.1 37.9h0m.2 2.9h0m4.9 68.9h0m-3.2 1.6h0m0 23h0m-.2 12.5h0m4.1 6h0m-3.6 6.4h0m-2.2 .1h0m0 9.4h0m1.7 5.7h0m-1.7 18.5h0m9.1-217.7h0m0 13.4h0m-.1 5.6h0m.5 14.4h0m-.4 20.8h0m.3 3.2h0m-.2 8.9h0m2.7 3.1h0m-3 10.4h0m2.9 2.5h0m-2.4 9h0m.2 19.4h0m-.3 2.5h0m.4 7.8h0m-2.2 4.7h0m2.9 .3h0m-.5 8.5h0m-.8 9.6h0m.4 7.6h0m-.1 2.6h0m.3 12.2h0m-.2 10.3h0m2.4 .3h0m-1.9 7.5h0m1.9-188.4h0m3.1 3.3h0m2 3.9h0m-2.2 0h0m2.6 2.7h0m-2.2 1.7h0m.5 4.9h0m.6 2.6h0m-1.4 4.1h0m0 8.8h0m-.1 2.8h0m2.4 1.1h0m-2.4 4.3h0m.2 3.3h0m2.2 2.6h0m-2.4 2.6h0m.6 7.7h0m1.6 2.9h0m-.2 9.2h0m-1.7 1.3h0m2 1.8h0m-4.8 3.8h0m2.6 2.8h0m2.2 0h0m-2.2 4.2h0m2.3 17h0m-2 1.1h0m1 6.8h0m.4 2.8h0m-1.6 11.1h0m-.2 5.6h0m2.1 3.9h0m-2.6 3.8h0m2.5 1.1h0m-.9 4.2h0m.1 5.5h0m1.3 8.7h0m-2.2 .5h0m-2.7 .2h0m4.9 3.6h0m-5.3 .1h0m5.2 3.4h0m-.1 7.9h0m-4.5 1.1h0m2.5 1.5h0m2.3 1h0m-2.1 4.9h0m-.1 10.2h0m2.1 .9h0m-.3 5.6h0m-.1 8.5h0m-1.6 2h0m.8 4.3h0m.6 2.8h0m-1 4.2h0m6.2-210.6h0m1.9 4.2h0m-2.1 1.5h0m.3 3.6h0m0 2.2h0m1.7 9.5h0m-1.7 33.4h0m-.4 13.9h0m.4 24.7h0m.3 10.9h0m.1 2.7h0m-.2 8.6h0m.1 2.2h0m-.9 7.3h0m.9 7.2h0m-3.6 2.1h0m2.5 4.4h0m-2.6 .1h0m2.6 10.5h0m.9 6.6h0m-.3 9.1h0m-2.7 .5h0m3.2 5.8h0m-4 .8h0m3.2 11.9h0m-2.4 8.9h0m2.5 .5h0m.9 3.4h0m-.4 2.7h0m-3.2 4.4h0m2.5 6.8h0m.2 4.9h0m-3.1 .1h0m5.7-220.4h0m.1 13.6h0m.7 4.7h0m-.1 3.3h0m3.8 0h0m.3 18.9h0m.1 11h0m-4.6 20.3h0m-.5 2.6h0m4.7 2.2h0m.4 2.6h0m-4.6 0h0m0 3.4h0m.6 3h0m-.1 2.9h0m3.8 13.1h0m-4.7 3.7h0m5.1 .6h0m-4.9 1.9h0m4.4 1.4h0m-4.7 7.2h0m.6 3.5h0m.1 2.2h0m3.5 .1h0m-3.9 2.5h0m4.4 .4h0m-4.1 3.6h0m.3 8.4h0m4.1 15.8h0m-.5 4.6h0m-3.4 12.5h0m-1 9.6h0m2.6 7.9h0m-2.1 1.3h0m-.2 5.7h0m.1 9.3h0m3.5 .8h0m2.9-203.2h0m.4 2.5h0m2.6 4.9h0m-2.8 .9h0m3.4 1.4h0m-3.3 2.5h0m4.1 .5h0m-2 1.6h0m-2.2 2h0m2.4 1.5h0m1.8 3.9h0m-3.9 .1h0m-1 3.3h0m4.8 .4h0m-2.3 1.9h0m-2.6 .2h0m3.1 2.7h0m-2.6 .8h0m2.6 3.2h0m.2 2.7h0m-2.8 8.6h0m2.8 4.4h0m-2.4 11.5h0m-.8 3.4h0m3.3 1.8h0m-.3 7h0m-2.2 1.5h0m2.5 6h0m-3.3 2.2h0m3 0h0m.8 4.1h0m-2.9 4h0m3.5 4h0m-1.5 4.9h0m-2.1 1.2h0m.2 9.9h0m-.4 4.1h0m.1 2.3h0m4.2 6.7h0m-4.4 .4h0m2.8 12.6h0m-2.3 .4h0m.2 13.8h0m-.3 3h0m2.4 7.5h0m-3.4 5.5h0m2.8 .1h0m2.4 2h0m-4.4 2.6h0m3.8 1h0m-3.4 1.3h0m1.6 3.1h0m1.2 5h0m-3.2 2.3h0m2.2 1.8h0m.3 3.4h0m-2.7 .6h0m3.7 1.9h0m-2.6 .1h0m-1.1 6.6h0m.1 3.1h0m3.3 2.2h0m.3 2.5h0m-.6 2.3h0m-3.3 .3h0m-.5 2.5h0m2.8 1.3h0m2.3 5.6h0m-3.7 .3h0m5.3-217.4h0m-.3 2.7h0m.7 3.5h0m.1 3.4h0m-.6 50.5h0m.3 4.7h0m-1.2 8.2h0m1.2 31.5h0m.1 14.5h0m.4 6.1h0m-1 8.9h0m3.5 15.6h0m-3.4 6.4h0m.2 9.4h0m.7 15.1h0m2.7 9.6h0m-3.5 10.7h0m.7 15.5h0m8.7-216.6h0m-.3 2.3h0m-.1 3.4h0m-3 .4h0m3.1 3.2h0m-2 2.1h0m1.4 3.9h0m-.6 4h0m.7 4.4h0m.2 2.4h0m-.2 3.5h0m1.5 3.8h0m-.5 3h0m-1.6 3.2h0m.3 3.9h0m1.1 5.5h0m0 3.1h0m0 15.5h0m-.1 5h0m-.3 2.7h0m-2.5 2.1h0m2.8 2.1h0m-.5 3.2h0m-.4 2.7h0m.5 4.8h0m-1.1 3.7h0m1.3 13.2h0m.1 4.2h0m-.7 4.1h0m-.1 3.3h0m.3 7.8h0m.3 4.9h0m-2.7 0h0m4.2 2.4h0m-3.8 .6h0m2.4 4.8h0m0 2.2h0m-2.8 .3h0m2.2 1.8h0m.6 5.4h0m-3.2 .9h0m3.8 10.5h0m-1.3 5.5h0m2.2 .4h0m-1.4 2h0m-.5 2.2h0m.7 2.7h0m-2.2 5.8h0m1.8 2.3h0m-.5 3.1h0m-2.2 6.3h0m2.1 4.8h0m-2.6 .1h0m5.1 5.7h0m-4.9 2.4h0m2.3 .2h0m.8 5.5h0m-2.2 .4h0m4.2 4.7h0m-1.1 2.3h0m4.2-218.1h0m-.8 3.6h0m.8 3h0m-.3 2.7h0m.4 2.3h0m-.3 3.4h0m0 2.8h0m-.1 2.6h0m0 4.3h0m.5 3.8h0m0 8.8h0m-.6 4.6h0m.1 11.7h0m-.1 2.8h0m-.1 2.5h0m.3 9.2h0m-.1 2.4h0m.6 3.9h0m.3 2.6h0m-1.4 6.3h0m.5 3h0m.5 11.5h0m-.5 11.8h0m.1 15h0m-2.2 0h0m2 2.6h0m.3 2.7h0m2.5 2.4h0m-2.6 .2h0m-.5 2.7h0m2.7 .4h0m-1.5 1.7h0m-1.2 14.8h0m.3 3.4h0m-2.3 2.4h0m2.5 2.3h0m.7 5.5h0m1.7 1.8h0m-2.6 1.1h0m-2.4 3.5h0m3.1 .3h0m-1.1 5.7h0m.5 4.8h0m2.8 .2h0m-2.7 2.2h0m-.8 3.3h0m1.1 3.5h0m-1 2.6h0m3.3 2.3h0m-2.1 5.9h0m-.4 4h0m.5 2.3h0m2.4 5.8h0m-3.5 .7h0m3.3 2.3h0m-2.3 .3h0m4.8-164.5h0m.8 19.4h0m-1 2.6h0m0 27.6h0m-.1 4h0m-.2 24.2h0m-.3 5.8h0m.7 12.4h0m2.3 4.9h0m-2.4 2.1h0m-.2 3.5h0m2.6 6.6h0m-3 10.7h0m.3 8.4h0m.7 9.8h0m-.9 5.8h0m2.6 1.3h0m-2.2 4.5h0m-.4 3.1h0m-.1 9.3h0m5.7-216.4h0m-.8 14.3h0m.8 6h0m.4 9.3h0m-.6 11.9h0m.4 28h0m-.2 18.3h0m.2 4h0m0 23.8h0m-.7 4.8h0m.4 3.5h0m-.3 9.2h0m4 5.7h0m-.1 9h0m-4 3.6h0m3.3 2h0m2.1 .8h0m-5 10h0m-.4 2.2h0m.5 3.1h0m2.5 3.8h0m-2.5 .3h0m2.8 13.8h0m-3 1.5h0m.4 7.3h0m-.3 3.2h0m3.3 1h0m-3.3 4.1h0m-.1 10.5h0m0 4.7h0m8.9-223h0m1.5 3.6h0m-2.1 3.6h0m2.5 .8h0m-5.6 1.1h0m3.4 1.3h0m-2.3 2.1h0m3.8 .9h0m.9 3.1h0m-.5 3h0m-1.9 1.2h0m-2.8 .9h0m4.9 3.5h0m-4.7 0h0m2.8 5.3h0m-.2 2.5h0m-.3 6h0m2.3 2.2h0m.1 2.6h0m-2.3 3.8h0m2.3 .4h0m-4.4 .9h0m-1 2.5h0m1.2 3.3h0m4.4 3.6h0m-.4 10.3h0m.6 5.6h0m-5.7 1.4h0m2.5 2.6h0m.2 2.7h0m.2 5.4h0m2.3 4.8h0m.2 17.3h0m-.2 3h0m-2.5 5.4h0m2.2 2.2h0m-2.5 .2h0m-1.5 4.9h0m2.4 3.9h0m-.2 4.7h0m-.4 2.7h0m-2.4 .4h0m2.6 5.1h0m-2.2 1.5h0m4.7 .3h0m-4.8 8.7h0m2.1 5.8h0m-.3 3.8h0m3.1 .3h0m0 4.5h0m-2.6 0h0m-2.2 4.6h0m2.3 1.7h0m.7 10.3h0m-.1 2.4h0m-3.5 .6h0m.5 5.3h0m2.5 2.5h0m0 3.2h0m.1 5.8h0m2.2 .2h0m-4.3 .5h0m-.7 2.3h0m2.6 4.2h0m-2.2 1.6h0m3.2 3h0m-3 0h0m2 4.6h0m-2.7 1.5h0m11.3-204.7h0m0 19.9h0m-5.8 26.7h0m-.1 4.5h0m5.4 14.6h0m.1 2.3h0m.2 15.1h0m-.6 12.7h0m0 4.9h0m.5 8.1h0m-5.4 3.6h0m5.7 .7h0m0 4.4h0m-5.8 2.5h0m5.5 1.1h0m.3 14.9h0m-.5 15.9h0m.4 10.8h0m0 7.2h0m-5.7 0h0m5.4 5.1h0m-5.4 1.6h0m2 10h0m-1.8 7.2h0m5.3 .3h0m-4.9 9.3h0m4.6 .2h0m1.2-219.5h0m4.1 3.2h0m.3 6h0m-4.7 47.8h0m-.2 11.3h0m4.2 13.1h0m-1.1 14.5h0m-3.1 .3h0m2.7 44.9h0m-2.7 53.5h0m5.3 8.3h0m-5 .2h0m4 13.2h0m3.5-216.4h0m-.2 2.4h0m.7 6.3h0m.1 19.8h0m-.4 13.8h0m.3 33.9h0m3 59.3h0m-3.8 1h0m.4 6.6h0m.8 6.6h0m2 20.2h0m-2.5 .4h0m-.2 20h0m-.3 12.5h0m.7 11h0m9.1-208.6h0m-.7 3.7h0m-.1 3.8h0m0 3.4h0m-.5 2.7h0m-2.8 1.9h0m3.5 .3h0m-.6 2.6h0m-2.6 2.6h0m2.5 1.7h0m-2.1 .7h0m-.1 8.8h0m2.5 4h0m-2.6 .4h0m2.9 1.9h0m-3.2 1.9h0m2.9 1.3h0m0 2.4h0m-3.5 .8h0m.6 3.4h0m2.9 .7h0m-2.6 1.7h0m2.9 1.3h0m-.4 8h0m-.1 3.1h0m-2.5 3h0m3.5 .8h0m-.8 3.1h0m-2.8 3.2h0m2.7 0h0m.4 4.9h0m-.2 11.2h0m-.1 5h0m-.1 2.7h0m-2 1.1h0m2.1 10.3h0m.6 6.4h0m-3.2 .7h0m-.2 2.5h0m2.1 .6h0m-2.4 3.1h0m2.9 .8h0m-2.5 8.1h0m2.6 .5h0m-3.2 6.7h0m3.9 2.5h0m-3.2 0h0m2.9 4h0m-2.4 1.4h0m3.1 .9h0m-1 8.9h0m-2 1.5h0m1.7 5.8h0m-2.9 2.5h0m3.7 2.8h0m-3.2 3.8h0m2.7 .7h0m.5 4.5h0m-3.6 2.6h0m3.5 .2h0m-.8 2.2h0m-2.4 .5h0m-.2 4.5h0m3.1 0h0m.4 3.8h0m-3.1 1.4h0m.2 6h0m2.5 3.4h0m-2.8 .1h0m3.7 3.6h0m-3.5 1h0m2.1 2.1h0m-2.6 2.9h0m3.8 2.7h0m-3.5 .7h0m9.9-214.7h0m-.4 2.3h0m.6 27h0m-.8 23.9h0m-.3 2.8h0m.9 14.7h0m-.6 27.6h0m.4 35h0m0 17.9h0m0 16.3h0m-4.3 1h0m4 4h0m-3.2 4.8h0m-.2 13.1h0m.2 14.9h0m-1.3 2.9h0m6.4-189h0m-.4 21.3h0m-.4 5.6h0m.1 2.7h0m4 22.1h0m-4.3 3.2h0m.9 21.4h0m3.6 7.7h0m-.4 2.6h0m-3.3 9h0m.5 16.6h0m.4 13.3h0m2.8 1.7h0m-3.2 .5h0m.7 3.6h0m2.2 .2h0m-2.8 11.2h0m2.6 7.5h0m-2.7 .3h0m3.3 3.3h0m-4 7.1h0m3.4 .1h0m-2.6 3.1h0m3 .7h0m-3.4 3.1h0m3.7 .1h0m-3.7 4.1h0m-.2 2.5h0m3.5 4.5h0m-3.5 .3h0m-.9 10.6h0m5.1 4h0m-4.6 1.1h0m6.6-220.6h0m.6 3.6h0m.9 2.5h0m-.1 2.6h0m2.3 15.4h0m0 3.5h0m-.7 2.1h0m.3 4.6h0m-2.1 4h0m.1 2.8h0m0 5.3h0m-.3 4.7h0m2.4 1.5h0m-2.1 4.1h0m-.3 2.9h0m2.3 0h0m-.2 14h0m.1 3h0m-2.5 .1h0m-.3 3.9h0m2.9 12h0m.7 12.1h0m-3.5 .3h0m2.4 6.8h0m-1.3 5.5h0m1.6 2.7h0m-2 1.7h0m0 3.1h0m-1.1 5.1h0m2.3 .5h0m-.6 16.4h0m2.6 .1h0m-2.5 5.8h0m-1.1 3.2h0m2.7 1.9h0m-2.4 2.7h0m2.2 .9h0m-2.7 5.9h0m.5 2.5h0m.3 4.1h0m-.3 13.5h0m2.7 .1h0m.4 5.2h0m-3.4 1.3h0m.5 3.7h0m2.5 .1h0m-2.8 5.5h0m2.2 1.4h0m-2.3 4h0m2.2 4.3h0m.8 7.1h0m-2.7 .3h0m-.3 2.5h0m6.2-220.9h0m-.3 3h0m2.4 2.4h0m-2.8 1.6h0m2.5 .9h0m-2.4 1.3h0m2.7 3h0m-3.9 3h0m4.1 2.9h0m-4.2 .9h0m4.2 1.7h0m-3 5.1h0m-.2 11.2h0m3.3 4.2h0m-4.1 11.8h0m0 2.6h0m1.9 3h0m2.1 1.2h0m-3.6 5.5h0m0 7.9h0m1.5 12.1h0m-.6 3.3h0m2.6 5h0m-3.2 2.3h0m-.2 12.6h0m0 2.7h0m3.4 2h0m.2 3.1h0m-4 2.6h0m1.7 12.1h0m2.1 3.7h0m-3.1 .5h0m3 9.2h0m-2.5 6.3h0m2.9 .4h0m-3.4 4.7h0m-.9 4.7h0m3.9 .2h0m-2.5 9.1h0m3.2 .2h0m-3.1 2.3h0m-.1 6.5h0m2.9 2.8h0m-2.7 7.4h0m3 2.1h0m-3.1 4.9h0m2.5 .2h0m.4 5.5h0m-4.4 3.3h0m4 3.6h0m-.7 7.4h0m-2.9 .1h0m3.7 2h0m-2.4 .4h0m7.3-220h0m-2.7 30h0m3.7 4.6h0m1.5 32.5h0m-2.6 19.6h0m2.5 1h0m-4.6 12.8h0m3.1 5.7h0m0 18.5h0m-.3 3.9h0m1.6 8h0m-1.7 7.1h0m1.7 4.3h0m-2.4 4.3h0m2.7 1.4h0m-.2 2.4h0m-4.9 .5h0m3.2 2.5h0m-3.6 1.9h0m5.2 4.8h0m-4.7 2.2h0m3.1 4h0m1.9 4.6h0m-.2 4.3h0m-1.9 3.6h0m1.6 4.1h0m-1.9 5.4h0m-.2 2.9h0m-1.9 6.4h0m2.8 1.8h0m-.2 4.8h0m.6 3.5h0m-4 1.1h0m.2 5.8h0m2.3 0h0m5-198.5h0m-1.4 24.8h0m-.7 4h0m2.5 14.8h0m-.2 12.8h0m-.6 11.9h0m.5 3.3h0m.5 3h0m-2.2 12.2h0m2.2 2.2h0m-.9 14.1h0m.7 11.5h0m-1.3 14.6h0m-.8 8.8h0m4.1 7.9h0m-4.4 1.3h0m.4 30.5h0m.7 12h0m.9 2.8h0m-2 3.6h0m0 4.5h0m17.9-158.1h0m-3.3 63.9h0m-.2 52.5h0m.4 4.7h0m8.6-170.9h0m-4.8 5.3h0m5.3 15h0m-5.2 3.6h0m2.4 1.4h0m.8 34.2h0m-2.8 15.4h0m1.3 14.2h0m-1.1 25.4h0m2.9 .2h0m-.3 33.6h0m-.5 6h0m-3.1 3.1h0m2.6 .1h0m1.5 1.7h0m-2.5 3.5h0m3.4 2.9h0m-3.2 2.3h0m1.1 3.6h0m2 1.3h0m-2.5 2h0m-2.4 .4h0m2.7 5.1h0m-2.4 1h0m3.8 5.5h0m-3.1 2.4h0m2.2 6.6h0m.7 6.5h0m-3.4 1.3h0m4.9 3.4h0m-2.5 1.9h0m3-198.4h0m1.6 55h0m1.4 57h0m.8 4.5h0m-1 20.8h0m-1.2 7.9h0m-.1 9.4h0m1.2 2.7h0m-.1 6h0m-1.1 11.2h0m1.1 5.6h0m1 3.3h0m-2.5 15.7h0m18-187.4h0m1.9 64h0m.9 5.8h0m.8 55.7h0m-1.5 4.7h0m.4 8.1h0m.6 2.2h0m-.1 3.5h0m-.1 3.5h0m-1.1 3.2h0m.1 11.9h0m.7 14.5h0m-.4 3.3h0m1.2 3.8h0m2.2-221.6h0m-.8 60.8h0m1 28.7h0m3.1 4.6h0m-1.2 63.4h0m.9 8.6h0m.8 9.4h0m.1 16.8h0m-1.3 17.8h0m-.1 10h0m3.7-221.9h0m2.9 199.2h0m.2 3h0m1.9 7.1h0m8-202.8h0m-.8 19.2h0m.7 38.8h0m-2 20.7h0m1.8 22.7h0m.3 112h0m7.3-214.2h0m-.7 34.3h0m.7 4.9h0m.1 2.5h0m-1.5 5.6h0m1.5 21.7h0m.4 8.2h0m-1.3 4.3h0m.5 39.9h0m-.7 12.6h0m.7 5.6h0m.7 3.2h0m-.5 6.3h0m1 16.2h0m-2.3 2.2h0m.6 4.4h0m1.5 8.6h0m-.9 8.2h0m.1 8.9h0m-.4 3.5h0m-.1 5.4h0m1.1 4.8h0m-1.3 5.5h0m4.3-219.7h0m2.8 .1h0m.1 2.6h0m-2.9 .3h0m-.2 22.3h0m2.6 4.4h0m-1.3 2.7h0m-1.3 28.4h0m3.3 16h0m-3.1 2.4h0m.4 2.2h0m2.5 4.1h0m.3 6.3h0m0 2.7h0m-.6 10.4h0m-.1 2.8h0m.1 8.8h0m-2.8 .5h0m3 4h0m-2.5 5.5h0m-.4 7.2h0m2.8 1.5h0m-3 1.3h0m-.6 6.3h0m3.1 .3h0m-1.9 8.5h0m2.4 .8h0m-2.7 1.8h0m2.4 1.2h0m.5 6.1h0m-2.4 6.6h0m2.4 .7h0m-.1 10.1h0m-2.4 .4h0m.3 4.3h0m2.2 1.2h0m-2.3 2.6h0m1.3 3.6h0m.8 2.4h0m-3.3 7.6h0m3.1 .6h0m-.2 12.4h0m.6 2.1h0m1.4 4.4h0m-2.7 .4h0m7-212h0m0 2.2h0m-.2 2.3h0m-.2 4.1h0m.7 3.6h0m-.5 33.3h0m0 2.8h0m-.1 8.8h0m.2 2.2h0m-.5 6h0m.4 2.2h0m-.7 24.9h0m.2 3.3h0m.4 12h0m.6 2.8h0m-.2 8.8h0m-2.8 .9h0m1.9 6.8h0m.7 16.1h0m-2.9 9.6h0m2.9 .5h0m0 7.1h0m.1 9.5h0m-2.4 .4h0m2 3.5h0m2.7 0h0m-5.6 9.8h0m3.4 .3h0m-.3 4.1h0m-2.3 5.6h0m3.3 .6h0m-1.5 6.8h0m1.2 4.2h0m-.4 5.7h0m3-194.1h0m-.5 16.2h0m5.3 3.6h0m-4.6 8.7h0m-.3 24.9h0m.3 2.4h0m-.2 2.4h0m.6 4h0m0 7.9h0m-.8 5.3h0m.5 2.7h0m-.4 9.5h0m-.2 7h0m-.1 2.7h0m0 5h0m.6 2.1h0m.5 4h0m-1.2 1.8h0m5.4 .4h0m-4.5 7.2h0m1.8 7.4h0m-2.4 .8h0m-.1 6.9h0m2.8 2.8h0m2.2 .1h0m-4.5 7.1h0m4.2 4.9h0m.6 3.4h0m-4.9 1.4h0m-.4 7.8h0m2.3 .3h0m-2.4 8.5h0m2.9 0h0m.2 5.4h0m-2.6 .1h0m-.2 2.7h0m-.1 7.9h0m0 3.1h0m9.9-72.2h0m-4.4 11.7h0m4.1 39.6h0m.2 27.6h0m-2.5 .2h0m8.9-218.7h0m.2 19.5h0m-.7 7.2h0m1.1 17.5h0m-.1 3.5h0m0 4.8h0m-3.9 12.6h0m.3 2.5h0m3.5 63.4h0m.4 28.4h0m0 6h0m-4.2 .4h0m3.9 4.9h0m.2 9.8h0m-.8 4.8h0m-3.4 3.1h0m-.2 2.6h0m3.4 9.8h0m-3.1 0h0m3.8 16.3h0m2-67h0m.6 15.5h0m8.6-147.3h0m.4 41.5h0m.1 58.2h0m-2.9 8.6h0m2.8 .3h0m.1 28.8h0m-.6 10.6h0m1.1 10.9h0m-4.2 23.4h0m3.8 .3h0m-.3 6.1h0m-.2 10.3h0m2.6-219h0m-.1 8.3h0m0 3h0m4.6 5.5h0m0 2.4h0m-5.1 9.2h0m0 3.1h0m5 6.2h0m.3 15.7h0m-4.9 .4h0m-.4 10h0m4.9 2.6h0m-1 5.8h0m-.2 2.6h0m1.3 29.2h0m-.1 15.5h0m.1 2.8h0m.3 13.2h0m-5.1 .2h0m2.8 20.3h0m.5 2.2h0m-1.1 7.4h0m2.6 .1h0m-1.6 8h0m-.1 11.6h0m1 5.8h0m-4.5 6.5h0m3.7 5.1h0m-2.6 6.1h0m2.4 .4h0m1.6 9.8h0m-4.1 .5h0m10.8-95.5h0m0 11.4h0m-3 15.6h0m2.8 .2h0m-5.7 5.2h0m3.1 10.2h0m-2.3 6.8h0m5.3-171.3h0m2.5 5.6h0m1 33.8h0m.4 2.6h0m-.8 6.8h0m-2.5 11.4h0m1.1 9.8h0m2.2 2.4h0m-1 2h0m.2 5h0m-.9 4.7h0m-.1 2.5h0m1.1 3.3h0m.1 2.2h0m.4 2.7h0m-3.6 2.7h0m3.1 1.2h0m-1.3 2.2h0m.4 2.9h0m1 4.4h0m-1.1 2.4h0m-2 3.5h0m2.9 0h0m-3.1 5.1h0m.3 6.3h0m5.2 .9h0m-2 7.5h0m-.3 3.4h0m-.9 11.4h0m.3 4.9h0m3.1 .4h0m-5.3 5.3h0m-.5 5.3h0m3.7 1.3h0m-1.5 1.9h0m-1.3 2.3h0m2.6 2h0m-1 2.1h0m.9 9.4h0m2.4 .3h0m-5 0h0m-.9 6h0m2.5 0h0m-.8 5.3h0m1.7 5.8h0m.5 3.7h0m-.3 4.7h0m2.3 1.6h0m-2.3 5.5h0m-2.8 1.7h0m10.8-211.2h0m-1 3.8h0m.1 3.9h0m1 4.9h0m-.9 2.5h0m.2 4.2h0m.2 3h0m-5.1 2h0m5.5 9.3h0m-.1 11.4h0m-.6 3.6h0m.6 5.1h0m-.9 17.1h0m-4.1 14.8h0m2.5 1.1h0m2.7 2.6h0m-.4 21.2h0m.1 6.2h0m-2 1.3h0m1.8 4.1h0m.5 4.5h0m.2 7h0m-5 8.7h0m4.1 2.2h0m.8 3.5h0m-2.8 3.1h0m2.8 9.8h0m-5.8 .2h0m5 2.2h0m-2.4 .3h0m2.6 6.8h0m-2.1 6.5h0m2.4 10.9h0m-2.5 9.1h0m-2.2 1h0m-.6 10.8h0m4.9 1.4h0m.9 3.2h0m5.5-227.5h0m-.2 2.7h0m-2.3 8.9h0m.6 3.3h0m1.2 6.6h0m-.7 22.9h0m-.3 2.5h0m.2 12.1h0m.4 4.4h0m-.1 10.9h0m-.2 3.1h0m1.8 3.9h0m-.9 3.3h0m.9 5.2h0m-1.3 4h0m.2 3.1h0m.1 2.5h0m0 10.1h0m-1.7 3.2h0m1.9 10.1h0m0 3h0m.1 6.6h0m-3 3.7h0m3.6 5.6h0m-1.1 8.3h0m1.2 4.2h0m-.5 6.7h0m-1.5 6.1h0m.8 3.8h0m-2.3 .2h0m.2 3.8h0m1.7 1.9h0m1.5 6.3h0m-2 7.5h0m-3.2 .1h0m4.9 17.2h0m-3.3 .1h0m-2.1 2.7h0m1.7 3.3h0m2.1 .7h0m1.8 9.8h0m.7-219.4h0m3.5 2.8h0m.2 6.4h0m.2 2.5h0m-3.7 37.9h0m4.9 7.3h0m.1 2.7h0m-5.6 2h0m.5 4h0m.2 2.3h0m4.5 3h0m-4.2 2h0m4.3 3.4h0m.5 4.8h0m-3.8 46h0m3.2 8.4h0m0 3.9h0m-.1 5.2h0m-.6 6h0m-4.2 1.8h0m3.6 3.4h0m1.5 6.9h0m.1 4.9h0m-3 .8h0m.7 9.7h0m2.1 7.6h0m-5.1 1.1h0m3.3 4.8h0m-3.2 1.6h0m4.5 6h0m-2.6 .2h0m3.6 3.9h0m-5.1 2.2h0m3 4.5h0m-3.6 3.9h0m5.6 .4h0m-3.5 3.7h0m1.8 1.5h0m4.4-218.1h0m-.1 3.7h0m.6 3.8h0m-.7 12.5h0m-.3 2.8h0m.9 7.6h0m-.5 3h0m1.5 23.3h0m-.9 14.8h0m0 2.3h0m-2.4 10.8h0m1.8 1.9h0m-2.1 1.4h0m2.5 1.7h0m.1 4.5h0m-.4 25h0m-.1 15h0m-2.1 6.6h0m2.5 .1h0m0 3.4h0m2.6 6.3h0m-2.2 2.8h0m-1.9 2.6h0m2.2 .6h0m-.9 3.3h0m.5 4.8h0m.1 2.4h0m2.5 3.6h0m-3.1 .3h0m-2.2 .9h0m2.9 4.4h0m-3.1 .3h0m2 7.9h0m.3 6.6h0m-2.4 4.1h0m2.4 .3h0m.9 7.2h0m-.6 4.1h0m-.1 2.8h0m3 .3h0m-.9 2.9h0m-2.2 .5h0m-.3 4.8h0m.1 3.1h0m5.3-213.5h0m.4 3.2h0m-.4 2.8h0m-.5 31.3h0m.6 19.6h0m.1 3h0m-.3 4.5h0m.5 7.4h0m-.5 10.1h0m1 51h0m-.6 2.8h0m.1 7.2h0m-1.7 2.8h0m1.3 6.4h0m-.1 6.1h0m-1.5 11.1h0m2.2 .6h0m-.5 7.1h0m.1 28h0m0 5.4h0m6.2-221.2h0m-.2 4.4h0m-.3 2.2h0m-.2 3.1h0m-.2 4.4h0m.6 11.8h0m.1 2.7h0m-.6 13h0m0 2.4h0m-.2 3.4h0m0 3.5h0m.3 21.5h0m.2 10.2h0m-.2 2.2h0m-.2 3.1h0m.4 9.4h0m.1 8.1h0m0 25.6h0m3.9 3.1h0m-1.5 3.1h0m-2.3 .3h0m.2 7h0m2.1 8.2h0m-2.4 .7h0m0 9.1h0m3.1 0h0m-3 7.9h0m.4 4.2h0m-.8 15h0m2.2 .3h0m-2 3.4h0m2.3 .5h0m-2 10.8h0m3.6 15h0m-.6 2.7h0m3-221.3h0m.2 13.6h0m-.2 4.7h0m-.4 3.8h0m.5 26.1h0m0 3.2h0m-.5 2.3h0m.1 22h0m.7 5.9h0m2.1 3.6h0m-.7 7.7h0m-1.8 3.7h0m-1.1 4.2h0m1.7 18.8h0m-.8 5.6h0m0 4h0m.6 3.7h0m-.2 3.4h0m0 4.7h0m0 5.5h0m2.3 21.2h0m-2.4 .7h0m.1 6.1h0m.4 4.6h0m1.8 4h0m-.9 3.5h0m-2.3 .2h0m3.9 4.5h0m-3 .3h0m-.1 3.6h0m2.3 5h0m-3.2 10.4h0m.4 4.8h0m.4 2.8h0m-.3 2.6h0m10.2-220.8h0m-2.9 .9h0m1.7 2.8h0m-.2 13.8h0m0 5h0m0 7.4h0m1.8 5.6h0m-.5 15h0m-1.4 2.3h0m1.4 2.3h0m-2 1.8h0m1.2 3.3h0m-1.1 7h0m2.3 8.6h0m-1.7 4.3h0m.1 8h0m-.2 4.5h0m1.7 8.9h0m-.5 3.2h0m.3 18.5h0m-1.6 2.1h0m-.4 11.2h0m2 1.5h0m.2 5.4h0m-.1 2.6h0m-3.1 5.8h0m1.5 9.7h0m.3 7.3h0m-.2 3.9h0m-3.2 .1h0m2.8 2.4h0m.5 4.4h0m.3 6.7h0m-2.6 .1h0m3.8 6.9h0m-2.2 .5h0m.7 3.2h0m-.4 7.1h0m-.1 2.8h0m2 12.1h0m-3 .2h0m5-217.6h0m0 2.8h0m1.6 3.9h0m-1.8 4.8h0m-.4 3.3h0m.5 4.7h0m2 11.4h0m-.2 7.1h0m-2.9 4.5h0m3 1.8h0m-2.7 1.6h0m2.4 .9h0m-2.9 4.2h0m5.6 8h0m-4.5 1.5h0m-.1 2.4h0m.8 2.7h0m0 2.2h0m3.8 .3h0m-4.2 16.3h0m1.2 4.4h0m.3 3.5h0m-.5 3.1h0m.4 3.4h0m.1 21.1h0m-2 3.9h0m-1 3.9h0m3.5 .2h0m-1 7.4h0m-.4 9.6h0m.6 6.5h0m-1.7 4h0m2.7 .4h0m-1.1 5h0m.8 2.2h0m2.2 3.6h0m-2.7 .3h0m-2.5 .2h0m2 18.1h0m.2 5.9h0m-.6 7.6h0m1.2 3.1h0m-3.3 .1h0m1.1 6.3h0m4.7 1.4h0m-3.2 .1h0m-1.4 3h0m4.6 .1h0m-5.8 2.4h0m3.3 3.7h0m-2.5 2.5h0m10.1-225.1h0m.1 2.4h0m-2.7 2.1h0m-2 1.6h0m5.5 1.3h0m-3.4 .2h0m.3 2.6h0m-2.6 1.6h0m1.9 12.1h0m-1.3 4.2h0m-.8 3.5h0m2.5 1.3h0m-1.9 3.2h0m-.5 4.4h0m.1 7.9h0m2.1 10.8h0m-2 6.4h0m5.6 2.7h0m-5.8 0h0m5.5 10.4h0m-2.5 5.1h0m-.8 2.5h0m-2.3 3h0m2.5 .7h0m-.2 2.2h0m.2 2.3h0m-2.2 3.2h0m2.1 1.4h0m-1.6 3.4h0m1.7 12.6h0m-.5 2.3h0m-1.9 5.9h0m2.3 3.7h0m-.1 3.5h0m-2.2 .7h0m4.7 .6h0m.7 7h0m-3 .1h0m.2 7.4h0m1 6.7h0m-3.2 1.9h0m2.1 1.7h0m2.2 1.4h0m-2.5 1.2h0m2.3 4.9h0m-4.6 .4h0m2.4 .2h0m-2 2.5h0m2.5 3.7h0m-2.4 4.6h0m1.3 2.6h0m3.6 3.1h0m-3 .2h0m.4 2.3h0m1.3 5h0m-4 0h0m3.6 6.2h0m-3.8 .5h0m2.9 2h0m2.9 .3h0m-3 6h0m2.4 1.6h0m-4.6 .9h0m1.7 5.9h0m3.1 0h0m-3.1 4.4h0m3.4 0h0m-3.3 6h0m7.3-215.9h0m1.4 3.5h0m-4.4 1.5h0m4.8 .8h0m.3 2.5h0m-.2 2.5h0m-5.4 1.7h0m5.4 6.2h0m0 2.5h0m-5.5 1.6h0m5.8 2.5h0m-5.6 .4h0m4.4 2.1h0m-4.4 1.5h0m.2 4.9h0m5.3 2.1h0m-4.9 .6h0m4.3 3.5h0m-4.7 1.5h0m4.2 .9h0m.8 3.5h0m-4.9 3.6h0m3.9 .1h0m.7 2.3h0m-4.6 2h0m4.2 .3h0m-.7 3.4h0m-3.9 .6h0m4.2 2.5h0m-4.1 5.3h0m-.2 3.4h0m4.5 2.4h0m.4 3.8h0m-5 .6h0m4.8 2.8h0m-.6 2.1h0m1.3 6.6h0m.4 5.7h0m0 2.8h0m-.8 5.3h0m-3.9 1.7h0m3.9 .9h0m-1 3.5h0m-4 3.6h0m.8 4.2h0m.3 3.3h0m3.2 .9h0m.6 4.8h0m-2.4 4.6h0m-2.3 .1h0m1.9 2.6h0m3 .2h0m-4.8 6.7h0m2.7 2.5h0m-2.9 .3h0m.1 5h0m2.9 .9h0m-2.4 2.4h0m3.8 3.7h0m-4.4 1.8h0m5.4 1.1h0m.3 2.2h0m-1.2 3.3h0m1 2.3h0m-5.4 1.4h0m2.5 .1h0m-2.5 4.7h0m5 .6h0m-.4 7h0m-2.3 3.1h0m2.3 .5h0m-4.4 .4h0m.1 5.3h0m4.4 1.7h0m-.2 4.3h0m-2.4 .3h0m-1.9 2.1h0m2.2 3.7h0m2.7 .4h0m.3 4.9h0m-4.7 1.9h0m3 .3h0m1.1 2.6h0m.6 5.6h0m-5.7 .3h0m1.2 3.1h0m3.1 .4h0m4.1-222.8h0m.2 6.7h0m.5 10.9h0m.5 4h0m-.4 3.2h0m1.2 5.9h0m.2 3.1h0m-.5 8h0m.4 2.4h0m-2 7.8h0m.2 10h0m2.2 6.2h0m-2 12.2h0m1.6 23.6h0m-4.4 10.9h0m3.4 10.2h0m1.7 3.6h0m-2.4 .2h0m.5 22.5h0m-3.1 1.3h0m1.4 4.6h0m1.4 10.2h0m.2 6.8h0m-1.6 10.8h0m3 6.7h0m-1.7 11.3h0m-2.6 8.1h0m2.7 .3h0m-1.3 2.8h0m1.5 4.3h0m5.3-217.6h0m-.1 2.8h0m-.7 3.3h0m-1.2 2h0m.5 8.5h0m2.6 3.1h0m2.1 .8h0m-3.1 4.3h0m1 4.2h0m.4 3.3h0m-3.1 26.5h0m.4 2.7h0m.5 4.3h0m-1 5h0m1.3 4h0m-1.1 21.2h0m.7 6.7h0m2.3 3.5h0m-.3 3.1h0m-2.1 9.5h0m3.7 5.2h0m-.4 3.1h0m-3.9 6.8h0m4.6 .4h0m-1.8 1.2h0m-1.7 6.2h0m-.4 3h0m2 5.5h0m-2.1 .7h0m.4 5.9h0m-.2 2.2h0m-.6 7.4h0m4.8 4.6h0m-.8 13.2h0m-3.2 0h0m3.8 17h0m-4.8 .9h0m2.4 .1h0m-1.9 3.5h0m4.4 .8h0m.1 3.5h0m-2.7 5h0m.4 3.3h0m-2.4 .3h0m4 1.6h0m3.3-216.5h0m.6 3.4h0m-1.3 6h0m1 2.3h0m-2.8 2.9h0m3 .7h0m-.3 2.2h0m0 6.6h0m-.6 4.4h0m0 3.4h0m.9 3h0m0 10.9h0m.5 2.9h0m-1.3 3.8h0m1.4 4.1h0m-1.1 2.5h0m1.2 2.8h0m-1.8 4.2h0m-.3 3h0m1.8 1.5h0m-1 2.9h0m.6 5h0m-.5 4h0m-.1 4.5h0m0 4.7h0m-.3 2.5h0m.5 2.6h0m.7 2.6h0m-.6 3.7h0m.5 3.7h0m-.3 3.3h0m-.2 2.6h0m0 2.5h0m-.4 9.4h0m.2 6h0m-1.7 2.3h0m2.3 0h0m-.2 3.7h0m-.1 4.4h0m2.3 .3h0m-2.3 5.2h0m-2.3 .2h0m2.5 3.9h0m-3.1 .6h0m3.4 3.8h0m-2.9 .1h0m2.4 8.6h0m-.4 3.5h0m.2 2.5h0m.4 4.2h0m-.8 8.3h0m.1 5.6h0m2.7 .2h0m-4.9 4h0m5.4 .6h0m-3.8 1.7h0m1.1 3.1h0m2.4 .9h0m-2.8 6.3h0m-2.2 7h0m1.9 1.7h0m2.7 1.6h0m-2.2 .7h0m.4 3.2h0m2.9 .2h0m4.3-220.3h0m1.1 4.6h0m-.3 5.6h0m-.1 3h0m.2 3.7h0m-1 4.9h0m.3 16.9h0m.4 4.9h0m-.7 2.9h0m.3 7.7h0m.1 2.2h0m-.3 2.4h0m.7 2.5h0m.3 6.4h0m-.9 3.6h0m.1 2.8h0m.4 2.9h0m.2 3.2h0m-.7 6.5h0m-.2 4h0m.3 2.6h0m-.5 4.5h0m1 4.1h0m-.4 2.8h0m.3 3.7h0m.2 3.7h0m-.4 5.3h0m0 3.7h0m-.2 3.2h0m.3 5h0m-2.5 2.7h0m2.9 .1h0m-.5 7.2h0m-2.2 2h0m2.2 .2h0m0 5.8h0m0 2.7h0m.4 2.1h0m-.1 5.1h0m-3.6 2.6h0m3.1 0h0m.3 4h0m-2.2 .5h0m1.6 2.9h0m.6 3h0m.7 4.8h0m-.4 3.6h0m-3.1 2.6h0m2.5 1.2h0m.5 3.1h0m-3 1.6h0m2.7 1.9h0m-2.3 9.3h0m2.1 1.1h0m.5 2.4h0m.4 7.5h0m-.3 6.3h0m5.9-220.1h0m-.1 3.1h0m.5 2.4h0m.4 3.1h0m-.8 2.1h0m.7 2.4h0m-.2 2.3h0m.3 3.8h0m-.9 6.5h0m-.3 4.7h0m-.2 4.1h0m.7 7.3h0m.3 8.7h0m-.8 3.9h0m.8 3.7h0m-1.3 10.1h0m1.8 1.8h0m-.6 2.4h0m.4 4.4h0m-.8 2h0m0 2.7h0m-.1 2.4h0m1.2 2h0m-.7 6.4h0m.3 3.9h0m-1 9.6h0m.4 3.1h0m0 5h0m-.3 6.5h0m-1.5 1.5h0m2.4 3.8h0m.3 3.1h0m-.7 4.9h0m-4 .3h0m2.8 3.8h0m0 2.9h0m1.4 1.8h0m-2.9 1.7h0m2.1 8.2h0m-3.2 4.3h0m4.2 1.7h0m-3.9 .6h0m3.1 1.7h0m-1.6 2.5h0m2.7 .3h0m-.6 2.4h0m-3.5 .2h0m3.1 2.2h0m-3.5 .7h0m3.6 5.8h0m-2.5 .6h0m-.3 4.2h0m3.3 .1h0m-.5 5.2h0m.5 2.2h0m-2.5 .2h0m-2.2 .1h0m4.7 6.7h0m-1.5 3.6h0m.5 2.5h0m-.2 3.8h0m.2 5.3h0m1.4 1.9h0m-2.8 1.4h0m1.9 1.7h0m-.8 6.1h0m-2.5 .1h0m8.6-221.5h0m.5 2.6h0m-.2 7.1h0m.8 4.3h0m-.2 4.4h0m-5.1 4.4h0m4.9 1.7h0m.7 4.9h0m-4.9 2h0m4.6 1.1h0m-.2 4.9h0m-.2 2.1h0m-4.7 .5h0m5.5 9.8h0m-.6 7.8h0m.6 2.4h0m-1.5 18.6h0m1.7 3h0m-.3 4.6h0m-.9 10.8h0m.5 8.7h0m-.4 2.9h0m.9 6.9h0m0 2.7h0m-.8 3.4h0m1 5.4h0m-3.5 3.1h0m2.8 1h0m-5 7.9h0m2.1 12.5h0m3.6 1.7h0m-1.3 2.8h0m.7 2.3h0m-3.2 7.8h0m3.8 3.4h0m-2.4 .8h0m-2.4 .1h0m4.4 5.8h0m-3.6 .4h0m1 2.7h0m3 .3h0m-.4 4.9h0m.1 3.4h0m-2.2 .5h0m1.8 4.6h0m-.4 3h0m-4.3 8.5h0m3.9 1.1h0m.6 2.2h0m-2.6 3.7h0m-.1 2.7h0m3.5 2.4h0m-1.1 4.6h0m-3.2 .3h0m4.5-216.3h0m2.7 .9h0m.8 3.4h0m-.3 2.2h0m.2 7.4h0m-.2 3.7h0m.2 12.2h0m.7 3h0m.2 3.5h0m-3.9 12.7h0m3.2 13.6h0m-3.3 .6h0m4.2 6.5h0m-4.5 1.9h0m4 7.4h0m-.7 3.9h0m-3 2.3h0m2.9 .1h0m-3.1 2.8h0m-.2 8.6h0m3.6 7.7h0m-3.5 1.8h0m4.4 8.6h0m-1 2.3h0m.4 4.1h0m-.5 4.7h0m.2 6.7h0m-3.6 .1h0m4.8 4.5h0m-4.6 4.5h0m4.5 .6h0m-.6 5.9h0m-.3 7.1h0m.1 3.8h0m.2 5.9h0m.3 2.5h0m-.4 7.1h0m.5 2.9h0m-.2 5.2h0m-2.3 0h0m-.9 8.4h0m2.8 2.7h0m.5 5.9h0m-2.3 .7h0m2 4.5h0m-3.8 .1h0m3.1 3.6h0m-1.7 1.4h0m2.1 1.1h0m.4 4.5h0m2.1-217.9h0m.6 3.2h0m4 3.8h0m-3.4 .7h0m.2 3.9h0m-.2 12.2h0m.6 2.1h0m-.7 47.4h0m3.9 1.6h0m-3.8 2.1h0m.5 34.3h0m3.8 10.1h0m-1.2 4.9h0m-3.9 5.6h0m.8 2.7h0m.4 4.7h0m-.7 8.1h0m-.4 4h0m-.4 10.5h0m1.4 5h0m4 .4h0m-4.3 12.9h0m-.3 5.1h0m1.9 6h0m-.1 10.1h0m-2.3 5.5h0m2.5 2.9h0m-2.8 .7h0m5.2 0h0m-.4 4.3h0m-4.4 3.5h0m10.3-215h0m-.4 8.3h0m.5 27.1h0m-.1 2.3h0m-.3 6.1h0m.4 14.3h0m0 3h0m-5.2 3.4h0m4.6 1.8h0m-4.3 11.7h0m4.9 12.3h0m0 3.4h0m-.4 3.2h0m-.1 2.3h0m-4.3 6.9h0m4.2 5.7h0m.5 6.5h0m-.6 3.9h0m1 3h0m-.6 2.3h0m-2.2 .1h0m2.8 6.8h0m-.2 15.2h0m-.3 4h0m-3 .2h0m.7 2.7h0m2.9 .1h0m-1.1 6.6h0m-.1 6h0m1.3 4h0m-.8 2h0m-.6 3.4h0m.5 3.2h0m.2 10.7h0m-4.9 5.7h0m4.9 1.3h0m-1 6.5h0m1.1 3.3h0m-.4 6.1h0m2.9-225.6h0m0 2.9h0m2.8 6.2h0m-3 1.1h0m-.4 4.5h0m.7 6.4h0m2.1 2h0m-2.4 4.6h0m2.4 1.4h0m-2.1 1.2h0m-.6 4.2h0m2.3 8.9h0m-1.9 3.4h0m2.2 .9h0m.3 2.2h0m-2.6 2.6h0m.2 2.2h0m-.5 9.2h0m2.7 .3h0m-2.5 9h0m.1 3.4h0m1.2 3.7h0m-1.3 4h0m.2 2.5h0m1.8 1.6h0m-2 4.2h0m2.8 4.1h0m-2.3 2.5h0m-.3 2.1h0m2.8 7.1h0m-2.5 1.4h0m.2 5h0m2 .8h0m-.2 5.3h0m-2.1 2.3h0m0 3.9h0m-.3 11.8h0m2.7 2.3h0m-2.2 .9h0m2.2 3.6h0m-3.1 .6h0m0 5.2h0m4.7 .3h0m-1.6 5.4h0m-3.3 .7h0m1.6 3.8h0m1.1 2.1h0m-3.4 5.2h0m5.9 3h0m-4 .2h0m1.2 2.1h0m2.1 1.5h0m-4.1 3.2h0m.6 5.4h0m4 .6h0m-3.8 4h0m1.4 2.4h0m-2.3 .6h0m2.5 6.3h0m-2.3 .5h0m4.2 1.9h0m-3.8 .3h0m-.1 4.7h0m2.4 2.8h0m-2.3 .7h0m-.7 2.7h0m2.9 .2h0m-1.9 3.7h0m1.8 9.3h0m-2.4 .9h0m7.6-222.3h0m.1 3.2h0m2.9 2h0m-3.2 2.2h0m2 3.7h0m-2.4 .7h0m.6 3.7h0m2.7 .1h0m-.3 2.3h0m-2.5 .6h0m-.9 3h0m3.1 .7h0m-2.1 2.7h0m-.1 6.6h0m-.2 3.6h0m3.3 .9h0m-3 1.8h0m.3 11h0m.1 3.1h0m-.8 2.8h0m-.1 4.8h0m.3 5.7h0m.8 4.5h0m-.7 5h0m2.9 1h0m-3.1 1.2h0m2.8 1.6h0m-2.3 4.3h0m2.2 2.3h0m-2.6 .8h0m.4 2.5h0m2.4 .3h0m-2.7 5.4h0m1.5 3.6h0m-1.7 8.7h0m.5 5.4h0m.3 2.4h0m-.4 5.1h0m.1 2.9h0m1.8 7h0m-2.2 1.8h0m-.2 4.1h0m2.2 .4h0m.3 2.6h0m-2.7 1h0m.1 3.3h0m3.3 1.5h0m-2.4 1.4h0m-.6 2.9h0m2.6 3.7h0m-2.9 1.9h0m1.5 2.6h0m-1.7 3.6h0m2.9 2.3h0m-2.6 2.7h0m2.3 .2h0m.6 2.8h0m-3.1 .4h0m2.2 2.4h0m-2.2 1.2h0m.3 3.3h0m3.1 .3h0m-.1 5.6h0m-2.7 .6h0m2 5.7h0m-2.3 .6h0m2.2 1.7h0m1 3.8h0m-2.9 .1h0m-.5 3.7h0m.4 4.5h0m-1.8 3.4h0m2.4 .6h0m.8 3.4h0m.6 2.1h0m-1.4 2.7h0m2.2 5.2h0m-4.4 2.2h0m3.1 .1h0m1.6-222.5h0m4.4 10.8h0m-.4 2.5h0m.3 2.2h0m1.3 4.9h0m-.5 2.2h0m.3 3.1h0m-.1 3.2h0m0 4.3h0m-5.3 .9h0m5.1 1.7h0m-5 4.3h0m4.6 5.3h0m.5 2.6h0m-.1 5.2h0m-.1 3.6h0m-.2 5.5h0m-.1 2.4h0m-.1 5h0m0 4.3h0m.3 2.5h0m-.5 3.1h0m-.1 4.9h0m.6 4.1h0m-.2 5.6h0m.3 2.3h0m-.3 3.8h0m-.1 3.3h0m.2 2.3h0m.4 3.1h0m-1.3 4h0m-3.5 3.1h0m4.3 7.3h0m.6 3.5h0m-3.4 3.4h0m3.3 1h0m-3 4.7h0m2.5 .2h0m-.2 2.6h0m-4.3 2h0m4.9 4.8h0m.6 2.1h0m-.9 7.2h0m-4.7 4.1h0m4.7 4.4h0m-2.6 .4h0m-.3 4.3h0m2.8 0h0m1 2.7h0m-.4 2.9h0m-5.2 0h0m5 2.3h0m-.1 10h0m-3.2 2.5h0m2.8 .1h0m.7 7.3h0m-5 3.9h0m5.4 0h0m-1.7 5.7h0m-3.5 1.4h0m4.4 6.5h0m-4.5 2.8h0m2.7 0h0m2.3 2.1h0m-3.5 2.5h0m3 .3h0m-2.1 2.4h0m2.3 0h0m2.3-93.7h0m1.1 17.5h0m-.7 26.1h0m-.1 15.1h0m5.1-180.9h0m0 55.2h0m5.1 16h0m-5.3 .8h0m.2 2.9h0m-.2 29.2h0m-.2 2.3h0m.6 8.8h0m4.1 8.1h0m-3.4 12.4h0m4.2 6.8h0m-4.5 4.9h0m2.3 .1h0m-2.7 2.5h0m-.2 12.1h0m-.2 2.5h0m3.2 4h0m-2.8 .1h0m0 4.9h0m.1 7.2h0m2.4 0h0m2.1 .6h0m-2.3 3.3h0m-1.4 1.8h0m-1 5.3h0m-.1 7.3h0m-.3 16h0m8.3-218.4h0m-.4 3.5h0m2.3 9.8h0m0 2.5h0m-1.9 5.4h0m3.1 .2h0m-.3 2.6h0m-2.7 3.8h0m.3 3.8h0m0 3h0m-1.1 10.2h0m3.8 .3h0m-.3 5.1h0m-2.1 8.7h0m-.2 3.2h0m.4 3.6h0m1.5 2.1h0m-2 3h0m-.3 3.3h0m2.4 2.4h0m-.1 3.1h0m.4 2.2h0m.3 5.8h0m-2.9 1.2h0m2 11.9h0m.7 6.2h0m.2 2.3h0m-.9 2.5h0m.2 3.1h0m.2 3.4h0m-2.7 .5h0m3.1 3.7h0m0 3.4h0m-3.8 .7h0m.5 4.9h0m2.4 .4h0m.7 2.7h0m-2.5 .3h0m2.9 9.5h0m-1 2h0m-2.5 .1h0m1 6.9h0m-.2 2.2h0m1.7 2.8h0m-2.1 1.3h0m.2 5.3h0m2.4 2.2h0m-3.3 .2h0m3.4 2.2h0m-2.8 .4h0m3 2.1h0m-2.4 .2h0m-1 4.5h0m2.9 3.8h0m.1 4.3h0m-2.6 6.9h0m.5 6.8h0m.6 6h0m1.7 3.2h0m-2.7 .5h0m2.5 5.8h0m-5 1.8h0m2.3 .1h0m.5 3.2h0m2.7 0h0m1.5-215.8h0m.6 8.6h0m0 3.5h0m-.6 4h0m-1.2 8.9h0m.8 7.8h0m.9 13.7h0m-1.1 2.6h0m-.3 3.2h0m1.8 2.6h0m-.2 2.8h0m-1.1 4.5h0m.8 4h0m-.5 3.7h0m.6 8.5h0m-1.6 3.4h0m1.1 9.5h0m-.1 2.2h0m.5 2.3h0m-.1 19.6h0m.7 8.6h0m-.7 2.9h0m1.1 4h0m-1 2.4h0m.8 10.3h0m2.8 3.1h0m-4.2 1.1h0m-.7 4h0m4.9 22.7h0m-3.1 2.5h0m3.5 4.4h0m-4.2 .5h0m-1.4 3.5h0m.5 2.9h0m4.5 6h0m-4.5 4.5h0m.1 2.2h0m1.3 10.2h0m5.2-218.3h0m.2 3.2h0m.8 8.4h0m-.6 3.2h0m-.7 8.7h0m1 4.6h0m.1 16.2h0m-.1 6.8h0m-.3 2.7h0m.6 11.2h0m-.8 4.2h0m.4 17h0m.1 19.9h0m-.6 15.6h0m.3 8h0m-.6 8.2h0m3 .2h0m-2.4 10.1h0m1.8 7.9h0m-2.2 .1h0m.5 4.7h0m2.9 .3h0m-2.6 11.9h0m-.3 2.3h0m.1 6.5h0m.3 2.9h0m-.2 3.4h0m2.2 5.2h0m-2.8 .1h0m.9 2h0m-.4 5.8h0m-.3 4.9h0m.6 5.5h0m-1.4 10.1h0m8.4-212h0m-.3 2.8h0m.3 2.6h0m.1 3h0m.2 9.4h0m0 2.6h0m-.2 22.3h0m.5 2.3h0m-.5 12.1h0m.3 2.4h0m-.4 12.4h0m.6 8.2h0m-1 28.2h0m.3 21.7h0m1 2.3h0m-.1 3h0m-1.4 13.4h0m.6 7.2h0m.1 23.5h0m-.3 2.8h0m-2.4 30.4h0m2.6 1.2h0m8.8-218.1h0m-2.4 .8h0m1.9 4.1h0m-1.9 1.1h0m.7 8.6h0m1.6 6h0m-.6 10.1h0m-1.8 2.5h0m2.3 1.7h0m-1.3 16.6h0m.2 3.1h0m-1.2 9.3h0m2.5 6.3h0m-.6 3.9h0m-1.5 2.9h0m1.7 3.1h0m.3 10.7h0m-1.4 5.9h0m.2 3.2h0m-.8 6.9h0m1.9 2.4h0m-2.3 4h0m1.7 4h0m.4 3.7h0m-.1 2.3h0m-.3 10h0m-2.3 .3h0m.8 5.8h0m.2 7.5h0m-.2 6.4h0m2.1 1.8h0m-5.7 4.3h0m3.6 .9h0m1.5 5h0m-4.4 10h0m2.9 .2h0m-1.5 6.6h0m3.2 .2h0m-1.9 2.1h0m2.4 .1h0m-.1 4.2h0m-2.6 1.6h0m.5 10h0m-2.4 .7h0m4.4 6.4h0m-2.3 3.7h0m.8 2h0m-.2 3.8h0m-3.9 1h0m6.1-209.5h0m.2 9.7h0m-.2 24.7h0m0 7h0m-.1 64.2h0m.3 32.7h0m-.2 2.5h0m-.1 10.1h0m3.1 .3h0m-3 10.8h0m0 29.3h0m.4 13.6h0m-.3 3.9h0"/><path d="M91.5 408.2h0m-3.4 .9h0m1.7 2.6h0m1.2 2.7h0m-2.8 1.2h0m.2 2.3h0m3.1 3.3h0m-2.4 2.4h0m2.4 1.6h0m.8 4h0m-3.1 .1h0m-.4 3.3h0m.2 5.3h0m2.3 .4h0m-.6 9.7h0m-2.4 6.5h0m-.5 2.1h0m2.6 11.6h0m1.5 1.7h0m-3.9 1.6h0m1.1 1.9h0m-.4 4.3h0m1.3 2.4h0m-.9 3.6h0m2.5 .6h0m-1.1 2.5h0m1.6 1.4h0m-4.3 .1h0m2.3 1.4h0m2.3 1h0m-2 1.3h0m1.1 3.2h0m0 2.8h0m-3.3 .6h0m.1 6.5h0m0 7.1h0m2.9 3h0m-2.6 .2h0m1.4 3h0m1.8 1.4h0m-3.7 .1h0m3.5 3.4h0m-3 1.1h0m-.6 2.3h0m2.5 .4h0m-2 2.6h0m3.3 .2h0m-1.1 4.1h0m-2 1.4h0m1.9 7.3h0m-2.3 0h0m4.5 7.1h0m-2.2 .3h0m-1.1 6.3h0m1.9 2.6h0m-3.3 .2h0m.1 2.8h0m2.2 0h0m.1 5.3h0m-1.8 2h0m-.1 2.9h0m.8 2.7h0m1.7 3.1h0m-2.7 .2h0m2 3.1h0m-2.6 4.5h0m2.5 0h0m-1.7 3.1h0m2.5 .2h0m-2.9 5h0m1 4h0m2 4.1h0m-2.4 6.2h0m2 2.1h0m-2.8 .1h0m2.9 2.2h0m-2.3 4.1h0m2.9 .3h0m-3.1 2.2h0m2.2 1.4h0m.1 5.1h0m-2.3 1.1h0m3.5 .8h0m5.1-220.7h0m-2.6 2.7h0m2.6 4.8h0m-2.9 1.4h0m2.9 2.2h0m0 3.3h0m0 3h0m-.6 3h0m.9 1.9h0m-.6 5h0m.1 2.3h0m.8 2.6h0m-.7 3.1h0m.3 4.7h0m.1 6h0m-.4 4.3h0m.8 4.1h0m-.8 3.7h0m-2.2 .5h0m2.6 3.1h0m-.8 9.9h0m.5 3.2h0m0 3.3h0m-.2 3.2h0m.5 2.5h0m-.5 16.1h0m.3 8.7h0m-3.2 10.7h0m3.2 .9h0m-.5 4.6h0m-3.1 .5h0m3.3 3h0m.4 7.8h0m-2.2 6.5h0m2.2 .3h0m.4 6.8h0m-3.7 2h0m2.8 .2h0m.6 4.4h0m-2.7 4.4h0m2 7.2h0m.6 5.8h0m-.1 11.4h0m-3.2 .7h0m3.8 4.6h0m-.7 2.9h0m-3.2 1.4h0m.1 8.4h0m-.1 6.9h0m2.7 1.7h0m.3 7.7h0m-.1 2.3h0m6.2-221.3h0m-3.1 4.4h0m.2 3.7h0m1.8 8.1h0m1 4.3h0m-2.3 .1h0m-.3 8.3h0m-.8 4.5h0m3.5 1h0m0 7.1h0m-2.7 5.3h0m0 3.1h0m-.7 10.3h0m.7 8.2h0m2 1.4h0m-2.2 4.8h0m.7 3.9h0m-1.2 2.2h0m.3 4.4h0m.3 14.3h0m-.7 3.4h0m.7 2.3h0m2.4 2.6h0m.3 2.3h0m-.6 6.1h0m-2.1 1.4h0m2.6 2.3h0m-2.5 .2h0m0 15.9h0m-.5 16.2h0m2.2 1.5h0m-1.9 2.2h0m3.2 .1h0m-.8 10h0m-2.2 1.4h0m2.8 .7h0m-3.1 4h0m2.6 6.1h0m-2.7 4.8h0m3 2.7h0m-2.9 .3h0m2.8 5h0m-2 1.4h0m2 .8h0m-2.6 3.7h0m-1.1 5.9h0m3.1 .1h0m-2.1 3.7h0m.5 7.4h0m8.5-206.2h0m-2.7 1h0m2.3 2.6h0m.4 3.5h0m-2.2 7.5h0m2.1 3.7h0m-2.8 2.9h0m.5 3.9h0m0 4.5h0m2.1 1.6h0m-2.6 .6h0m2.5 2.7h0m-.3 55.4h0m0 13.1h0m.1 2.9h0m.1 4.1h0m.5 6.4h0m-2.4 2.4h0m2 9h0m-2 6.6h0m2.2 8.9h0m.6 5h0m-2.9 10.9h0m3.8 .8h0m-1.6 4.5h0m-.1 13.6h0m.5 5.4h0m-2.6 4h0m.5 6.3h0m2.1 1.3h0m-2.1 2.3h0m2 4.1h0m-2.8 10.5h0m2.2 .5h0m6.2-218.9h0m-2.3 2.5h0m1.1 2.4h0m3 1.5h0m-3.1 1.4h0m-.1 2.6h0m.3 4.4h0m-.1 5.1h0m-.9 3.6h0m3.7 2.6h0m-3.5 .8h0m2.5 1.4h0m-2.2 1h0m.8 2.6h0m-.3 2.6h0m-1.1 2.4h0m2.1 2.9h0m-1.6 2h0m.5 3h0m2 7.8h0m-3.3 2h0m4.2 .6h0m-3.2 5.4h0m.4 6.7h0m.4 4.7h0m-2 1.1h0m3.9 .6h0m-2.1 .5h0m1.6 7.9h0m-1.7 3.6h0m2.3 .6h0m-1.4 5.5h0m-1 4.4h0m0 2.2h0m-.6 3.4h0m2.5 4.4h0m-3.1 .9h0m1.6 3.2h0m-1.3 4.3h0m4 3.4h0m-4.3 1.5h0m3.3 1.4h0m-2.4 2.4h0m.1 3.3h0m-.4 7.6h0m2.2 .1h0m1.3 4.5h0m-3 4h0m-.6 3.6h0m-.1 2.8h0m3 2.9h0m-4.2 1.8h0m2.4 1.1h0m2.8 1.3h0m-4 2.9h0m3.1 1.2h0m-2.3 6.1h0m-1.3 2.1h0m0 7.6h0m3 .8h0m.6 4.5h0m-2.1 1.2h0m3 2.1h0m-4.4 .7h0m.4 3.9h0m4.1 12.3h0m-4 .5h0m0 5.1h0m-.2 2.8h0m.9 2.7h0m3.3 .9h0m-1.6 4h0m-1.7 2h0m6.7-221.3h0m-.4 4.1h0m3.1 1.5h0m-2.1 3.2h0m-1.2 3.1h0m2.9 .2h0m-2.5 2h0m0 4.3h0m2.9 2.3h0m-2.8 .1h0m2.5 2.6h0m-1.9 1.4h0m-1.4 5.2h0m1 4.9h0m.5 7.3h0m-1.9 2.9h0m1.8 4.5h0m-.4 8.1h0m.6 4.5h0m-.6 4.1h0m-.6 8.6h0m.6 4h0m-.3 2.7h0m2.2 22.4h0m-2 3.5h0m.7 4.5h0m-.3 4.5h0m2.1 1h0m-2 1.7h0m1.5 6.6h0m-2.7 1.6h0m3 8h0m-2.1 .7h0m-3 1.1h0m2.7 13.2h0m2.8 .9h0m-2 1.2h0m-.5 3.6h0m2.2 1.9h0m-2 10h0m1.7 3h0m-3 .9h0m2.8 2h0m-.8 5.3h0m-1 3.5h0m2.3 2.8h0m-2.8 1.5h0m2.6 5.1h0m.5 3.8h0m-2.1 1.6h0m-.4 5.3h0m2.5 .3h0m-2.9 13.2h0m-.4 2.8h0m3.3 1.4h0m3.8-212.7h0m-3.3 .3h0m3.6 4.9h0m-.1 3.9h0m.2 5.8h0m.2 4.1h0m-.3 2.2h0m.7 2.2h0m-.2 2.2h0m-4.4 4.6h0m.2 2.3h0m-.2 3.6h0m3.5 .4h0m.3 2.6h0m.5 2.9h0m0 4.7h0m-.9 7.2h0m-3.5 5h0m4.2 5.7h0m-3.8 4.3h0m3.4 .2h0m-.5 3.1h0m.4 12.1h0m.4 12.8h0m.5 3.2h0m-.3 5h0m-3.9 7.4h0m3.3 2.2h0m-.2 2.4h0m-3.4 2.9h0m4.3 .6h0m.1 3.8h0m-.8 3.3h0m.2 6.5h0m-.3 3.4h0m-.3 3.6h0m.5 3.5h0m1 4.6h0m-2.8 .6h0m2.6 2.5h0m-4.6 .9h0m3.9 7h0m-3.8 .2h0m3.7 10.1h0m-.5 8.3h0m-1.5 4.9h0m2.4 4.8h0m-.3 6.3h0m.4 10.4h0m-1.7 8.4h0m4.7-223.9h0m-.2 5.8h0m.3 3h0m-.5 2.4h0m.1 3.8h0m.4 5.8h0m-.8 11h0m1.2 3.2h0m-.8 4.3h0m.4 9.1h0m-.4 2.1h0m.4 9.4h0m-.8 4.6h0m.1 5.3h0m.2 7.6h0m.3 4.6h0m-.2 3.3h0m0 4.5h0m0 6.7h0m-.8 2.1h0m.7 6.7h0m-.1 4.1h0m.1 9.6h0m-.1 3.1h0m.4 2.5h0m.2 5.4h0m-1.1 8.1h0m.8 7.3h0m-1 9.2h0m1.4 4.2h0m-.1 4h0m.5 6.2h0m-.5 2.2h0m-1.1 10.4h0m.9 6.1h0m4.5 1.4h0m-1.2 4.6h0m-2.9 .1h0m-.6 3.6h0m.2 7.4h0m-.4 7h0m-.2 4h0m.5 5.7h0m6.8-215.2h0m1.3 2.6h0m-.9 2.4h0m-.9 4.1h0m.2 16.2h0m.5 22.7h0m-.3 24.1h0m-.5 3.4h0m.6 17.8h0m.3 19.8h0m.3 2.8h0m-.5 15h0m3.2 1h0m-3.8 31.2h0m2.2 1.4h0m.2 5.9h0m-1.5 3.4h0m2 8.3h0m-2.3 .1h0m.3 4.1h0m.2 6.1h0m3 6.2h0m-3.3 1.5h0m1.9 9.1h0m-2.4 1h0m.6 5.3h0m8.5-218h0m-.3 2.3h0m-.1 10h0m.3 7.6h0m-.5 4.7h0m0 3.2h0m-.6 4.5h0m.6 3.4h0m.6 29.9h0m.3 2.7h0m-1.3 4.2h0m-3.6 4.4h0m4.4 3.4h0m-.6 5.6h0m.7 4.3h0m-.3 21.2h0m.3 2.8h0m-.7 3.9h0m-.6 2.5h0m1.6 2.4h0m-.7 2.7h0m-.1 7.9h0m0 2.7h0m.2 3.6h0m-.2 8.5h0m-.4 3.8h0m.8 4h0m-.4 8.4h0m.3 6.9h0m-.4 19.7h0m.8 19.7h0m-.3 3.9h0m6.7-205.2h0m-3.1 3.2h0m3.7 1.3h0m-4.7 1.1h0m3.9 3.7h0m-3.4 .3h0m0 2.3h0m3.7 16.4h0m-.7 5.6h0m-3.2 1.2h0m4.4 11.4h0m-.5 4.5h0m-3 4.2h0m-.5 9h0m3.6 3.5h0m.5 2.1h0m-.5 35.3h0m-.8 3.2h0m-2.6 1.1h0m3.4 17.1h0m-4.1 28.4h0m.4 5.9h0m2.6 6.7h0m-2.7 .8h0m-.4 6.4h0m3.9 4.6h0m-4.4 1.4h0m4.7 4.4h0m-4.5 19.1h0m4.1 3.7h0m1.2-215.8h0m3.3 6.5h0m.5 2.4h0m-2.5 1.2h0m2.6 1.8h0m-4.2 14.5h0m3.8 35.2h0m.4 2.3h0m0 9.7h0m-2.9 6.8h0m2.5 14.5h0m.1 21.5h0m-2.2 .9h0m2.3 6h0m-2 18.7h0m2.2 10.4h0m-1.8 5.4h0m-.6 2.3h0m-.6 5h0m2.5 .4h0m.2 5.4h0m.2 10.5h0m-.3 10.1h0m-2.4 4.4h0m-1.4 8.3h0m3.8 6.2h0m-2 6.6h0m5.1-223.5h0m-.3 2.5h0m.7 5.4h0m.3 3.5h0m3.8 1.5h0m-4.3 1.2h0m4.5 2h0m.2 4.5h0m-5.4 7.9h0m5.5 .7h0m-5.3 4.7h0m4.9 2.7h0m-4.3 1.6h0m.1 2.2h0m-.4 8h0m4.8 10.4h0m-4.5 7h0m4.6 5.1h0m-.4 6.8h0m-5 4.2h0m5.6 20.2h0m-5.3 9.5h0m.3 3.2h0m4.9 .8h0m-.1 9.7h0m-2.2 6.4h0m2.3 38.6h0m-1.8 4.8h0m1.8 21.1h0m-2.4 3.4h0m-2.6 .2h0m5 6.5h0m-4.8 8.6h0m-.7 2.6h0m5.6-207h0m1.3 8.4h0m-1.1 7.3h0m-.1 5.3h0m5.7 .8h0m-.1 3.8h0m-5.2 4.8h0m-.2 4.4h0m-.3 3.2h0m.3 7h0m5.4 10.4h0m-5.5 14.1h0m.5 3h0m-.5 3.6h0m5.6 2h0m-5.4 .8h0m5.4 9.4h0m-1 4.9h0m-3.7 1.2h0m4.5 2.1h0m-5.5 6h0m0 6.6h0m.5 2.9h0m2 15.7h0m3.4 2.5h0m-5.2 6.9h0m.3 5.2h0m3.7 11.3h0m-2.7 .2h0m3 5.9h0m-2 1.8h0m-2.4 .7h0m5.3 3.2h0m-6 2.1h0m2.8 1.2h0m2.1 9.1h0m-3.3 1.5h0m2 10.1h0m-2.9 .3h0m5.1 3.7h0m-.4 14.9h0m-4.6 1.2h0m2.9 3.2h0m-3.5 .2h0m10.2-212.5h0m-4 1.3h0m-.1 134.2h0m3.5 35.6h0m-3.6 0h0m1.2 6.1h0m7.9-94.3h0m.5 62.8h0m-.5 33.3h0m6.2-186.5h0m-.1 3.7h0m1.1 15.1h0m-1 19.2h0m.1 8h0m-.1 6.4h0m.7 2.5h0m-.1 3.1h0m-.5 8.6h0m1.6 3.7h0m.3 5h0m-1.8 22.4h0m.4 35.8h0m.8 3.2h0m-1.2 5.4h0m1.3 7.5h0m-2.2 2h0m1 4.4h0m-.6 3h0m-.1 8h0m-1.1 11.4h0m1.4 7.1h0m2.4 16.9h0m4.2-198.7h0m1.9 3.4h0m-1.8 1.6h0m1.8 12.8h0m-.2 36.7h0m.2 53.1h0m-1.7 8.2h0m-.2 16.6h0m-.1 15.2h0m-2.3 .7h0m2.3 15.5h0m.7 6.6h0m.1 13h0m.2 12.4h0m-1.7 3.6h0m.4 11.2h0m.4 4.5h0m2.4-220.2h0m-.2 13.8h0m5 15.3h0m-4.9 42.6h0m0 5.4h0m4.2 .2h0m-4.3 2h0m.2 4.8h0m-.1 37.3h0m4.6 .1h0m-4.6 4.9h0m.1 10.1h0m2.4 .1h0m2.7 3.4h0m-.5 29h0m-4.2 .6h0m4.2 30.9h0m-4.3 3.3h0m6.6-200.6h0m3.2 5h0m-3.3 1.5h0m2.2 1.2h0m-1.8 3.2h0m1.5 4.5h0m0 4.5h0m-1.8 3.2h0m4.1 .8h0m-1.2 3.3h0m-3 0h0m2.2 2.9h0m-.6 2.1h0m1.5 46h0m-1.3 4.1h0m-1.6 7.7h0m2.2 3.6h0m-.2 4.9h0m-2 .9h0m-.5 16.3h0m2.5 18.5h0m.1 14.7h0m-2.4 4.4h0m.6 12h0m3.2 6.2h0m-.9 12.3h0m-1.6 8.9h0m2.7 7.8h0m-2.8 2h0m2.5 2.6h0m.2 2.4h0m-4.1 1.2h0m2.2 2.2h0m-2.4 .6h0m2.6 6.1h0m3.7-214.2h0m-1 5.1h0m2 192.1h0m-.1 16.2h0m8.7-218.9h0m-.7 8h0m-2.6 .1h0m1.1 8.6h0m.6 6.8h0m-1.5 1.8h0m2.7 .2h0m-2.1 2.3h0m2.3 1h0m-1.5 13.2h0m-.9 3.6h0m2.6 .1h0m-.7 4.7h0m.9 19h0m-2.2 18.1h0m2 4.3h0m-.8 3.5h0m.5 15.5h0m-.1 4.9h0m-2.4 4.6h0m1.7 8.1h0m.6 5.8h0m.5 2.4h0m-3.6 1.1h0m.9 3.2h0m1.9 2.6h0m-.6 7.6h0m-2.1 .9h0m3.2 16.8h0m-.1 5.4h0m-.4 7.8h0m-2.9 .5h0m2.2 10.5h0m.1 2.8h0m1.3 2.3h0m-.7 4.7h0m.7 16.7h0m4.6-219.1h0m-1.1 6.2h0m1.3 3.1h0m-.3 2.7h0m-.7 3.1h0m-.2 9.7h0m1.4 4.3h0m-.3 24.9h0m.3 4.1h0m.1 16.9h0m-1.4 7.4h0m.1 25.9h0m.5 3.6h0m-.1 15.5h0m.1 2.8h0m1.9 1.6h0m-1.8 3.8h0m-.2 16.3h0m1.2 4.2h0m-1 11.8h0m.4 10.9h0m2.3 6.9h0m-2.6 .3h0m.1 5.9h0m2.7 4h0m-2.7 .6h0m2.3 5.9h0m-3.1 .7h0m-2.1 .8h0m5.6 3.2h0m-2.7 8.2h0m-.4 4h0m5.7-165.8h0m-.1 22h0m-1 85.1h0m-1.1 5.2h0m2 36.2h0m5-198.1h0m.1 41.7h0m.2 74.6h0m-.8 15.3h0m.1 18.7h0m.3 2.2h0m-.1 10.8h0m.4 32.7h0m-.5 8.4h0m-.4 14.6h0m10.3-222.3h0m.5 6.2h0m-4 .1h0m-.2 3h0m4 5.6h0m.4 9.8h0m-2 6.1h0m2.1 1.8h0m-2.4 .5h0m-1.3 3.9h0m-.1 2.7h0m-.4 9.2h0m-.7 4.3h0m5.2 12.9h0m0 4h0m-5 10.1h0m4.3 31.1h0m.8 7h0m-2.6 .5h0m.2 7.6h0m2.2 .2h0m-4.3 .9h0m-.2 4.5h0m0 2.8h0m-.1 16.5h0m.2 4.5h0m2.2 14.3h0m-.7 2.1h0m2.4 18.2h0m.4 2.1h0m.3 9.6h0m-2.5 0h0m-2.2 .5h0m4.4 8.2h0m-2 8.7h0m2.4-217.4h0m.1 9.4h0m.1 46.7h0m5 22.7h0m-5.2 8.9h0m.1 2.8h0m5.5 2.1h0m0 3.5h0m-.2 13h0m-.3 12.2h0m.2 9.3h0m-5.2 34.8h0m-.1 13.9h0m2 3.1h0m-1.8 23.9h0m5 9.6h0m5.5-215.9h0m-.2 5.1h0m-.7 73.2h0m-3.7 69.3h0m-.1 15.6h0m0 19.4h0m8.2-174.9h0m.6 65.6h0m-1.3 67.4h0m4.2 26.3h0m-3.3 .8h0m1.7 19.5h0m6.4-182h0m-.4 5.7h0m.8 3.6h0m-.2 2.5h0m-.6 4.6h0m-2.6 16.8h0m3.5 4.4h0m-3.9 1h0m-.3 3.1h0m4.3 6h0m-.9 16.1h0m.4 2.4h0m.3 5.3h0m-.2 18h0m-1 2.7h0m1.6 19.8h0m-3.3 15.2h0m-.2 5.7h0m.3 8.6h0m2.2 3.7h0m0 8h0m.1 5.9h0m-2.4 2.8h0m3.1 14.9h0m-3.1 11.5h0m-.1 6.7h0m3.8 7.3h0m-2 2.4h0m-1.7 6.7h0m3.2 .4h0m6-118.2h0m-.4 18.4h0m1 82.6h0m.1-156.9h0m.2 5.5h0m-.1 7.5h0m-.1 2.8h0m4.8 90h0m-3.5 3.7h0m.4 11.4h0m-.5 11.6h0m-.9 7.3h0m4.5 6.9h0m-1.3 11.1h0m-3.4 10.5h0m7.4-208.9h0m2.6 19.8h0m-1.5 7.6h0m.2 17.2h0m1.9 24.7h0m-.3 14.6h0m.5 21.4h0m.5 45.3h0m-.6 3.7h0m-3.1 .9h0m2.8 25.6h0m-.1 10h0m.8 5.9h0m-3.3 .2h0m5.2-197.4h0m.9 4.2h0m-1.6 8.4h0m1.1 3.4h0m-.4 17.2h0m1 18.8h0m-1.2 32.6h0m.8 19.2h0m1.9 27.3h0m-1.3 16h0m1 5h0m-2 16h0m3.3 9.6h0m-2.6 9.4h0m-.5 4.4h0m2.9 6.6h0m-2.4 16h0m3 .4h0m5.2-135h0m1.6 66h0m-5.1 1.3h0m3.1 .6h0m2 4.5h0m-5.3 3.5h0m3.2 5.1h0m1 2.2h0m.3 15.7h0m-.9 8.1h0m1.1 5.8h0m-1.8 7.3h0m2.4 1.1h0m-.4 3.8h0m.3 8.9h0m-1.2 3.7h0m3.3-156.6h0m-.4 22.5h0m.3 5.5h0m-1 13.9h0m1.1 2.4h0m-1 44.2h0m.6 13.6h0m-1.4 6.3h0m.2 25.7h0m14.2-70.6h0m3.4 61.1h0m1.4-18.8h0m3.1 3.7h0m-.5 5.9h0m-1.9 13.6h0m2.3 5.8h0m2.3-185.6h0m2.7 65.1h0m.8 56.7h0m-1.2 24.7h0m-1.8 10.4h0m2.9 31.4h0m17.9-35.3h0m0 14.7h0m-.3 2.9h0m-.5 31.2h0m3.4-128.5h0m2.8 68.6h0m1 17.6h0m-.4 36.4h0m6.5-4.8h0m16.8-159.8h0m-.1 77.4h0m.6 13.9h0m-.7 7.6h0m-.2 21.8h0m2.8 .9h0m-1.3 2.5h0m-.8 22.8h0m-.9 11.1h0m.7 5.1h0m4.5-184.4h0m.1 4.4h0m-.6 4.5h0m-.3 46.4h0m3.3 11.9h0m-.9 29.9h0m-2.6 6.2h0m.1 8.1h0m3 .3h0m-.4 15.6h0m-2.6 .1h0m2.6 10.3h0m-.6 20.1h0m-2.4 .1h0m.4 2.7h0m.3 6.3h0m2.5 .6h0m.1 10.9h0m.3 15.6h0m-3 1.4h0m9.1-211.2h0m-.4 8.3h0m.2 3h0m-.4 109h0m2.5 6.5h0m-3.2 .1h0m2.1 7.3h0m-1.3 7.6h0m1.2 17.4h0m-.6 13.5h0m-1 13.3h0m.5 7.5h0m.3 8.9h0m-1.3 3.5h0m1.4 4.3h0m-3.2 1h0m5.8-139.4h0m.3 4.6h0m-.2 11.7h0m.2 3h0m-.1 4.6h0m-.9 23.6h0m.7 22h0m5.2 26.3h0m-5.4 9.1h0m.3 24.9h0m9.3 8.9h0m6.6-195.9h0m-3.3 43.7h0m3.6 105.2h0m-3.5 31.1h0m15.7-195.6h0m.8 23.7h0m-1.2 125.9h0m-.4 46.2h0m6.7-137h0m-.8 10h0m-.9 27.5h0m.1 31.3h0m2.2 20.4h0m-1.8 2.8h0m-2.2 27h0m1.7 16.7h0m.1 6.6h0m3.2-36h0m8.2-166.5h0m-.2 3.2h0m-1.7 52.5h0m1 12.6h0m1.2 1.9h0m-.2 4.6h0m1.1 10.3h0m-2.3 12.1h0m-1.4 23.5h0m.1 8.3h0m2.9 .7h0m.6 2.7h0m-3.4 12.7h0m2.2 .3h0m-2.5 8.2h0m.2 7.6h0m2.6 7.1h0m.7 12h0m-3.6 5.2h0m2.7 10.4h0m-.5 5.1h0m-2.2 11.5h0m3.5 1.6h0m7.7-212.8h0m.5 23.4h0m-5.9 .5h0m5.5 25.3h0m0 21.8h0m.4 2.2h0m-2.6 14.8h0m1.9 40.2h0m.8 5h0m-3 10.6h0m2.2 17.1h0m-.4 11h0m.6 6.2h0m-3.4 .4h0m7.7-176h0m-3.6 14.6h0m4.2 32.7h0m.9 7.5h0m-.2 2.8h0m-4.9 58.8h0m5.8 9.5h0m-1.4 15.8h0m1.2 4.2h0m-3.9 1.4h0m.9 3.4h0m3.3 1.3h0m-.2 24.2h0m-1.3 17.1h0m-.3 6.3h0m.9 10h0m1.4-224.2h0m.3 2.6h0m.4 71.9h0m0 3.4h0m-.7 5h0m4.7 12.8h0m-4.4 25.4h0m-.3 4.1h0m0 7.6h0m3.1 6.8h0m1.4 5.3h0m-.5 15.3h0m1.5 5h0m-1.1 2.1h0m-.2 11.1h0m1 4.1h0m-2.5 7.9h0m2.1 8.9h0m-.7 4.4h0m-4.5 14.6h0m5.1 4.6h0m3.4-214h0m.2 2.4h0m-.4 14.2h0m1.8 39.1h0m-1.9 75.7h0m-.9 9h0m1.4 28.5h0m-2.3 12.9h0m2.6 6h0m-1 2.2h0m0 8.3h0m5.4-194.1h0m.4 3.9h0m.2 3.4h0m-.6 30.2h0m.1 105.4h0m-.1 33.8h0m5.8-182h0m-.1 19.3h0m.2 3.1h0m.4 78.2h0m-.4 31.6h0m3 1.4h0m-2.5 14.7h0m2.7 8h0m-2.7 1h0m-.8 6.5h0m.4 4.4h0m0 14.4h0m-.2 17h0m6.1-188.7h0m.1 35.7h0m-.1 25.1h0m.9 5.7h0m-.6 37.8h0m.3 4.7h0m-.2 3.1h0m.2 9.9h0m-.2 31.3h0m-.1 5.5h0m3.1 9.3h0m-1.2 12.6h0m-1.1 14.8h0m-.2 9.2h0m6.2-219h0m2.1 1.5h0m.8 52.1h0m-1 2.5h0m-.5 88.4h0m-2.6 7h0m2.3 0h0m1.1 8.6h0m.9 7.4h0m-1.7 6.7h0m.2 4.3h0m.7 15.4h0m-2.1 9.5h0m1.8 4h0m.9 6h0m0 6.1h0m.6-219.9h0m3 1.1h0m-1.5 3.4h0m1.8 4.7h0m-2.4 2.2h0m.5 6.4h0m.2 28.4h0m.2 2.9h0m-.2 5.4h0m-1.4 5.9h0m-.1 3.1h0m1.7 3h0m-1.8 9.3h0m1.3 20.7h0m1.5 2.2h0m.8 2.1h0m-.9 18.9h0m-1 2.2h0m1.7 5.7h0m-1.7 1.6h0m-1.4 15.6h0m2.9 6h0m-2.2 1.5h0m2.3 10.5h0m-.6 5.2h0m.5 17.8h0m0 2.3h0m-.1 2.3h0m2.8 2.7h0m-2.6 .1h0m0 10.4h0m-2.9 .1h0m5 6.6h0m-2.4 .4h0m2.7 3.2h0m-3.1 .2h0m-1.9 2.2h0m1.4 4h0m-1 2h0m7.6-220.2h0m-2.6 .2h0m2.2 4.6h0m-2 14.3h0m5.4 4.8h0m-3.4 4.5h0m-1.7 2.7h0m1.9 1.2h0m-2.4 1h0m5.3 11.2h0m-3.1 8.7h0m-1.9 13.7h0m5.5 7h0m-5.7 11.5h0m.9 4.5h0m1.2 24.2h0m-1.8 5.2h0m-.5 5.7h0m2.2 2.2h0m-1.4 6.4h0m3.1 .6h0m2 5.1h0m-3.7 9.3h0m.6 4.9h0m-2.1 1.7h0m-.4 3.4h0m.1 2.3h0m-.2 3.4h0m2.9 1.2h0m2.7 1.3h0m-2.1 6.1h0m-2.8 11.3h0m4.6 0h0m-.1 9.6h0m-3 .2h0m3.3 5.4h0m-2.5 1.6h0m-2.1 .8h0m4.2 .1h0m.5 5.8h0m-3.6 10.4h0m7.7-216.3h0m-3.9 3.7h0m5.4 .6h0m-4.6 8.3h0m4.7 4.4h0m-.6 2.4h0m-.1 2.8h0m-4.5 2.4h0m0 5.2h0m5 .2h0m-4.9 3.9h0m.3 4h0m4.1 3.1h0m.7 2.7h0m.4 2.9h0m-5.2 7.7h0m3.8 .7h0m1 5h0m-5.4 4.7h0m.2 3.1h0m5.7 4.2h0m-1.7 1.8h0m-3.8 4.2h0m3.8 4h0m1.2 42.9h0m-1.2 7.6h0m-3.2 1.4h0m-.5 12.3h0m4.8 1.3h0m-5.3 1h0m.4 6h0m-.4 2.2h0m5.7 7.7h0m-3.4 .4h0m2 2.4h0m.9 15.3h0m-.7 5.7h0m-4 .5h0m4 4.6h0m-2.9 0h0m3.6 2.4h0m0 4.3h0m-1.2 7.4h0m1.5 2.5h0m-.6 6.5h0m-3.6 .1h0m-.3 3h0m7.9-222.5h0m-2.7 10.3h0m3.2 9.8h0m.1 4h0m-3.5 15.5h0m2.9 40.1h0m-2.8 1.1h0m0 30.9h0m3.2 39.1h0m-.2 16.9h0m-.3 5h0m-.2 13.3h0m-2.4 7h0m3 25.1h0m3.3-212.3h0m2.1 21.8h0m3.1 101.4h0m-1.6 5.5h0m-2.6 1.2h0m2.6 22h0m-2.5 2h0m.5 8.8h0m3.7 34.3h0m-4.6 .1h0m4.5 5.9h0m-.2 7h0m2.8-209.5h0m0 3.4h0m.9 11.4h0m-.3 8h0m-.2 3.7h0m.1 3.6h0m-.3 12.8h0m.5 2.4h0m-1.1 2.2h0m.8 3.5h0m-.4 8.5h0m-.4 4.4h0m1 2.5h0m-.4 3h0m.4 6.8h0m.4 4h0m-.8 4.9h0m-1.1 4.3h0m.8 3.7h0m.1 2.6h0m-.9 18.5h0m.9 19.7h0m.2 11h0m.3 3.4h0m-.7 6.6h0m.2 6.5h0m.7 4.5h0m-.9 5.9h0m-.3 8.3h0m.6 5.1h0m.1 5.3h0m-.2 6.2h0m.6 5.3h0m-.5 7.4h0m.1 3.8h0m7.8-216.1h0m.2 4.6h0m.3 5.3h0m0 2.6h0m0 6.2h0m0 18.4h0m0 2.4h0m-.2 7.1h0m-.6 10.4h0m.8 2.6h0m0 2.6h0m-.5 3.6h0m1 4.9h0m-.4 3h0m.9 2.3h0m-1 2.6h0m0 12.2h0m-.7 2.3h0m1 18.6h0m-.8 5.2h0m.3 3.6h0m-.3 2.8h0m-1.9 7.8h0m2.4 .1h0m0 2.6h0m.1 6.4h0m-.3 5h0m.4 2.4h0m-.2 4.1h0m.1 3.3h0m.3 7h0m-.4 2.4h0m0 2.5h0m.5 7.9h0m-.6 6.7h0m-.1 6.4h0m.5 10.5h0m-.5 11.2h0m.4 6.2h0m6.4-219.2h0m-.8 4.4h0m-.4 2.4h0m0 4.1h0m.2 2.5h0m1.4 7.7h0m-.2 3.2h0m-1.5 4.9h0m1.4 3.2h0m-.4 9.2h0m.6 5.4h0m-.3 2.7h0m0 3.1h0m-1.4 16.7h0m.7 5.3h0m.8 4.1h0m-1.6 3.4h0m1 8.7h0m.1 18.5h0m-.6 2.3h0m.1 7.6h0m.8 8.8h0m-.5 7.1h0m-2.5 .2h0m3 7.7h0m-2.5 8.1h0m1.8 1.4h0m0 4.9h0m-1.1 2.8h0m2.2 .5h0m-.4 3.4h0m0 2.4h0m-3.4 .6h0m3.9 5h0m-4.6 0h0m3.5 2h0m.6 3.9h0m-1.9 4.3h0m-2 2.7h0m4.2 .1h0m-.7 6.8h0m.6 10.7h0m-.6 4.4h0m.6 2.8h0m-.9 2.4h0m-3.3 .2h0m1.7 6.6h0m2.6 .2h0m5.1-221.5h0m.3 6.1h0m-5 14.3h0m.1 10.1h0m4.7 29.1h0m.4 16.8h0m-.9 4h0m1 2.6h0m.6 14.5h0m-.5 8.5h0m-5.3 9.5h0m5.3 2.4h0m-.5 4.8h0m-2.9 7h0m2.7 .5h0m.3 7.1h0m-3.4 .4h0m4.2 8.8h0m-5.8 5.1h0m5.8 1.2h0m0 5.3h0m-3.8 10.6h0m.5 2.2h0m2.8 .2h0m-.1 2.9h0m.6 2.1h0m-5.2 8.9h0m4.2 2.1h0m-.9 2.6h0m1.4 7.4h0m.1 7.3h0m-2.9 .4h0m2.1 10h0m.9 6.6h0m.9-219.5h0m3.3 8h0m.5 33h0m-4.2 9.1h0m3.4 15.9h0m.8 6.3h0m-3.8 16h0m-.3 3h0m0 8.3h0m0 19.1h0m3.8 1.4h0m.5 15.3h0m-2.9 1.5h0m2.6 2h0m-.3 5.8h0m-.2 4.5h0m-1.3 1.7h0m1.9 2.4h0m-.2 8.5h0m-3.2 5.2h0m2.9 .5h0m1 2.9h0m-4.6 6.7h0m4.3 7.4h0m-2 1.4h0m-2.4 1.1h0m4.2 15.8h0m-.6 12h0m7.9-208.6h0m-3 5.9h0m-1.6 123.1h0m-.5 14h0m.4 3.9h0m.3 8.4h0m3.6 5.4h0m-4 17.4h0m.1 2.3h0m.5 15.8h0m2.6 .5h0m-3.1 7.6h0m10.5-202.4h0m.4 3h0m-1.5 1.7h0m1.5 36.7h0m-.8 44.4h0m.6 30.4h0m-3.2 2.1h0m1 3.1h0m1.3 3.3h0m.8 21h0m-.8 2.3h0m-2.4 6.1h0m3.3 .1h0m-1.2 20.4h0m.1 4.3h0m-4.1 15.2h0m4 3.3h0m-.7 4.9h0m-2.4 4.9h0m9.5-211.8h0m-3.8 .8h0m.9 3.7h0m1.6 5.8h0m0 4.1h0m-.2 2.6h0m-1.8 9.6h0m-.4 10.8h0m.9 6.7h0m-.6 8.1h0m-.2 2.8h0m1 17.9h0m-1 3.5h0m.9 15.2h0m-1 13.4h0m2.1 5.9h0m-1.4 4.6h0m-.5 9.3h0m2.7 7.7h0m-3.2 .1h0m.3 7.4h0m.4 7.5h0m.8 2.5h0m-.3 2.7h0m1.6 1.6h0m-.2 7.6h0m-3.4 .1h0m1.1 2.7h0m3 .2h0m-2.3 6.1h0m-.1 3.1h0m2.4 5.6h0m-3 2.4h0m.4 6.3h0m2.9 .3h0m-3.2 8.7h0m3.3 1.8h0m-2.6 .6h0m-.5 5.6h0m2.7 10.4h0m-2.6 0h0m7.2-220.1h0m.5 8.6h0m-.4 4.3h0m-.3 4.5h0m2.6 .7h0m-2 11.4h0m2.6 .1h0m-2.4 2.3h0m1.5 3.5h0m-2.3 .3h0m.2 11h0m-.3 4.2h0m-.1 3.8h0m.1 8.3h0m.7 8h0m1.2 5h0m-1.6 5h0m.4 2.8h0m-1.2 3.6h0m.7 5.3h0m2.3 .4h0m-2.4 21.1h0m.1 2.3h0m0 4.8h0m.9 7.1h0m-1.3 8h0m2.3 .9h0m.9 4.9h0m-3.2 .5h0m.2 7.5h0m3.3 2h0m-2.2 1.5h0m-1.5 3.9h0m3 .4h0m-.7 2.3h0m-1.2 8.5h0m-2.7 .8h0m4.8 1.3h0m-2.6 .2h0m-.1 2.4h0m2.7 5.6h0m-2.6 6.7h0m2.5 .8h0m-1.8 6.6h0m-.4 4.3h0m0 5.6h0m3 4.8h0m-2.1 2.4h0m-1.3 3.4h0m-2.4 5.2h0m5.8 1.3h0m-2.4 .5h0m3.3-217.5h0m3.4 3.1h0m0 2.9h0m.8 2.4h0m0 3.1h0m.6 3h0m-.7 3.6h0m-.2 4.9h0m.3 16.2h0m.2 4.8h0m-.9 6.1h0m.6 7.5h0m.8 6.2h0m-1.6 4.8h0m.7 11.6h0m-4.7 4.3h0m4.2 11.3h0m.5 6h0m0 3.1h0m.1 20.2h0m-.3 5.4h0m-4.2 2h0m2.2 16.5h0m2.9 .3h0m-1.1 9.8h0m.4 6.4h0m.1 4.3h0m.4 10.7h0m-.8 8.6h0m-4.3 10.6h0m2.1 1.3h0m-2.1 8.3h0m4.4 1.9h0m.2 2.8h0m-.4 2.6h0m2.4-59h0m10.9-86.7h0m-5.2 34.9h0m4.9 42.8h0m-4.7 .5h0m0 16.7h0m.2 5.2h0m2.6 10.3h0m-2.7 .2h0m0 5h0m8.2-173.2h0m.3 19.8h0m2.6 16.3h0m-2.5 11.1h0m.1 3.7h0m-.8 3.9h0m-2.4 5h0m3 .2h0m1.4 37h0m-2.5 6.9h0m.9 8.6h0m2.7 6.7h0m-3.2 .1h0m2.7 16.7h0m-2.9 4.2h0m3 .3h0m-2.7 4.8h0m3 .1h0m-3.1 11.2h0m2.9 .4h0m-5.1 4.7h0m5.4 8.8h0m-1.5 6.6h0m-3 6.8h0m4 4.3h0m-2.2 6.3h0m-.2 7.6h0m2.9 1.1h0m1.9-206.7h0m.2 4.5h0m-.7 4.5h0m.5 3.9h0m0 4.5h0m-1.6 29.8h0m1.7 2.3h0m.2 10.6h0m-.4 3.5h0m-1 6.2h0m.4 25.7h0m2.7 23.4h0m-1.6 6.7h0m-.5 14h0m-1 2.5h0m1.7 1.8h0m-.8 12.4h0m.3 34.6h0m6.5-99.2h0m-.5 16.4h0m-.3 15.4h0m2.3 .7h0m-2.1 7.7h0m-.5 7.2h0m.6 30.7h0m.1 3.9h0m-.5 6.2h0m.3 4.3h0m-.7 2.9h0m.6 3.4h0m.5 16.9h0m7-212.8h0m.2 18.2h0m-.8 89.3h0m.5 22.7h0m1.3 2.4h0m-1.3 22.5h0m-.2 28.5h0m.2 29h0m8.4-202.8h0m.2 17.6h0m-1.6 1.9h0m1.7 39.4h0m-1.7 4.1h0m1.5 15.3h0m.4 17.6h0m-1.8 6.9h0m-.1 3.4h0m1.6 13.2h0m.1 15h0m-1.7 11.8h0m-.3 15.8h0m2.1 6.8h0m-2.1 .8h0m.2 16.6h0m2.4-200.2h0m-.2 5.3h0m.2 16.5h0m.4 137.4h0m-.3 54.1h0m-.3 3.6h0"/><path d="M90.4 410h0m-1.7 2.8h0m2.1 1.2h0m.8 8.9h0m-.9 5.5h0m-2.5 2.2h0m.5 2.5h0m1.3 20.4h0m.8 16.7h0m-1.2 6.8h0m-2 5.5h0m3.3 .7h0m-2.1 3.2h0m2 1.9h0m-2.7 1.9h0m2.5 1.7h0m1.1 4h0m-.1 2.8h0m-3.7 8.3h0m.8 5.3h0m0 6.6h0m1.8 2.8h0m-1.8 2.7h0m1.2 2.6h0m.1 3h0m.3 4.1h0m.1 2.4h0m-2.4 .1h0m2.9 6.7h0m-.2 6.8h0m-.1 7.8h0m2.2 0h0m-4.7 1h0m1.9 1.3h0m-1.9 3.1h0m4.5 4.3h0m-3 .9h0m.6 7h0m-2.3 0h0m2.6 3.9h0m-1.6 2.3h0m-.4 3.6h0m2.1 .6h0m1 3.4h0m-4 3.6h0m2.3 .1h0m-2.5 5.2h0m2.7 1.9h0m.4 3.1h0m-.4 7.1h0m1.4 6.4h0m-3.4 1.8h0m4 .4h0m-4.6 2h0m3.3 6h0m6.4-219.6h0m-2.7 .4h0m-.2 2.8h0m3.3 2.6h0m-.4 6.4h0m-.3 2.7h0m0 2.4h0m.4 11.5h0m.2 9.7h0m-.3 3.3h0m.8 6.8h0m-1.4 4.7h0m.1 7.8h0m-.2 13.8h0m.6 3.2h0m-.2 29.6h0m.4 12.2h0m-.6 7.9h0m.3 7.9h0m-.3 5.8h0m.4 10.2h0m-.3 4.3h0m.1 11.4h0m-2.4 .5h0m2 5.8h0m-2.4 10.9h0m3 1.5h0m.3 7h0m-3.5 0h0m-.4 9.3h0m4 .6h0m-3.5 5.2h0m4.5 5.8h0m-.4 5.1h0m4.3-216.8h0m-2.1 4.4h0m-.5 3.2h0m.6 10.9h0m.4 9.1h0m1.9 11.2h0m-2.8 5.3h0m.2 4h0m0 30.2h0m.6 19.3h0m.4 4.2h0m-1 3.2h0m-.1 11.2h0m2.2 1h0m-.4 2.4h0m-2.1 13.5h0m1.1 16.4h0m-1.6 1.7h0m1.2 12.9h0m0 3.8h0m-.8 2.2h0m3.4 13.3h0m-3.1 .8h0m2.2 4.4h0m-2.5 2h0m.2 10h0m3.3 .2h0m3-195.7h0m2.6 .3h0m-.2 4.8h0m.4 4.4h0m-.2 6.5h0m.5 2.6h0m-2.2 15.2h0m1.7 76.2h0m.2 8.3h0m-1.9 2.3h0m2.9 7.6h0m-2.9 .5h0m-.6 6.5h0m3.4 8.4h0m-3.9 17.6h0m3.1 .1h0m1.1 17.4h0m-.9 6.2h0m-.4 11.1h0m-3 16.5h0m2.8 .4h0m5.2-220.2h0m.1 3.1h0m-1.3 2.5h0m3.1 2.6h0m-3.2 1.3h0m.4 3.3h0m.5 3.5h0m-.2 5.2h0m.4 3.4h0m-.6 3.9h0m2.3 .8h0m-3.4 2h0m3.7 .2h0m-1.8 3.3h0m-1.2 10.2h0m2.8 .6h0m1.5 9.6h0m-1 2.5h0m-.6 14h0m-.6 3.8h0m-1.4 13.4h0m1.2 7.4h0m-1.3 7.8h0m.2 2.3h0m-.9 8.3h0m.8 5.2h0m-1.4 5.7h0m1.1 3.9h0m2.2 5.2h0m-2.7 .4h0m-.5 15.4h0m.6 7.1h0m.8 2.7h0m.1 6.8h0m-.9 11h0m2.3 3.9h0m-1.5 3.7h0m-1.1 6.5h0m3.4 11.6h0m-4 4.9h0m.8 4.3h0m3.9 5.7h0m-4.7 1.4h0m10.6-216.4h0m-2.6 .6h0m0 2.2h0m3.3 1h0m-3 1.4h0m2.8 3.1h0m-.4 13.5h0m-2.2 4h0m.4 2.8h0m1.8 5.1h0m-.3 4.3h0m.7 3.3h0m-2.5 12.3h0m.1 4.4h0m.8 3.3h0m-1.3 9.8h0m.8 32.4h0m-.7 4.4h0m2.7 7.9h0m-.1 2.4h0m-2.8 6.2h0m.7 7.5h0m.2 15.7h0m-.4 2.1h0m2.4 2.4h0m-1.9 12.4h0m-.3 9.6h0m1.9 8h0m.2 17.3h0m-3 11.8h0m3.1 4.2h0m3.8-210.7h0m.5 3h0m-3.6 11.9h0m3.5 9.4h0m-.7 12.1h0m1.1 5.8h0m.3 22.2h0m-.3 2.3h0m-.4 3.5h0m.3 25.4h0m-.4 20.3h0m.3 3.3h0m-.1 8.5h0m-.4 4.8h0m.3 4.2h0m-2.3 .1h0m2.1 5h0m-2.9 1.4h0m3 3.4h0m-1.3 4.9h0m1.4 7.3h0m-2.9 .5h0m3.1 17.2h0m-.2 2.2h0m-.3 7.7h0m-3.5 2.2h0m3.7 5.7h0m.6 8.9h0m-.7 8.7h0m2.8-221.4h0m-.4 2.8h0m.4 5.9h0m.5 4.2h0m-.3 2.3h0m-.6 14.8h0m1.3 1.9h0m-.9 2.2h0m.6 4.4h0m-.2 7.8h0m-.6 10.5h0m.2 10.2h0m.3 10h0m.4 2.4h0m-.3 3.3h0m-.1 4h0m-.4 10.8h0m.4 8.2h0m-.4 11.6h0m1 3h0m-.1 8.2h0m.2 7.6h0m-.5 16.3h0m-.5 2.6h0m.8 2.9h0m-.5 4.6h0m-.1 6.2h0m.4 17.2h0m-.4 5.4h0m4.9 1.2h0m-3.8 3.8h0m-.4 6.3h0m-.1 5.8h0m-.2 6.1h0m8.4-209.5h0m-1.7 1.7h0m0 5.6h0m1.8 39h0m-1.5 44.6h0m.3 2.2h0m0 38.4h0m-1.1 31.4h0m2.3 .4h0m-1.7 18.9h0m.5 9.4h0m-.4 7.2h0m8.5-202.9h0m.5 4h0m-.3 21.6h0m-.3 2.8h0m-.4 5.2h0m-.6 2.8h0m1.6 2.1h0m-.7 32h0m-.2 4.6h0m0 40.1h0m.6 2.2h0m.2 2.7h0m-1 4h0m-2.7 10.7h0m3.4 .4h0m-.1 16h0m.4 4.5h0m-.3 17.2h0m.1 37.2h0m-1.2 6.4h0m8.1-203.2h0m-4.3 3.2h0m3.8 2.6h0m.5 9.9h0m-.4 13.7h0m.6 134.8h0m-4.1 1.9h0m3.4 10.4h0m.8 18.2h0m3.7-198.5h0m-1.9 2.9h0m-1.4 8.9h0m2.2 103.5h0m-.3 30.9h0m.1 4.7h0m1.5 7.6h0m-1.6 17.4h0m2.4 28.4h0m-2 5.7h0m4.6-221h0m4.1 6.9h0m-4.9 3.4h0m5.6 .9h0m-.7 2.7h0m.6 2.7h0m-.1 13.9h0m-.4 17.5h0m.1 8.7h0m-.5 54.7h0m-4.5 1.8h0m5.2 6.5h0m.1 32.5h0m-.1 41.6h0m-4.4 18.9h0m4.7-178.4h0m.5 9.1h0m-.3 24h0m.1 3.3h0m.9 5.9h0m-1 5.5h0m4.2 15.4h0m1.3 7.4h0m-5.4 4.2h0m.7 3.8h0m4.6 24.1h0m-3.5 .4h0m-2 30.8h0m.3 18.9h0m5.3 .1h0m-5.1 10.9h0m4.4 3.9h0m-4.7 1.6h0m1 12.7h0m-.6 4.4h0m6.1-211h0m-.6 164.1h0m9.7-20.7h0m-.4 34.1h0m6.2-186h0m0 54.7h0m-.7 11.6h0m1.9 3.1h0m-1.4 6.2h0m1.8 56.3h0m.6 20.6h0m-2.5 .3h0m1.5 15.6h0m-3.2 16.9h0m2.3 .2h0m5.6-34h0m-.1 34.6h0m.2 16.7h0m.4 16.6h0m2.2-208.9h0m.2 68.7h0m-.2 44.3h0m.8 2.9h0m-.8 42h0m0 17.7h0m.3 13.4h0m1.8 2.9h0m-2.2 .7h0m10.1-196h0m-.8 5.6h0m-2 .8h0m1.9 3.5h0m.6 16.9h0m-2.7 59.6h0m3.8 1.1h0m-4.1 5.6h0m-.2 3.1h0m3.5 81.8h0m-.7 18.3h0m-2.8 .1h0m1.9 3.4h0m-.7 2.7h0m1.6 4.4h0m.4 5.1h0m-2.6 .6h0m5.7-194.5h0m-.2 177.7h0m9.4-194.7h0m-2.3 7.4h0m-.4 9.7h0m2.7 3h0m-2.4 14.8h0m1.4 3.8h0m.3 23.6h0m.1 20.1h0m-1.9 38.7h0m2.2 4.5h0m-.4 2.2h0m.7 6.5h0m-.3 9.3h0m.6 16h0m-.9 15h0m-.9 13.9h0m1.3 23.1h0m5.1-219.9h0m-.1 6.8h0m.2 5.9h0m-.2 14.7h0m-.4 28.9h0m.8 2.1h0m-.9 26.4h0m.2 44h0m0 7h0m-.4 15.8h0m.7 6.6h0m-.4 9.8h0m-.1 10.4h0m1.1 12.3h0m-1.3 13.4h0m.3 11.6h0m-2.2 4.1h0m7.4-165.9h0m5.1-50.1h0m.3 40.1h0m-.1 91.8h0m-.1 18.6h0m10.5-150.1h0m-3.7 4.7h0m3.6 3.9h0m.4 53.5h0m-.4 2.8h0m-4.5 66.3h0m4.9 57.1h0m-4.3 10.4h0m3.8 16.7h0m.7-16.2h0m6.4-102.7h0m-.1 66.4h0m10.3 3.7h0m5.1-153.3h0m.6 4.5h0m-.1 24.1h0m1 24.5h0m.4 5.3h0m-1.3 3h0m.1 2.5h0m.6 38.1h0m-3.3 15.7h0m.8 33.4h0m2 17h0m-3.3 18.1h0m3.1 9.6h0m-2.3 5.9h0m3 .5h0m11.7-67.1h0m-4.7 33.4h0m7.7-178.8h0m.7 25.3h0m2.1 79.9h0m.5 43.7h0m-1 5h0m-1.6 35.2h0m2.4 6.2h0m-3 .5h0m6.1-196.8h0m.1 3.6h0m-.5 11.2h0m.7 35.8h0m-1.4 32.6h0m1.5 46.2h0m2.5 .3h0m-3.7 15.9h0m-.5 8.8h0m1 11.9h0m-1 24.2h0m3.4 22.8h0m-3.1 .1h0m10.2-68.2h0m-.7 6.9h0m-3.4 3.4h0m4.2 4h0m.1 8.6h0m-4.9 29.1h0m7.6-111h0m-1.8 63.1h0m1 12.6h0m-.7 43h0m.1 6.3h0m-.7 4.4h0m14.4-92.9h0m9-115h0m-1.8 163h0m.6 24.7h0m4-31.3h0m20.5 10.7h0m-.9 34.7h0m6.1-59.7h0m6.7 50.8h0m16.4-160.6h0m1.2 89.6h0m-.7 32.2h0m-.6 24.1h0m4.2-161.6h0m2.2 91.6h0m-2.3 30.2h0m2.3 0h0m-2.5 32.6h0m2.5 7.6h0m1 26.1h0m5.4-211.2h0m-.4 9.5h0m.3 118.9h0m2.1 16.2h0m-2.2 15.4h0m.5 52.3h0m3-119.7h0m-1 28.1h0m.9 84.6h0m6.9-36.1h0m21.5-168.9h0m-1.2 148.8h0m.7 47h0m1.7-47h0m-.5 2.3h0m14.3-96.3h0m1.3 41.5h0m-3.5 21.8h0m.4 8.2h0m-.4 16.8h0m.6 15.6h0m1.9 52.9h0m8.7-140.9h0m.1 57.3h0m-.4 16.4h0m5.6-84.5h0m.5 93.1h0m-1.3 58.9h0m2.3-155.3h0m1.3 92h0m3.8 4.7h0m-1.1 25.1h0m-3.6 17.3h0m4.7 14.8h0m-5 1.6h0m8.6-211.4h0m-2.4 194.6h0m2.3 .5h0m5.1-191.4h0m.1 33.6h0m0 105.9h0m.3 34.9h0m6.1-184.6h0m-.7 23.3h0m-.4 112.1h0m.6 13.7h0m-.3 9.9h0m-.6 7.1h0m.2 35.5h0m6.8-154.6h0m0 2.2h0m.2 22.3h0m-.2 2.4h0m-.6 4.9h0m1.2 55.8h0m-1 32.4h0m1.1 41.4h0m-1 9.9h0m10.1-154.1h0m-.8 10.6h0m.7 68.8h0m-.1 67.8h0m-.4 5.9h0m2.1-202h0m.4 78.2h0m-.3 3.4h0m.2 22.2h0m1.7 30.5h0m-1.3 9.5h0m2.1 5.4h0m-1.3 1.8h0m3.2 18.8h0m-2.7 4.9h0m0 10.5h0m.2 6.8h0m-2.2 5.6h0m.4 2.7h0m-.2 2.3h0m10.1-213.4h0m-5.1 14.9h0m.3 7.6h0m1.7 2h0m3.2 44.8h0m-3.3 16.2h0m1.1 24h0m-2.6 .4h0m-.6 10.8h0m2.1 1.1h0m.8 8.5h0m2.8 12.6h0m-3.8 1.6h0m2.5 .5h0m-1.8 5.6h0m1.2 3.6h0m-3.9 1.7h0m1.9 5.4h0m3.5 .3h0m-.1 5.7h0m-5.1 17.4h0m5.7 1.3h0m-.2 8.8h0m-5.8 1.5h0m2.5 1.1h0m2.6 4.5h0m-4.9 1.7h0m.1 9.4h0m2.7 .5h0m8.7-211.8h0m-.2 2.6h0m-5.3 6.4h0m5.4 4.5h0m0 4.9h0m-4.9 3.5h0m-.4 8.8h0m4.6 4.7h0m.3 3.8h0m-.7 13.3h0m-4.2 7.6h0m.4 4.3h0m4.6 3.9h0m.7 2.4h0m-5.3 56.8h0m4.2 .6h0m-4.8 5h0m4.1 26.4h0m-2.1 .6h0m-2 17.2h0m5.4 1.2h0m-.8 11h0m-.4 5.3h0m1.1 6.6h0m.2 5.3h0m-5.6 5.4h0m10.5-219.8h0m-1.9 79.6h0m-2.5 1.4h0m2.8 69h0m.1 2.3h0m-2.5 14.6h0m2.6 1.4h0m.4 4.4h0m-1.6 46.1h0m5.5-84h0m1 34.1h0m-.5 32.8h0m3.9 7.1h0m3.5-200.7h0m-1.5 12.5h0m.7 2.1h0m.5 9.4h0m-.5 2.6h0m0 20.2h0m.8 3.1h0m-.3 8.4h0m.5 3.7h0m-1.1 4.8h0m.6 21.5h0m.1 5.2h0m.2 40.5h0m-.6 8.9h0m-.4 4.7h0m.6 5.4h0m.2 6.1h0m-.2 4.3h0m-.1 2.3h0m0 11.6h0m-.6 17.2h0m0 16.9h0m8.5-211.3h0m.4 4.1h0m-.5 2.4h0m.1 27.1h0m.1 9.2h0m.1 9.9h0m.3 13.2h0m-.7 4.8h0m-.4 13.6h0m1 2.4h0m.1 20.1h0m-1 4.4h0m.5 4.6h0m-.8 2.6h0m.5 9h0m.2 13.7h0m.6 6.6h0m0 3.9h0m-.6 8.4h0m.8 2.3h0m-.3 7.3h0m-.2 7.1h0m0 5.5h0m-.2 20.7h0m.5 8.1h0m6.2-219h0m-.4 3.3h0m-.1 3.8h0m.7 11.6h0m-.1 4.3h0m-.7 6.5h0m.6 20.2h0m-.1 4.6h0m-.4 20.9h0m.3 2.9h0m-.4 3.1h0m-.1 38.9h0m1.2 7.3h0m-1.3 7.8h0m1.1 16h0m-.5 5.6h0m.5 10.5h0m-2.6 .9h0m1.6 5.3h0m1 4.3h0m-3.6 7.4h0m2.8 .1h0m.7 6.3h0m-.4 10.9h0m-2.4 8.9h0m3 .2h0m-1.2 2.2h0m1.1 5h0m-3.1 .7h0m8.3-218.3h0m.5 3.2h0m-.5 53.2h0m-.3 17h0m-.3 3.3h0m1 2.3h0m-5.2 11.4h0m5.7 3.6h0m-.1 2.8h0m-.5 2.9h0m-.2 15.4h0m.3 4.6h0m.5 14.2h0m-1.2 20.2h0m-1.5 12.1h0m2.6 .5h0m-1.1 6h0m1.4 3.8h0m-2.9 7.2h0m2.8 .8h0m-2.5 16.4h0m2.1 11.7h0m-.2 5.2h0m4.5-210.6h0m-.3 57.3h0m-2.8 16.8h0m-.5 8.7h0m4.1 28.5h0m-.4 17.3h0m-2 6.7h0m2.3 6.1h0m-2.9 1.4h0m3.7 16.2h0m-1.3 4.6h0m-2.9 .1h0m2.3 13.6h0m-.9 16.4h0m1.7 1.5h0m.3 11.2h0m4.3-202.8h0m0 174.6h0m8.6-179h0m-.5 40.3h0m0 74.9h0m-.1 2.2h0m.6 3.2h0m-.6 26.2h0m.7 7.7h0m-.3 20.9h0m-2.4 .3h0m-2.3 19.5h0m5.8 15.9h0m1.4-211h0m.8 2.1h0m1.5 7.1h0m-.6 3.3h0m-1 9.5h0m-.1 10h0m-.1 6.6h0m0 2.5h0m-.5 26.4h0m.3 5.3h0m-.7 27.7h0m.4 27.4h0m.2 9.5h0m.4 6.1h0m-.7 14.2h0m.8 2.6h0m3.3 1.9h0m-3.6 8.4h0m-.8 8.5h0m3.1 4.8h0m-2.8 .8h0m.5 10h0m4.1 16.5h0m-2.7 .3h0m5.5-219.1h0m.2 9.9h0m1.7 1.6h0m-1.5 16.9h0m0 16.4h0m-.3 4.3h0m-.3 3.2h0m.2 2.9h0m3.1 20.9h0m-3.1 5.8h0m2.5 3.4h0m-3 1.3h0m.4 28.7h0m.3 13.2h0m.5 7h0m-.2 5.6h0m-.5 8.4h0m.5 3.3h0m-.7 12.9h0m.8 4h0m-1.1 2.3h0m.4 2.4h0m2.4 12.2h0m.3 16.4h0m-1.6 6.2h0m2 3h0m-2.8 .1h0m3 6.6h0m-2.7 .1h0m3.4-215.8h0m3.5 3.9h0m0 9h0m1 1.9h0m-.4 3.4h0m.4 19.5h0m-.4 4.7h0m.7 2.2h0m-.6 9.8h0m.3 4.2h0m.8 4h0m-.3 15.2h0m-.8 45h0m0 6.3h0m-4.3 2.2h0m4.6 25.8h0m-.9 6.7h0m.6 2.3h0m.4 15.3h0m-.8 7.7h0m1.1 23.1h0m-.2 5h0m7.6-69.7h0m4.6 .5h0m-4.7 23.1h0m7.8-158.1h0m.1 54.6h0m-.5 5.3h0m3 6.3h0m-2 44h0m-.1 6.3h0m-.3 22.4h0m.3 16.6h0m-.1 44.9h0m.2 2.5h0m3.8-190.4h0m.3 107h0m1.5 15.1h0m-1.1 34.4h0m-.7 19.5h0m6.1-69.1h0m.7 7.8h0m-.4 7.1h0m.8 41.6h0m-.6 11.2h0m7.9-196.3h0m8 67.5h0m-1.9 3.8h0m.3 40.2h0m1.9 16.2h0m.2 50.8h0m-4.3 .4h0m2.6 17.3h0m1.5 15.6h0m.8-196.7h0m-.5 97.3h0"/><path d="M91.6 424.9h0m-2.3 3h0m-.9 5.5h0m2.2 45h0m-2.8 4.3h0m2.1 .9h0m-.8 2.5h0m1.1 2h0m-2 18.8h0m2 10.4h0m-.1 3.4h0m-.3 2.7h0m-1.2 2.9h0m3.1 1.1h0m-1.4 5.2h0m-.9 2.3h0m2.2 .3h0m-.5 6.6h0m-1.1 17.3h0m-2.5 1.3h0m1 7.2h0m2.1 .8h0m0 6.9h0m-1 4.5h0m-2 5.6h0m2.3 .2h0m1.7 3.4h0m-3.6 21.2h0m2.9 .1h0m1 5.5h0m-.3 2.7h0m-.8 9h0m6.1-218.5h0m.2 12.5h0m.4 2.5h0m-.1 30.7h0m-.3 2.4h0m-.9 9.2h0m-.3 15.8h0m1.4 2h0m-.2 42.3h0m.2 7.6h0m-.3 10.8h0m.3 13.8h0m-.4 16.5h0m.1 5.3h0m.4 12.8h0m-.5 17h0m-.1 16.4h0m3.7-190.5h0m-.6 51.8h0m1.1 23.3h0m-1.2 16.2h0m.1 15.5h0m.2 14.6h0m2.4 1.6h0m-2 1.8h0m-.1 14.5h0m1.8 18.1h0m-1.6 6.5h0m2.3 9.9h0m-2.6 .3h0m8.5-195.1h0m.2 18h0m-.2 15.5h0m.6 94.4h0m-2.5 .4h0m1.9 16.4h0m-2.3 67.2h0m6.9-219.1h0m.7 2.3h0m-2.1 3h0m4.2 1.3h0m-2.9 1.4h0m2.4 .8h0m-2.6 5.1h0m-.1 2.2h0m.5 10.3h0m-.5 3.2h0m2.2 .3h0m-2.8 3.5h0m.3 10.7h0m-.3 2.5h0m3.6 10.7h0m-2.2 16.7h0m-.6 22.6h0m-.8 22.5h0m3 .4h0m-2.3 9.4h0m-1.6 6.4h0m1.6 16.8h0m-.5 3.5h0m-.1 11.9h0m2.5 0h0m-1.3 10.3h0m2.8 4.4h0m-5.1 3.3h0m1 6h0m4 10.3h0m-3.9 5.4h0m1.1 5.5h0m-.2 6h0m9.4-215.5h0m-.1 19.2h0m-2.2 2.4h0m-.5 5.1h0m2.9 6.7h0m-2.2 4h0m.6 16.9h0m-1.2 4.8h0m.4 13.1h0m.1 31.6h0m2.1 12.2h0m-1.7 14.6h0m-.4 2.6h0m-1.3 14.8h0m1.2 16.2h0m2.2 .2h0m-2.2 17.6h0m2.2 10.6h0m-.4 6.5h0m-4.5 1.1h0m4.9 15.2h0m.3-210.8h0m4.3 .7h0m.5 19.5h0m-1 4h0m.6 17.2h0m-.8 26.6h0m.5 3h0m-.5 24.4h0m-1.1 37.9h0m1.3 3.1h0m.2 6.6h0m.1 8.8h0m.2 8.2h0m-.5 17.7h0m-3.3 .2h0m3.6 2.2h0m-1.8 8.1h0m1.4 6.4h0m0 16.9h0m3.4-220.2h0m.3 2.4h0m-.5 6.2h0m.2 20.9h0m.4 4.5h0m-.3 3.2h0m-.1 20.9h0m-.2 9.2h0m-.1 9.9h0m-.1 3.8h0m-.1 3.4h0m.5 22.3h0m.1 13.2h0m-.1 8.9h0m.3 7.2h0m-.2 15.6h0m-.6 4.9h0m.6 12.1h0m0 16.7h0m-.5 2.2h0m4.1 4.3h0m-4.3 1.1h0m.5 9.9h0m.1 13.1h0m7-207.9h0m-.1 2.9h0m-.7 3h0m1.2 122.1h0m-1 32.4h0m0 23.2h0m.1 5.9h0m.5 5.9h0m7.9-198.9h0m.3 23.4h0m.2 8.9h0m0 136.8h0m-.3 42.2h0m7.7-186.3h0m-4.2 149.3h0m5.9-168.2h0m-1.1 209.2h0m11.4-212.3h0m-5.2 1.1h0m4.9 67h0m.3 32.9h0m0 59.9h0m-.2 28.3h0m-.7 6.8h0m1.3-169.9h0m.2 33.7h0m5 28.1h0m.1 40.6h0m-5.6 29.6h0m.3 20.4h0m1.6 10.4h0m-.8 23.1h0m21.8-32.7h0m5.3-34.7h0m-.5 51.4h0m0 15.4h0m3-31.7h0m-.4 15.7h0m6.9-109.3h0m-.2 110.1h0m2.5 10.8h0m.5 5.4h0m11.9-191.1h0m-2.3 99.4h0m2.8 91.6h0m4.7-207h0m-1.2 15.7h0m.3 122.7h0m.4 16.6h0m.7 35.4h0m10.2-198.3h0m8.1 197.7h0m-2.7 .8h0m4.3 16h0m1.2-16.1h0m23.5-129.4h0m-3.8 62.2h0m2.3 49.5h0m-3 18.5h0m3.2 7.9h0m15.9-8.9h0m5-195.4h0m-.2 145.8h0m1.3 43.1h0m-1.7 22.7h0m3.8 1.2h0m6.7-62h0m.5 10.6h0m21.7 32.9h0m24.9-21h0m29.8-45.2h0m-.5 30.7h0m3.3-135.5h0m2.5 120.7h0m-2.9 .2h0m.1 33.2h0m9.1-177.6h0m.2 120.2h0m-.5 24.3h0m.2 68.2h0m3.2-119.9h0m-.5 27.5h0m.2 23.6h0m27.8 51.5h0m13.3-51.9h0m2.5-47.3h0m-1.7 62.8h0m3.6 53.9h0m13.4-59.2h0m-.6 42h0m3.7-48.1h0m-2.1 .8h0m3.1 29.5h0m1.9 34.3h0m3.1-16.8h0m-1.5 15.4h0m6.9-204.5h0m0 138.3h0m-.6 33.3h0m6-24.8h0m.4 8.1h0m-.8 35.5h0m15.5-127.4h0m1 143.2h0m2.7-68.6h0m-1 51.7h0m2.4 0h0m2.1 .6h0m-2 5.5h0m-2.3 .3h0m-.6 5.9h0m5.3-194.9h0m5.7 50.2h0m-3 64.3h0m2.5 .8h0m.3 6.9h0m-5.6 7.9h0m2.3 1.1h0m.5 16.4h0m-2.6 24.3h0m2.9 10.4h0m-3 6.7h0m1.9 10h0m8.4-208.9h0m1.1 14.9h0m.3 16.8h0m-.1 2.3h0m-.3 36.1h0m.1 54.4h0m-5.4 16.8h0m5.3 14.7h0m-1.4 1.7h0m-4 .1h0m4.7 17.9h0m-4.1 .1h0m.1 5h0m3.9 8.3h0m-4 10h0m3.8 4h0m1.3 5.8h0m.4-210.9h0m3.7 165h0m-1.4 46.3h0m9.4-8.8h0m2.6-202.2h0m.3 11.6h0m0 12.5h0m-.8 38h0m1.3 28.9h0m0 42.6h0m-.9 9.2h0m.2 16.2h0m-.2 4.6h0m.6 13.6h0m-.2 17.4h0m-.3 17.6h0m8.2-206.4h0m.7 2.3h0m-.9 25.3h0m.3 7.2h0m-.2 2.5h0m.6 9.9h0m.1 12.3h0m-.2 3.2h0m-.3 4h0m-.3 14.6h0m.1 24.1h0m0 4.3h0m0 11.4h0m0 15.5h0m.2 9.3h0m.9 7.5h0m-1.1 4.7h0m.4 6.1h0m-.3 7.3h0m.4 33.5h0m5.7-211h0m.8 8.8h0m-.7 8.2h0m-.4 2.8h0m.7 46.8h0m-.2 5h0m-.1 3.4h0m.6 44.3h0m-.1 8.4h0m-1 15.1h0m1.2 16h0m-1.2 5.4h0m-.5 5.3h0m-1.9 7.1h0m3.7 .9h0m-.8 7.1h0m-.2 10.4h0m.9 6.6h0m-.3 2.3h0m-.7 6.5h0m1.9-218.5h0m4.7 1.4h0m-5.1 2h0m5.1 1.1h0m-.9 72.4h0m.7 6h0m.5 36.1h0m-.2 32.5h0m-.9 4.1h0m-4.4 2h0m5.9 20.8h0m-1.2 23.5h0m-3.8 .8h0m4.1 10.6h0m0 5.2h0m1.5-137.9h0m3.1 70.5h0m-.2 15.3h0m-3.2 1.2h0m-.2 17.8h0m3.7 .5h0m13.1-179.9h0m-.1 177.1h0m2.3-174.9h0m.4 12.1h0m-.2 21h0m.9 8.3h0m.1 25.2h0m.1 60.3h0m-2.2 .3h0m1.4 2.3h0m-.1 27.2h0m-.2 3.2h0m.7 10.2h0m-.4 23.6h0m2.1 .4h0m-1.8 17.2h0m7-189.8h0m.1 52.9h0m2.1 2.8h0m-2.5 30.8h0m.2 19.3h0m3.1 1h0m-.5 4.6h0m-2.7 9.4h0m1.1 17.8h0m-1.6 1.8h0m3 .3h0m-2.4 2h0m-.3 2.3h0m3.2 10.7h0m-.3 18.3h0m-2.5 4h0m-.1 4.1h0m0 7.1h0m3.2 .2h0m4.6-213.6h0m-.2 3.9h0m1 8.8h0m.3 23.8h0m-.6 4h0m.2 35.2h0m7.7 93.6h0m8.2-39.8h0m.1 37.7h0m3.8-37.6h0m.6 16.8h0m5.7-17h0m.3 16.3h0m.2 52.1h0m14.2-67.2h0m1.8 48.8h0m.2 34.5h0m.6-83.4h0"/><path d="M91 424.4h0m-.3 3.4h0m-.9 55.6h0m.5 6.3h0m-.6 37.1h0m.9 9.2h0m-1.3 23.1h0m3 9h0m-2.4 7h0m-1.4 9.5h0m2.4 25h0m-2.2 .5h0m2.6 6.7h0m-.9 10.4h0m7.5-202.3h0m-.8 58h0m.1 50.9h0m.8 23.8h0m-1.4 17h0m.6 19h0m0 16.7h0m-.4 16.3h0m3.6-116.3h0m-.3 32.9h0m-.2 15.8h0m.8 16.5h0m-.2 35.9h0m8.4-195.8h0m4.7-6.5h0m-.4 4.1h0m.4 2.2h0m-.9 5.7h0m.5 16.5h0m-.2 13.8h0m.1 2.9h0m2.7 9.5h0m-.8 63.6h0m-1.9 15.4h0m1.9 32.5h0m-2.2 .4h0m-.7 17.6h0m4.1 16.2h0m-2.9 10.8h0m-.4 7.2h0m9.4-214.9h0m.6 3.5h0m-2 32.2h0m-.6 18.6h0m-.3 16.1h0m2.4 43.9h0m.1 15.8h0m-3.3 15.9h0m3.7 34.5h0m-.5 33.6h0m4.4-212.2h0m-3.5 16.9h0m3.6 9h0m.4 43h0m-.3 4.3h0m1.9 54.6h0m-1.7 16.5h0m.5 35.7h0m-4.7 9.1h0m5.2 5.8h0m1.9-202.5h0m0 8.2h0m-.2 21.3h0m.5 46.1h0m-.4 4h0m.1 40.3h0m-.1 17.7h0m.4 14.4h0m-1.1 3.8h0m.6 2.6h0m-.4 9.9h0m.7 35.2h0m-.4 10.9h0m7.8-207.6h0m-1.1 190h0m.4 6.9h0m8.7-29.8h0m18.9-167.6h0m-4.7 2.1h0m4.7 .1h0m.1 68h0m-.4 127h0m.5 15.3h0m.6-151.1h0m5.3 68.4h0m-5.3 31.9h0m21 18.6h0m8.6 16.2h0m-2.4 16.5h0m4.5-15.7h0m8 9.1h0m-.4 7.1h0m14.4-.1h0m-2.4 .1h0m5.4-207.2h0m-.1 140h0m.3 14h0m-.3 38.1h0m20.8-2.1h0m44.3-5.3h0m.1 21.6h0m2.7 1.5h0m89.4-68.7h0m49.7-.6h0m.5 15.6h0m18-9.6h0m5 63h0m3.6-16.9h0m5.2-189.5h0m-.6 136.7h0m.2 35.3h0m5.8-17.7h0m0 35.7h0m19.9-52.1h0m8.3-16.1h0m-3.1 .5h0m-2 16h0m2.4 0h0m1.1 16.3h0m-3.7 24.1h0m.5 10.6h0m4.8 6.7h0m5.1-74.6h0m-.9 32.9h0m-2.6 .2h0m-1.1 18.1h0m4.2 .1h0m-4.2 6.5h0m6-184.8h0m14.3 1h0m.5 11.6h0m0 12.7h0m-.9 38.8h0m-.2 29.2h0m1.6 51.2h0m-1.2 16.1h0m.5 34.5h0m.1 16.9h0m8.7-178.8h0m-1 8.8h0m.3 27.8h0m.2 2.8h0m.3 40.1h0m-.8 5.8h0m-.5 9.1h0m.7 14.4h0m-.5 22.7h0m.5 13.1h0m6.9-111h0m-.2 3.6h0m.2 3.1h0m-1.8 2.1h0m1.6 44.5h0m-1.4 8.2h0m.2 30.1h0m.4 2.4h0m-.5 10h0m-.3 8.2h0m2 16.2h0m-1.3 9.5h0m.7 7.3h0m-2.7 0h0m8.3-218.2h0m-4.9 2.2h0m5.6 77h0m-.9 38.7h0m-.8 48.8h0m.8 17.3h0m.3 17.9h0m.2 15.8h0m.7-213.9h0m3.4 144.3h0m-3.4 1.9h0m4.1 .4h0m-3.7 16.4h0m3.8 17.7h0m-3 .4h0m17.7-177.4h0m1.8 68.2h0m-1.2 60.9h0m.3 40.8h0m-.7 24.1h0m.9 16.5h0m6.2-135h0m3.1 50.6h0m-2.2 1.4h0m-.9 31.7h0m.6 5h0m.2 38.5h0m2.9 7.5h0m-3.1 .5h0m8-212h0m-.3 9.7h0m.5 23.9h0m-.3 40.1h0m.2 2.1h0m-4.5 103.1h0m30.9-51.8h0m.2 68.8h0m17.3-67.5h0m.2 83.5h0"/><path d="M89 428.4h0m1.2 129.2h0m-1.6 18.3h0m1.6 41.3h0m.1 9.4h0m6.9-143.8h0m-.2 51.2h0m.3 25h0m-.2 16.2h0m.1 18h0m.1 18.2h0m0 15.9h0m3.2-83.9h0m.2 68.1h0m11.8-199.5h0m.9 42h0m0 89.3h0m-.6 31.9h0m-1.2 18.2h0m9.4-177.8h0m1.3 16.9h0m-2 126.3h0m2 44.9h0m-.6 22.4h0m5.4-211.6h0m.4 144.4h0m.1 35h0m-2.9 10h0m2.1 6.7h0m-2.5 16.7h0m5.5-212.1h0m.1 20.7h0m.9 49.4h0m-.7 3.1h0m.3 55.1h0m-.6 15.1h0m.2 15.9h0m-.3 35.4h0m7.4-194.5h0m22.7-1.1h0m10 128.8h0m-4.1 32.9h0m20.5 17h0m30.3 34.3h0m5.1-207.2h0m.3 139.1h0m.3 50.8h0m64.9 16.3h0m142.2-66.9h0m18.2 2.8h0m-.3 2.8h0m13.7 26.5h0m31.4-32.5h0m-.8 15.2h0m3.4 1.9h0m4-1.4h0m-3.4 18.2h0m4.8 1h0m15.6-166.1h0m.7 79.3h0m-1.8 1.2h0m1.6 51.4h0m-.7 14.8h0m7.9-125.8h0m1.1 35h0m-.9 44.2h0m-.1 15h0m.1 49h0m7-110.3h0m-.8 6.1h0m-.9 47.9h0m1 7.7h0m.2 31.7h0m.5 18.9h0m-1.2 27h0m1.1 5.8h0m.8-214.4h0m3.9 114.8h0m.1 48.1h0m-.4 17.5h0m.6 18.4h0m.6 15.9h0m.8-217.6h0m2.4 149.1h0m1.8 33.9h0m14.8-177.5h0m1 195.4h0m-.8 16h0m7.5-82.5h0m.4 32.8h0m0 4.9h0m2.7 11.6h0m-2.8 26.5h0m-.6 7.1h0m8.2-138.1h0m26.9 53.9h0m0 67.1h0m15.7-66h0m0 84.1h0"/><path d="M89.3 428.6h0m.3 130.4h0m1.3 58.1h0m5.9-134.9h0m.6 77.2h0m-.4 33.5h0m.2 17.7h0m2.2-.6h0m14.2-155.9h0m-.9 88.6h0m8.7-127h0m-1.5 143.2h0m7.2-143.3h0m-1.2 143.5h0m1.4 51.5h0m2.8-195.2h0m.1 127.6h0m.5 32.4h0m-1.1 34.9h0m7.5-195h0m79.5 211.7h0m5.4-206.5h0m-.2 189.6h0m208.4-50.7h0m64.2 33.2h0m6.1-18.7h0m-5.5 1.3h0m5.6 18.5h0m14.9-86.7h0m-.2 51.7h0m.4 16.6h0m9.2-92.1h0m-1.2 59h0m-.3 50.3h0m7.2-104.8h0m-.3 87.2h0m.3 44.5h0m5.5-94.2h0m-.2 69.3h0m.8 32.2h0m-5.7 .2h0m10.1-33.3h0m15.4 34.2h0m8.6-85.1h0m-.1 2.3h0m-.9 75h0m1.2 6.6h0"/><path d="M90.1 429.1h0m-.9 129.5h0m7.5-76.7h0m.1 111h0m15.6-50h0m9.6-127.3h0m8.3 126.8h0m-.4 67.9h0m7-195.2h0m357.9 179.1h0m4.4-19.2h0m-3.7 .2h0m20.4-16.3h0m-.3 16.3h0m7.5-92.2h0m.5 58.4h0m7-53.2h0m-1 87.1h0m1.1 52.2h0m5.8-35h0m27.6-48.5h0m-.5 83.4h0"/><path d="M97.3 593.4h0m25.6-177.2h0m7.2 126.9h0m8.4-129.2h0m361.9 159.8h0m-4.1 1.5h0m-1.3 17.5h0m21-34.1h0m-.1 16.7h0m13.6-.7h0m1.3 51.8h0m5.8-33.9h0"/><path d="M97.4 594h0m32.8-50h0m369.7 31.2h0m-4.8 17.7h0m35.7-17.4h0m-1.3 51.8h0"/><path d="M499.9 575.5h0m30.2 51.5h0"/><path d="M531.1 626.2h0"/></g><path class="ln" d="M99.3 526.9 L100.8 524.6 L102.4 523.5 L103.7 521.5 L105.1 521.2 L106.4 519.5 L107.9 515.7 L109.4 514.4 L111.0 511.8 L112.5 509.4 L114.0 508.7 L115.5 510.4 L116.8 510.0 L118.2 508.4 L119.5 507.3 L121.0 506.5 L122.6 504.3 L123.9 504.7 L125.3 505.9 L126.6 506.3 L127.8 505.6 L129.1 504.9 L130.3 504.9 L131.6 504.3 L133.0 502.9 L134.3 502.8 L135.7 502.3 L136.9 502.9 L138.2 502.8 L139.4 502.8 L140.7 503.3 L142.0 504.8 L143.2 503.8 L144.5 503.7 L145.8 504.3 L147.1 505.4 L148.5 506.0 L149.8 507.3 L151.3 506.8 L152.9 506.6 L154.4 507.7 L155.9 506.3 L157.4 507.4 L158.9 508.4 L160.4 512.5 L161.9 516.4 L163.3 518.1 L164.6 520.2 L166.0 520.5 L167.3 520.7 L168.7 520.8 L170.0 521.5 L171.2 522.4 L172.5 519.7 L173.8 519.8 L175.0 519.5 L176.4 519.9 L177.7 520.8 L179.1 519.5 L180.6 520.0 L182.1 521.5 L183.1 523.2 L184.1 527.5 L185.6 527.9 L187.2 527.5 L188.6 521.7 L190.0 516.4 L191.6 515.2 L193.1 514.4 L194.4 515.0 L195.8 515.2 L197.1 515.4 L198.4 515.9 L199.8 515.8 L201.1 516.4 L202.5 517.4 L203.8 517.9 L205.2 517.4 L206.7 516.9 L208.2 516.4 L209.2 517.2 L210.2 518.4 L211.8 517.3 L213.3 515.4 L214.6 515.4 L215.8 514.3 L217.1 514.4 L218.3 514.4 L219.3 517.5 L220.3 519.5 L221.3 521.9 L222.3 524.5 L223.9 525.3 L225.4 526.5 L226.9 527.6 L228.4 528.5 L229.9 527.5 L231.4 526.5 L232.4 525.0 L233.4 523.5 L234.4 519.9 L235.5 518.4 L237.0 517.9 L238.5 515.4 L240.0 514.0 L241.5 512.4 L242.9 511.3 L244.2 511.6 L245.6 510.4 L246.9 511.2 L248.3 511.7 L249.6 512.4 L250.9 512.3 L252.3 512.3 L253.6 510.4 L255.0 510.4 L256.3 510.6 L257.7 509.4 L259.2 508.0 L260.7 504.3 L261.7 502.2 L262.7 501.3 L264.2 500.3 L265.7 499.9 L266.8 500.0 L267.8 499.3 L268.8 499.4 L269.8 501.3 L270.8 503.2 L271.8 505.3 L272.8 508.6 L273.8 510.4 L274.8 515.0 L275.8 518.4 L277.4 519.8 L278.9 520.5 L279.9 522.0 L280.9 525.5 L282.4 531.3 L283.9 534.6 L285.0 537.3 L286.5 540.2 L288.0 542.4 L289.6 545.8 L291.1 548.4 L292.4 550.0 L293.8 550.2 L295.1 552.5 L296.6 553.2 L298.1 555.5 L299.1 557.9 L300.1 561.6 L301.6 563.7 L303.2 563.6 L304.7 563.2 L306.2 563.6 L307.7 563.7 L309.2 564.2 L310.8 564.3 L312.3 564.2 L313.8 563.4 L315.3 564.2 L316.3 564.7 L317.3 568.6 L318.3 570.2 L319.3 571.7 L320.3 570.8 L321.3 569.6 L322.9 569.8 L324.4 568.6 L325.8 568.5 L327.2 568.1 L328.6 568.6 L330.0 567.4 L331.4 568.2 L332.8 567.4 L334.2 567.2 L335.7 567.8 L337.1 568.6 L338.5 567.2 L340.0 566.8 L341.5 565.6 L342.9 565.6 L344.2 564.4 L345.6 563.6 L346.9 563.1 L348.3 562.0 L349.6 561.6 L350.9 560.7 L352.3 558.9 L353.6 559.5 L355.0 558.5 L356.3 558.1 L357.7 558.5 L359.0 558.3 L360.4 557.5 L361.7 556.5 L363.0 556.5 L364.4 556.0 L365.7 554.5 L367.2 553.3 L368.8 552.5 L369.8 551.0 L370.8 548.4 L371.8 548.0 L372.8 545.4 L373.8 543.4 L374.8 541.4 L376.4 540.5 L377.9 538.4 L379.4 537.8 L380.9 537.3 L382.2 535.4 L383.6 535.4 L384.9 534.3 L386.4 533.3 L387.9 533.3 L389.4 532.4 L391.0 531.3 L392.3 530.6 L393.7 530.5 L395.0 529.9 L396.3 528.6 L397.6 530.7 L398.8 530.2 L400.1 529.3 L401.3 529.2 L402.6 528.9 L403.8 529.5 L405.0 529.5 L406.3 529.5 L407.7 529.1 L409.0 528.5 L410.3 528.6 L411.6 527.2 L412.8 527.6 L414.1 528.1 L415.4 528.7 L416.6 527.9 L417.9 526.8 L419.1 527.5 L420.6 529.1 L422.2 531.6 L423.7 531.8 L425.2 533.6 L426.7 531.5 L428.2 530.6 L429.6 530.2 L430.9 528.4 L432.3 527.5 L433.6 527.1 L434.8 525.6 L436.1 523.7 L437.3 523.5 L438.6 523.1 L439.8 524.8 L441.1 523.1 L442.3 523.5 L443.7 523.9 L445.0 526.2 L446.4 526.5 L447.4 525.1 L448.4 523.5 L449.7 523.5 L451.1 524.3 L452.4 523.5 L453.9 521.5 L455.5 521.5 L456.8 521.1 L458.2 519.6 L459.5 519.5 L460.8 518.3 L462.2 518.3 L463.5 518.4 L465.1 517.5 L466.6 515.4 L467.6 516.3 L468.6 517.4 L469.6 514.9 L470.6 514.4 L471.9 514.1 L473.3 515.9 L474.6 515.4 L476.0 514.6 L477.3 512.1 L478.7 511.4 L480.2 512.3 L481.7 510.4 L482.7 507.6 L483.7 505.3 L485.2 503.1 L486.8 502.3 L488.3 501.7 L489.8 501.3 L491.1 502.5 L492.5 503.5 L493.8 503.3 L494.8 503.4 L495.8 502.3 L497.4 505.1 L498.9 508.4 L500.4 508.6 L501.9 509.4 L503.2 508.9 L504.6 510.0 L505.9 510.4 L507.3 510.7 L508.6 511.9 L510.0 512.4 L511.3 513.0 L512.7 514.8 L514.0 516.4 L515.3 516.6 L516.7 517.1 L518.0 518.4 L519.5 515.2 L521.1 513.4 L522.4 512.2 L523.8 511.4 L525.1 511.4 L526.4 511.7 L527.6 511.5 L528.9 510.7 L530.1 511.4 L531.5 511.0 L532.8 510.2 L534.2 509.4 L535.5 509.5 L536.9 507.9 L538.2 507.3 L539.6 506.2 L540.9 504.9 L542.3 504.3 L543.6 505.0 L545.0 505.9 L546.3 506.3 L547.6 506.4 L549.0 506.2 L550.3 506.3 L551.7 506.0 L553.0 505.0 L554.4 504.3 L555.9 503.4 L557.4 502.3 L558.7 501.1 L560.1 501.1 L561.4 500.3 L563.0 500.7 L564.5 502.3 L565.8 502.8 L567.2 504.4 L568.5 505.3 L569.8 507.5 L571.2 507.9 L572.5 508.4 L573.5 510.9 L574.6 513.4 L576.1 514.8 L577.6 516.4 L578.9 517.0 L580.3 517.2 L581.6 516.4 L583.0 516.4 L584.3 515.0 L585.7 514.4 L587.2 515.0 L588.7 515.4 L589.7 517.3 L590.7 519.5 L591.7 520.8 L592.7 522.5 L593.7 519.0 L594.7 516.4 L595.8 518.8 L596.8 521.5 L597.8 521.3 L598.8 523.5 L599.8 523.5 L600.8 524.9"/><rect x="291.2" y="405.6" width="79.2" height="225.1" fill="rgb(193,193,193)" fill-opacity=".5"/><path class="red" d="M88 493.2H617.3M88 536.8H617.3"/><rect class="bd" x="62.5" y="394.6" width="579.5" height="247" /><path class="tk" d="M57 417.0H62.5M57 468.3H62.5M57 519.6H62.5M57 570.9H62.5M57 622.2H62.5M87.8 641.6V647.2M170.9 641.6V647.2M253.9 641.6V647.2M337.0 641.6V647.2M420.0 641.6V647.2M503.1 641.6V647.2M586.2 641.6V647.2"/><text class="tl" x="51.2" y="422.8" text-anchor="end">0.5</text><text class="tl" x="51.2" y="474.0" text-anchor="end">0.4</text><text class="tl" x="51.2" y="525.4" text-anchor="end">0.3</text><text class="tl" x="51.2" y="576.6" text-anchor="end">0.2</text><text class="tl" x="51.2" y="628.0" text-anchor="end">0.1</text><text class="tl" x="87.8" y="663.7" text-anchor="middle">0</text><text class="tl" x="170.9" y="663.7" text-anchor="middle">2</text><text class="tl" x="253.9" y="663.7" text-anchor="middle">4</text><text class="tl" x="337.0" y="663.7" text-anchor="middle">6</text><text class="tl" x="420.0" y="663.7" text-anchor="middle">8</text><text class="tl" x="503.1" y="663.7" text-anchor="middle">10</text><text class="tl" x="586.2" y="663.7" text-anchor="middle">12</text><text class="pi" transform="translate(18.4 518.8) rotate(-90)" text-anchor="middle">π</text><text class="tt" x="11" y="29.5" textLength="307" lengthAdjust="spacingAndGlyphs">A. Males only (XY)</text><text class="tt" x="10.8" y="364" textLength="343.5" lengthAdjust="spacingAndGlyphs">B. Females only (XX)</text><text class="xt" x="97.8" y="697.2" textLength="510.2" lengthAdjust="spacingAndGlyphs">Position on Chromosome 7 (MB)</text></svg></body></html>
